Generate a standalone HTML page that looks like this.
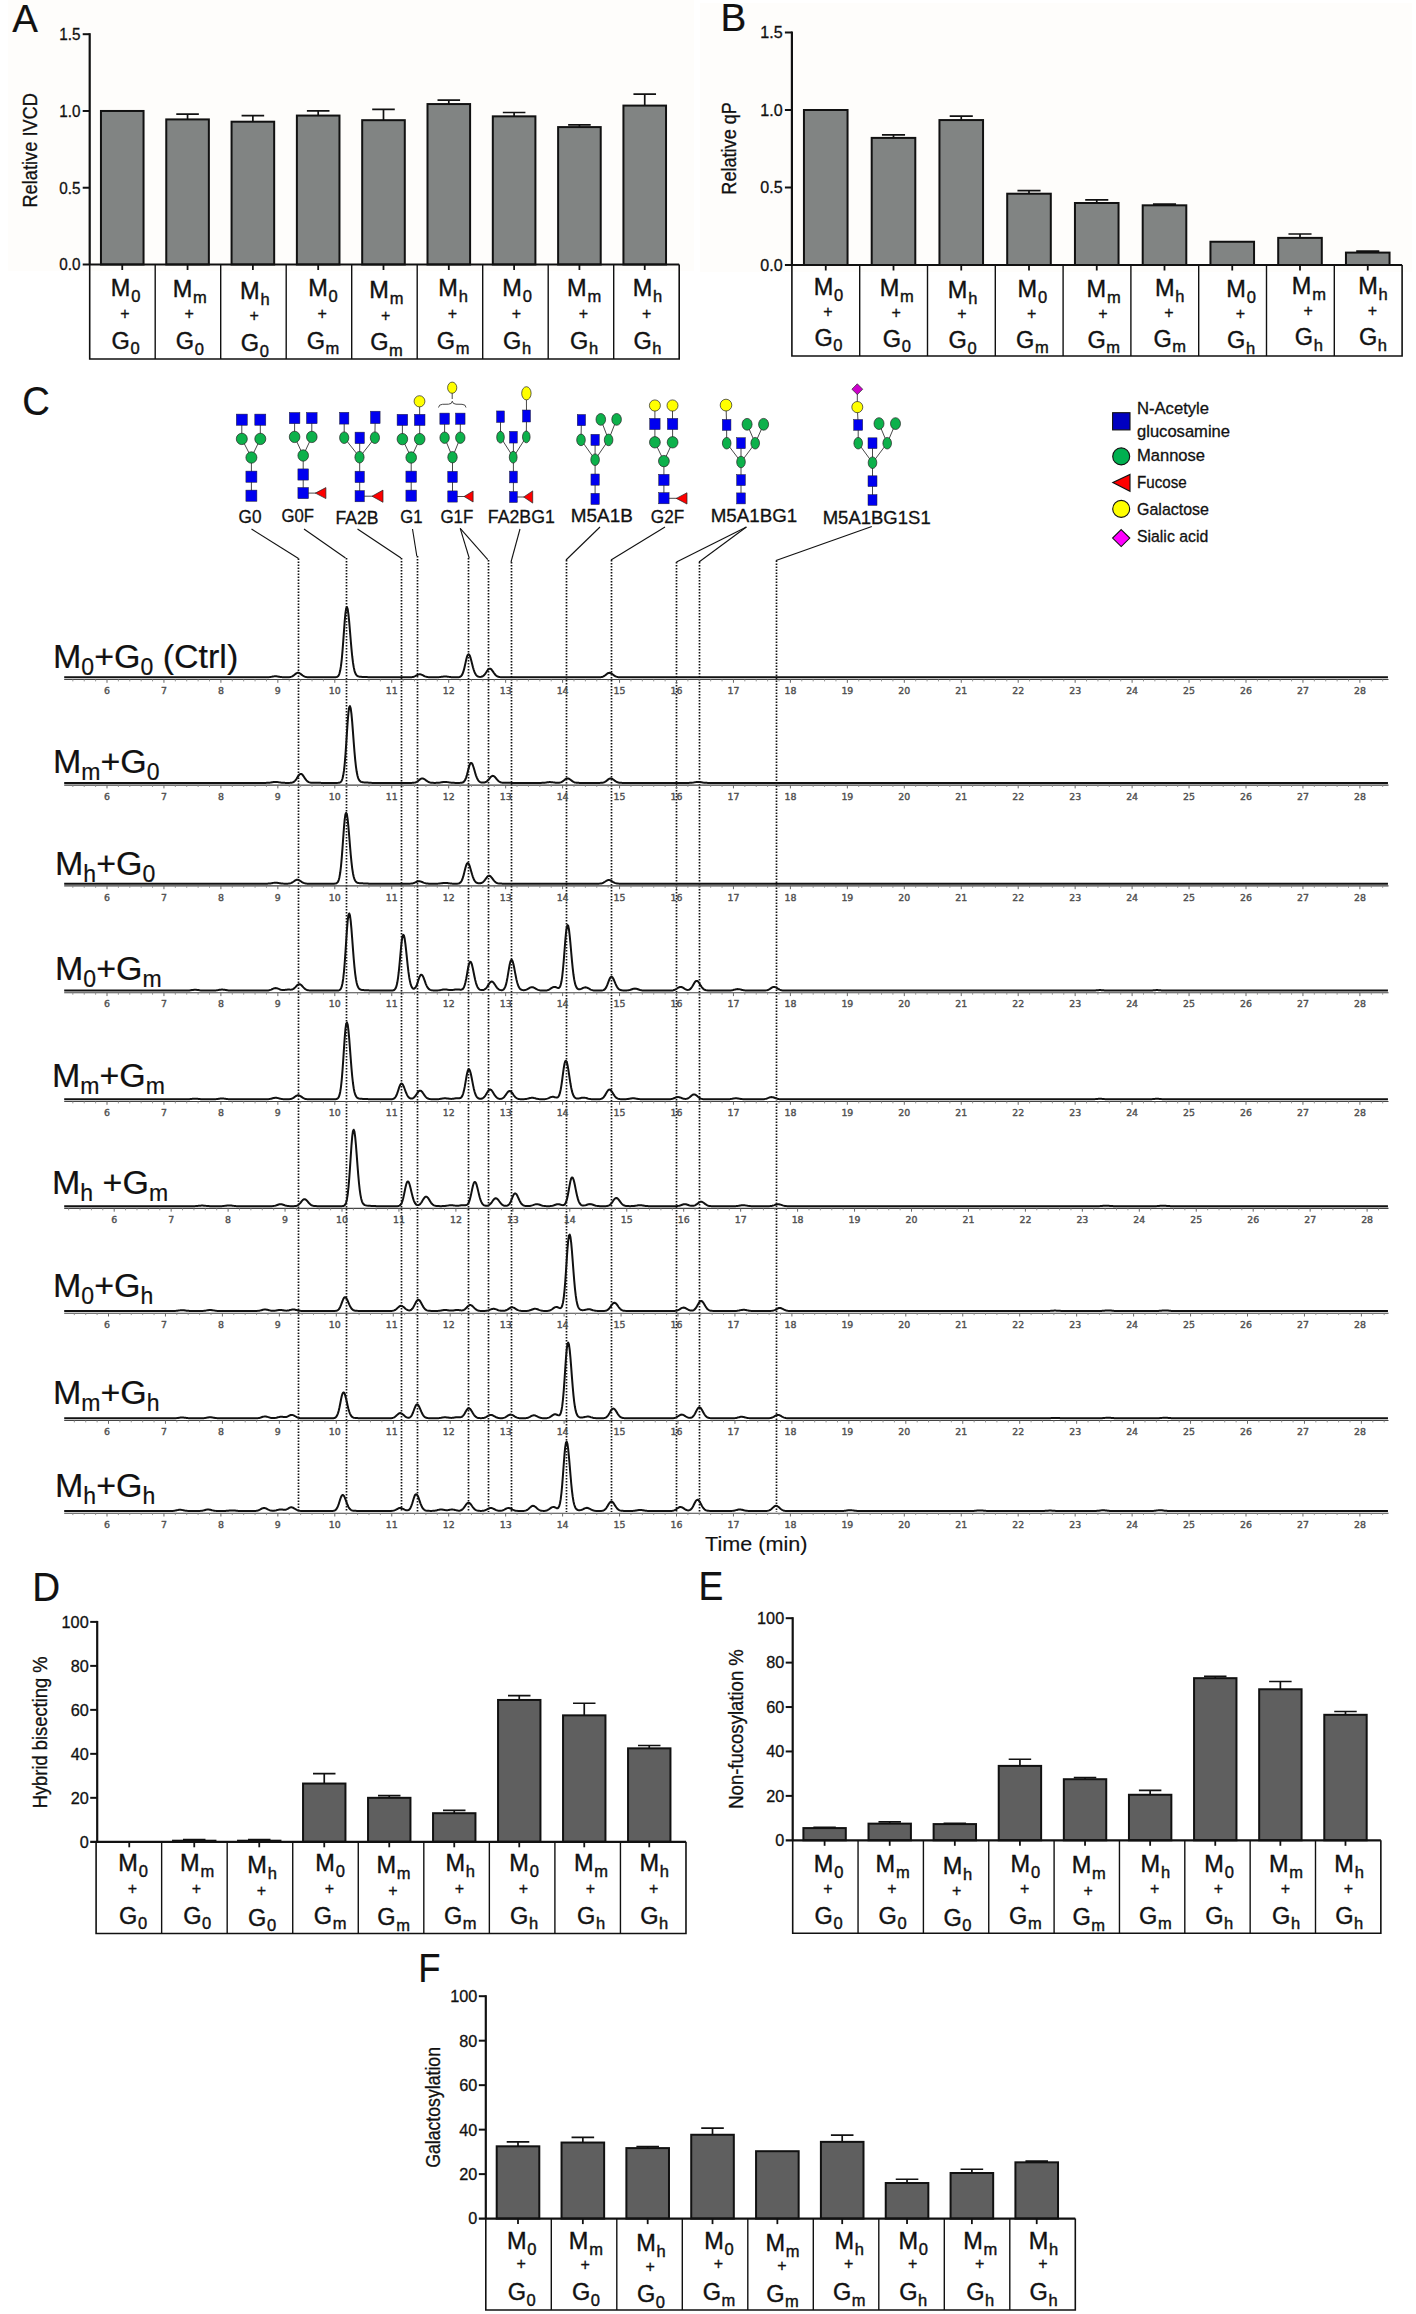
<!DOCTYPE html>
<html lang="en"><head><meta charset="utf-8"><title>Figure</title>
<style>html,body{margin:0;padding:0;background:#fff}svg{display:block}text{font-family:'Liberation Sans', sans-serif;fill:#111;stroke:#111;stroke-width:.3px}.tk text{font-family:'DejaVu Sans',sans-serif;font-size:9.4px;text-anchor:middle;fill:#505050;stroke:#505050;stroke-width:.4px}</style></head><body>
<svg width="1416" height="2314" viewBox="0 0 1416 2314">
<rect width="1416" height="2314" fill="#fff"/>
<rect x="8" y="0" width="686" height="271" fill="#fefdfb"/><rect x="700" y="3" width="712" height="269" fill="#fefdfb"/>
<text transform="translate(12.3 31.8) scale(0.97 1)" font-size="39.7" style="stroke-width:.2px">A</text>
<text transform="translate(720.6 31.1) scale(0.99 1)" font-size="39" style="stroke-width:.2px">B</text>
<text transform="translate(22.3 415.3) scale(0.95 1)" font-size="40.3" style="stroke-width:.2px">C</text>
<text transform="translate(32.2 1601) scale(0.965 1)" font-size="40" style="stroke-width:.2px">D</text>
<text transform="translate(698.5 1600.4) scale(0.93 1)" font-size="40" style="stroke-width:.2px">E</text>
<text transform="translate(418.2 1981.5) scale(0.91 1)" font-size="40" style="stroke-width:.2px">F</text>
<g id="chartA">
<rect x="100.95" y="110.97" width="42.6" height="153.53" fill="#818483" stroke="#111" stroke-width="2"/>
<path d="M187.56 119.41V114.04M176.27 114.04H198.85" stroke="#111" stroke-width="1.7" fill="none"/>
<rect x="166.26" y="119.41" width="42.6" height="145.09" fill="#818483" stroke="#111" stroke-width="2"/>
<path d="M252.87 121.71V115.57M241.58 115.57H264.16" stroke="#111" stroke-width="1.7" fill="none"/>
<rect x="231.57" y="121.71" width="42.6" height="142.79" fill="#818483" stroke="#111" stroke-width="2"/>
<path d="M318.18 115.57V110.97M306.89 110.97H329.47" stroke="#111" stroke-width="1.7" fill="none"/>
<rect x="296.88" y="115.57" width="42.6" height="148.93" fill="#818483" stroke="#111" stroke-width="2"/>
<path d="M383.49 120.18V109.43M372.2 109.43H394.78" stroke="#111" stroke-width="1.7" fill="none"/>
<rect x="362.19" y="120.18" width="42.6" height="144.32" fill="#818483" stroke="#111" stroke-width="2"/>
<path d="M448.8 104.06V100.22M437.51 100.22H460.09" stroke="#111" stroke-width="1.7" fill="none"/>
<rect x="427.5" y="104.06" width="42.6" height="160.44" fill="#818483" stroke="#111" stroke-width="2"/>
<path d="M514.11 116.34V112.5M502.82 112.5H525.4" stroke="#111" stroke-width="1.7" fill="none"/>
<rect x="492.81" y="116.34" width="42.6" height="148.16" fill="#818483" stroke="#111" stroke-width="2"/>
<path d="M579.42 127.09V124.78M568.13 124.78H590.71" stroke="#111" stroke-width="1.7" fill="none"/>
<rect x="558.12" y="127.09" width="42.6" height="137.41" fill="#818483" stroke="#111" stroke-width="2"/>
<path d="M644.73 105.59V94.08M633.44 94.08H656.02" stroke="#111" stroke-width="1.7" fill="none"/>
<rect x="623.43" y="105.59" width="42.6" height="158.91" fill="#818483" stroke="#111" stroke-width="2"/>
<path d="M89.7 33.2V264.5" stroke="#111" stroke-width="2.2" fill="none"/>
<path d="M82.7 264.5H679.2" stroke="#111" stroke-width="2.2" fill="none"/>
<text x="59.29" y="270.36" font-size="16.5" textLength="21.21" lengthAdjust="spacingAndGlyphs">0.0</text>
<path d="M82.7 187.73H89.7" stroke="#111" stroke-width="2" fill="none"/>
<text x="59.29" y="193.59" font-size="16.5" textLength="21.21" lengthAdjust="spacingAndGlyphs">0.5</text>
<path d="M82.7 110.97H89.7" stroke="#111" stroke-width="2" fill="none"/>
<text x="59.29" y="116.82" font-size="16.5" textLength="21.21" lengthAdjust="spacingAndGlyphs">1.0</text>
<path d="M82.7 34.2H89.7" stroke="#111" stroke-width="2" fill="none"/>
<text x="59.29" y="40.06" font-size="16.5" textLength="21.21" lengthAdjust="spacingAndGlyphs">1.5</text>
<path d="M122.25 264.5v5.5" stroke="#111" stroke-width="1.8" fill="none"/>
<path d="M187.56 264.5v5.5" stroke="#111" stroke-width="1.8" fill="none"/>
<path d="M252.87 264.5v5.5" stroke="#111" stroke-width="1.8" fill="none"/>
<path d="M318.18 264.5v5.5" stroke="#111" stroke-width="1.8" fill="none"/>
<path d="M383.49 264.5v5.5" stroke="#111" stroke-width="1.8" fill="none"/>
<path d="M448.8 264.5v5.5" stroke="#111" stroke-width="1.8" fill="none"/>
<path d="M514.11 264.5v5.5" stroke="#111" stroke-width="1.8" fill="none"/>
<path d="M579.42 264.5v5.5" stroke="#111" stroke-width="1.8" fill="none"/>
<path d="M644.73 264.5v5.5" stroke="#111" stroke-width="1.8" fill="none"/>
<path d="M89.7 264.5V359H679.2V264.5" stroke="#111" stroke-width="1.6" fill="none"/>
<path d="M155.2 264.5V359" stroke="#111" stroke-width="1.4" fill="none"/>
<path d="M220.7 264.5V359" stroke="#111" stroke-width="1.4" fill="none"/>
<path d="M286.2 264.5V359" stroke="#111" stroke-width="1.4" fill="none"/>
<path d="M351.7 264.5V359" stroke="#111" stroke-width="1.4" fill="none"/>
<path d="M417.2 264.5V359" stroke="#111" stroke-width="1.4" fill="none"/>
<path d="M482.7 264.5V359" stroke="#111" stroke-width="1.4" fill="none"/>
<path d="M548.2 264.5V359" stroke="#111" stroke-width="1.4" fill="none"/>
<path d="M613.7 264.5V359" stroke="#111" stroke-width="1.4" fill="none"/>
<text x="110.83" y="296.25" font-size="23.5" style="stroke-width:.4px">M<tspan font-size="16.5" dx="0.8" dy="6">0</tspan></text>
<text x="124.95" y="319.15" font-size="16" text-anchor="middle">+</text>
<text x="111.62" y="348.75" font-size="23.5" style="stroke-width:.4px">G<tspan font-size="16.5" dx="0.6" dy="5.5">0</tspan></text>
<text x="172.74" y="296.55" font-size="23.5" style="stroke-width:.4px">M<tspan font-size="16.5" dx="0.8" dy="6">m</tspan></text>
<text x="189.15" y="319.45" font-size="16" text-anchor="middle">+</text>
<text x="175.82" y="349.05" font-size="23.5" style="stroke-width:.4px">G<tspan font-size="16.5" dx="0.6" dy="5.5">0</tspan></text>
<text x="240.03" y="298.55" font-size="23.5" style="stroke-width:.4px">M<tspan font-size="16.5" dx="0.8" dy="6">h</tspan></text>
<text x="254.15" y="321.45" font-size="16" text-anchor="middle">+</text>
<text x="240.82" y="351.05" font-size="23.5" style="stroke-width:.4px">G<tspan font-size="16.5" dx="0.6" dy="5.5">0</tspan></text>
<text x="308.13" y="296.25" font-size="23.5" style="stroke-width:.4px">M<tspan font-size="16.5" dx="0.8" dy="6">0</tspan></text>
<text x="322.25" y="319.15" font-size="16" text-anchor="middle">+</text>
<text x="306.64" y="348.75" font-size="23.5" style="stroke-width:.4px">G<tspan font-size="16.5" dx="0.6" dy="5.5">m</tspan></text>
<text x="369.34" y="297.95" font-size="23.5" style="stroke-width:.4px">M<tspan font-size="16.5" dx="0.8" dy="6">m</tspan></text>
<text x="385.75" y="320.85" font-size="16" text-anchor="middle">+</text>
<text x="370.14" y="350.45" font-size="23.5" style="stroke-width:.4px">G<tspan font-size="16.5" dx="0.6" dy="5.5">m</tspan></text>
<text x="438.33" y="296.25" font-size="23.5" style="stroke-width:.4px">M<tspan font-size="16.5" dx="0.8" dy="6">h</tspan></text>
<text x="452.45" y="319.15" font-size="16" text-anchor="middle">+</text>
<text x="436.84" y="348.75" font-size="23.5" style="stroke-width:.4px">G<tspan font-size="16.5" dx="0.6" dy="5.5">m</tspan></text>
<text x="502.33" y="296.25" font-size="23.5" style="stroke-width:.4px">M<tspan font-size="16.5" dx="0.8" dy="6">0</tspan></text>
<text x="516.45" y="319.15" font-size="16" text-anchor="middle">+</text>
<text x="503.12" y="348.75" font-size="23.5" style="stroke-width:.4px">G<tspan font-size="16.5" dx="0.6" dy="5.5">h</tspan></text>
<text x="567.04" y="296.25" font-size="23.5" style="stroke-width:.4px">M<tspan font-size="16.5" dx="0.8" dy="6">m</tspan></text>
<text x="583.45" y="319.15" font-size="16" text-anchor="middle">+</text>
<text x="570.12" y="348.75" font-size="23.5" style="stroke-width:.4px">G<tspan font-size="16.5" dx="0.6" dy="5.5">h</tspan></text>
<text x="632.63" y="296.25" font-size="23.5" style="stroke-width:.4px">M<tspan font-size="16.5" dx="0.8" dy="6">h</tspan></text>
<text x="646.75" y="319.15" font-size="16" text-anchor="middle">+</text>
<text x="633.42" y="348.75" font-size="23.5" style="stroke-width:.4px">G<tspan font-size="16.5" dx="0.6" dy="5.5">h</tspan></text>
<text transform="translate(36.9 150.3) rotate(-90)" font-size="19.5" text-anchor="middle" textLength="114.5" lengthAdjust="spacingAndGlyphs">Relative IVCD</text>
</g>
<g id="chartB">
<rect x="803.95" y="110" width="43.6" height="155" fill="#818483" stroke="#111" stroke-width="2"/>
<path d="M893.5 137.9V134.8M881.95 134.8H905.05" stroke="#111" stroke-width="1.7" fill="none"/>
<rect x="871.7" y="137.9" width="43.6" height="127.1" fill="#818483" stroke="#111" stroke-width="2"/>
<path d="M961.25 120.07V116.2M949.7 116.2H972.8" stroke="#111" stroke-width="1.7" fill="none"/>
<rect x="939.45" y="120.07" width="43.6" height="144.93" fill="#818483" stroke="#111" stroke-width="2"/>
<path d="M1029 193.7V190.6M1017.45 190.6H1040.55" stroke="#111" stroke-width="1.7" fill="none"/>
<rect x="1007.2" y="193.7" width="43.6" height="71.3" fill="#818483" stroke="#111" stroke-width="2"/>
<path d="M1096.75 203V199.9M1085.2 199.9H1108.3" stroke="#111" stroke-width="1.7" fill="none"/>
<rect x="1074.95" y="203" width="43.6" height="62" fill="#818483" stroke="#111" stroke-width="2"/>
<path d="M1164.5 205.32V204.09M1152.95 204.09H1176.05" stroke="#111" stroke-width="1.7" fill="none"/>
<rect x="1142.7" y="205.32" width="43.6" height="59.68" fill="#818483" stroke="#111" stroke-width="2"/>
<rect x="1210.45" y="241.75" width="43.6" height="23.25" fill="#818483" stroke="#111" stroke-width="2"/>
<path d="M1300 237.88V234M1288.45 234H1311.55" stroke="#111" stroke-width="1.7" fill="none"/>
<rect x="1278.2" y="237.88" width="43.6" height="27.12" fill="#818483" stroke="#111" stroke-width="2"/>
<path d="M1367.75 252.6V251.05M1356.2 251.05H1379.3" stroke="#111" stroke-width="1.7" fill="none"/>
<rect x="1345.95" y="252.6" width="43.6" height="12.4" fill="#818483" stroke="#111" stroke-width="2"/>
<path d="M791.9 31.5V265" stroke="#111" stroke-width="2.2" fill="none"/>
<path d="M784.9 265H1402.1" stroke="#111" stroke-width="2.2" fill="none"/>
<text x="760.34" y="270.86" font-size="16.5" textLength="22.36" lengthAdjust="spacingAndGlyphs">0.0</text>
<path d="M784.9 187.5H791.9" stroke="#111" stroke-width="2" fill="none"/>
<text x="760.34" y="193.36" font-size="16.5" textLength="22.36" lengthAdjust="spacingAndGlyphs">0.5</text>
<path d="M784.9 110H791.9" stroke="#111" stroke-width="2" fill="none"/>
<text x="760.34" y="115.86" font-size="16.5" textLength="22.36" lengthAdjust="spacingAndGlyphs">1.0</text>
<path d="M784.9 32.5H791.9" stroke="#111" stroke-width="2" fill="none"/>
<text x="760.34" y="38.36" font-size="16.5" textLength="22.36" lengthAdjust="spacingAndGlyphs">1.5</text>
<path d="M825.75 265v5.5" stroke="#111" stroke-width="1.8" fill="none"/>
<path d="M893.5 265v5.5" stroke="#111" stroke-width="1.8" fill="none"/>
<path d="M961.25 265v5.5" stroke="#111" stroke-width="1.8" fill="none"/>
<path d="M1029 265v5.5" stroke="#111" stroke-width="1.8" fill="none"/>
<path d="M1096.75 265v5.5" stroke="#111" stroke-width="1.8" fill="none"/>
<path d="M1164.5 265v5.5" stroke="#111" stroke-width="1.8" fill="none"/>
<path d="M1232.25 265v5.5" stroke="#111" stroke-width="1.8" fill="none"/>
<path d="M1300 265v5.5" stroke="#111" stroke-width="1.8" fill="none"/>
<path d="M1367.75 265v5.5" stroke="#111" stroke-width="1.8" fill="none"/>
<path d="M791.9 265V356H1402.1V265" stroke="#111" stroke-width="1.6" fill="none"/>
<path d="M859.7 265V356" stroke="#111" stroke-width="1.4" fill="none"/>
<path d="M927.5 265V356" stroke="#111" stroke-width="1.4" fill="none"/>
<path d="M995.3 265V356" stroke="#111" stroke-width="1.4" fill="none"/>
<path d="M1063.1 265V356" stroke="#111" stroke-width="1.4" fill="none"/>
<path d="M1130.9 265V356" stroke="#111" stroke-width="1.4" fill="none"/>
<path d="M1198.7 265V356" stroke="#111" stroke-width="1.4" fill="none"/>
<path d="M1266.5 265V356" stroke="#111" stroke-width="1.4" fill="none"/>
<path d="M1334.3 265V356" stroke="#111" stroke-width="1.4" fill="none"/>
<text x="813.68" y="295" font-size="23.5" style="stroke-width:.4px">M<tspan font-size="16.5" dx="0.8" dy="6">0</tspan></text>
<text x="827.8" y="316.9" font-size="16" text-anchor="middle">+</text>
<text x="814.47" y="345.7" font-size="23.5" style="stroke-width:.4px">G<tspan font-size="16.5" dx="0.6" dy="5.5">0</tspan></text>
<text x="879.69" y="296" font-size="23.5" style="stroke-width:.4px">M<tspan font-size="16.5" dx="0.8" dy="6">m</tspan></text>
<text x="896.1" y="317.9" font-size="16" text-anchor="middle">+</text>
<text x="882.77" y="346.7" font-size="23.5" style="stroke-width:.4px">G<tspan font-size="16.5" dx="0.6" dy="5.5">0</tspan></text>
<text x="947.78" y="297.5" font-size="23.5" style="stroke-width:.4px">M<tspan font-size="16.5" dx="0.8" dy="6">h</tspan></text>
<text x="961.9" y="319.4" font-size="16" text-anchor="middle">+</text>
<text x="948.57" y="348.2" font-size="23.5" style="stroke-width:.4px">G<tspan font-size="16.5" dx="0.6" dy="5.5">0</tspan></text>
<text x="1017.58" y="297" font-size="23.5" style="stroke-width:.4px">M<tspan font-size="16.5" dx="0.8" dy="6">0</tspan></text>
<text x="1031.7" y="318.9" font-size="16" text-anchor="middle">+</text>
<text x="1016.09" y="347.7" font-size="23.5" style="stroke-width:.4px">G<tspan font-size="16.5" dx="0.6" dy="5.5">m</tspan></text>
<text x="1086.59" y="297" font-size="23.5" style="stroke-width:.4px">M<tspan font-size="16.5" dx="0.8" dy="6">m</tspan></text>
<text x="1103" y="318.9" font-size="16" text-anchor="middle">+</text>
<text x="1087.39" y="347.7" font-size="23.5" style="stroke-width:.4px">G<tspan font-size="16.5" dx="0.6" dy="5.5">m</tspan></text>
<text x="1154.88" y="296" font-size="23.5" style="stroke-width:.4px">M<tspan font-size="16.5" dx="0.8" dy="6">h</tspan></text>
<text x="1169" y="317.9" font-size="16" text-anchor="middle">+</text>
<text x="1153.39" y="346.7" font-size="23.5" style="stroke-width:.4px">G<tspan font-size="16.5" dx="0.6" dy="5.5">m</tspan></text>
<text x="1226.28" y="297.3" font-size="23.5" style="stroke-width:.4px">M<tspan font-size="16.5" dx="0.8" dy="6">0</tspan></text>
<text x="1240.4" y="319.2" font-size="16" text-anchor="middle">+</text>
<text x="1227.07" y="348" font-size="23.5" style="stroke-width:.4px">G<tspan font-size="16.5" dx="0.6" dy="5.5">h</tspan></text>
<text x="1291.79" y="294.4" font-size="23.5" style="stroke-width:.4px">M<tspan font-size="16.5" dx="0.8" dy="6">m</tspan></text>
<text x="1308.2" y="316.3" font-size="16" text-anchor="middle">+</text>
<text x="1294.87" y="345.1" font-size="23.5" style="stroke-width:.4px">G<tspan font-size="16.5" dx="0.6" dy="5.5">h</tspan></text>
<text x="1358.18" y="294.4" font-size="23.5" style="stroke-width:.4px">M<tspan font-size="16.5" dx="0.8" dy="6">h</tspan></text>
<text x="1372.3" y="316.3" font-size="16" text-anchor="middle">+</text>
<text x="1358.97" y="345.1" font-size="23.5" style="stroke-width:.4px">G<tspan font-size="16.5" dx="0.6" dy="5.5">h</tspan></text>
<text transform="translate(736 148.4) rotate(-90)" font-size="19.5" text-anchor="middle" textLength="92.5" lengthAdjust="spacingAndGlyphs">Relative qP</text>
</g>
<g id="chartD">
<path d="M194.25 1840.7V1839.6M183.01 1839.6H205.49" stroke="#111" stroke-width="1.7" fill="none"/>
<rect x="173.05" y="1840.7" width="42.4" height="1.1" fill="#5f5f5f" stroke="#111" stroke-width="2"/>
<path d="M259.25 1840.7V1839.6M248.01 1839.6H270.49" stroke="#111" stroke-width="1.7" fill="none"/>
<rect x="238.05" y="1840.7" width="42.4" height="1.1" fill="#5f5f5f" stroke="#111" stroke-width="2"/>
<path d="M324.25 1783.53V1773.63M313.01 1773.63H335.49" stroke="#111" stroke-width="1.7" fill="none"/>
<rect x="303.05" y="1783.53" width="42.4" height="58.27" fill="#5f5f5f" stroke="#111" stroke-width="2"/>
<path d="M389.25 1797.82V1795.62M378.01 1795.62H400.49" stroke="#111" stroke-width="1.7" fill="none"/>
<rect x="368.05" y="1797.82" width="42.4" height="43.98" fill="#5f5f5f" stroke="#111" stroke-width="2"/>
<path d="M454.25 1813.21V1810.35M443.01 1810.35H465.49" stroke="#111" stroke-width="1.7" fill="none"/>
<rect x="433.05" y="1813.21" width="42.4" height="28.59" fill="#5f5f5f" stroke="#111" stroke-width="2"/>
<path d="M519.25 1699.96V1695.57M508.01 1695.57H530.49" stroke="#111" stroke-width="1.7" fill="none"/>
<rect x="498.05" y="1699.96" width="42.4" height="141.84" fill="#5f5f5f" stroke="#111" stroke-width="2"/>
<path d="M584.25 1715.36V1703.26M573.01 1703.26H595.49" stroke="#111" stroke-width="1.7" fill="none"/>
<rect x="563.05" y="1715.36" width="42.4" height="126.44" fill="#5f5f5f" stroke="#111" stroke-width="2"/>
<path d="M649.25 1748.34V1745.48M638.01 1745.48H660.49" stroke="#111" stroke-width="1.7" fill="none"/>
<rect x="628.05" y="1748.34" width="42.4" height="93.46" fill="#5f5f5f" stroke="#111" stroke-width="2"/>
<path d="M97.2 1620.9V1841.8" stroke="#111" stroke-width="2.2" fill="none"/>
<path d="M90.2 1841.8H685.98" stroke="#111" stroke-width="2.2" fill="none"/>
<text x="79.66" y="1847.66" font-size="16.5" textLength="9.04" lengthAdjust="spacingAndGlyphs">0</text>
<path d="M90.2 1797.82H97.2" stroke="#111" stroke-width="2" fill="none"/>
<text x="70.63" y="1803.68" font-size="16.5" textLength="18.07" lengthAdjust="spacingAndGlyphs">20</text>
<path d="M90.2 1753.84H97.2" stroke="#111" stroke-width="2" fill="none"/>
<text x="70.63" y="1759.7" font-size="16.5" textLength="18.07" lengthAdjust="spacingAndGlyphs">40</text>
<path d="M90.2 1709.86H97.2" stroke="#111" stroke-width="2" fill="none"/>
<text x="70.63" y="1715.72" font-size="16.5" textLength="18.07" lengthAdjust="spacingAndGlyphs">60</text>
<path d="M90.2 1665.88H97.2" stroke="#111" stroke-width="2" fill="none"/>
<text x="70.63" y="1671.74" font-size="16.5" textLength="18.07" lengthAdjust="spacingAndGlyphs">80</text>
<path d="M90.2 1621.9H97.2" stroke="#111" stroke-width="2" fill="none"/>
<text x="61.59" y="1627.76" font-size="16.5" textLength="27.11" lengthAdjust="spacingAndGlyphs">100</text>
<path d="M129.25 1841.8v5.5" stroke="#111" stroke-width="1.8" fill="none"/>
<path d="M194.25 1841.8v5.5" stroke="#111" stroke-width="1.8" fill="none"/>
<path d="M259.25 1841.8v5.5" stroke="#111" stroke-width="1.8" fill="none"/>
<path d="M324.25 1841.8v5.5" stroke="#111" stroke-width="1.8" fill="none"/>
<path d="M389.25 1841.8v5.5" stroke="#111" stroke-width="1.8" fill="none"/>
<path d="M454.25 1841.8v5.5" stroke="#111" stroke-width="1.8" fill="none"/>
<path d="M519.25 1841.8v5.5" stroke="#111" stroke-width="1.8" fill="none"/>
<path d="M584.25 1841.8v5.5" stroke="#111" stroke-width="1.8" fill="none"/>
<path d="M649.25 1841.8v5.5" stroke="#111" stroke-width="1.8" fill="none"/>
<path d="M96.1 1841.8V1933.5H685.98V1841.8" stroke="#111" stroke-width="1.6" fill="none"/>
<path d="M161.64 1841.8V1933.5" stroke="#111" stroke-width="1.4" fill="none"/>
<path d="M227.18 1841.8V1933.5" stroke="#111" stroke-width="1.4" fill="none"/>
<path d="M292.73 1841.8V1933.5" stroke="#111" stroke-width="1.4" fill="none"/>
<path d="M358.27 1841.8V1933.5" stroke="#111" stroke-width="1.4" fill="none"/>
<path d="M423.81 1841.8V1933.5" stroke="#111" stroke-width="1.4" fill="none"/>
<path d="M489.35 1841.8V1933.5" stroke="#111" stroke-width="1.4" fill="none"/>
<path d="M554.9 1841.8V1933.5" stroke="#111" stroke-width="1.4" fill="none"/>
<path d="M620.44 1841.8V1933.5" stroke="#111" stroke-width="1.4" fill="none"/>
<text x="118.29" y="1870.9" font-size="23.5" style="stroke-width:.4px">M<tspan font-size="16.5" dx="0.8" dy="6">0</tspan></text>
<text x="132.41" y="1893.9" font-size="16" text-anchor="middle">+</text>
<text x="119.08" y="1923.5" font-size="23.5" style="stroke-width:.4px">G<tspan font-size="16.5" dx="0.6" dy="5.5">0</tspan></text>
<text x="180.12" y="1871.2" font-size="23.5" style="stroke-width:.4px">M<tspan font-size="16.5" dx="0.8" dy="6">m</tspan></text>
<text x="196.53" y="1894.2" font-size="16" text-anchor="middle">+</text>
<text x="183.2" y="1923.8" font-size="23.5" style="stroke-width:.4px">G<tspan font-size="16.5" dx="0.6" dy="5.5">0</tspan></text>
<text x="247.33" y="1873.2" font-size="23.5" style="stroke-width:.4px">M<tspan font-size="16.5" dx="0.8" dy="6">h</tspan></text>
<text x="261.45" y="1896.2" font-size="16" text-anchor="middle">+</text>
<text x="248.12" y="1925.8" font-size="23.5" style="stroke-width:.4px">G<tspan font-size="16.5" dx="0.6" dy="5.5">0</tspan></text>
<text x="315.35" y="1870.9" font-size="23.5" style="stroke-width:.4px">M<tspan font-size="16.5" dx="0.8" dy="6">0</tspan></text>
<text x="329.47" y="1893.9" font-size="16" text-anchor="middle">+</text>
<text x="313.86" y="1923.5" font-size="23.5" style="stroke-width:.4px">G<tspan font-size="16.5" dx="0.6" dy="5.5">m</tspan></text>
<text x="376.48" y="1872.6" font-size="23.5" style="stroke-width:.4px">M<tspan font-size="16.5" dx="0.8" dy="6">m</tspan></text>
<text x="392.89" y="1895.6" font-size="16" text-anchor="middle">+</text>
<text x="377.28" y="1925.2" font-size="23.5" style="stroke-width:.4px">G<tspan font-size="16.5" dx="0.6" dy="5.5">m</tspan></text>
<text x="445.39" y="1870.9" font-size="23.5" style="stroke-width:.4px">M<tspan font-size="16.5" dx="0.8" dy="6">h</tspan></text>
<text x="459.51" y="1893.9" font-size="16" text-anchor="middle">+</text>
<text x="443.9" y="1923.5" font-size="23.5" style="stroke-width:.4px">G<tspan font-size="16.5" dx="0.6" dy="5.5">m</tspan></text>
<text x="509.31" y="1870.9" font-size="23.5" style="stroke-width:.4px">M<tspan font-size="16.5" dx="0.8" dy="6">0</tspan></text>
<text x="523.43" y="1893.9" font-size="16" text-anchor="middle">+</text>
<text x="510.1" y="1923.5" font-size="23.5" style="stroke-width:.4px">G<tspan font-size="16.5" dx="0.6" dy="5.5">h</tspan></text>
<text x="573.94" y="1870.9" font-size="23.5" style="stroke-width:.4px">M<tspan font-size="16.5" dx="0.8" dy="6">m</tspan></text>
<text x="590.35" y="1893.9" font-size="16" text-anchor="middle">+</text>
<text x="577.02" y="1923.5" font-size="23.5" style="stroke-width:.4px">G<tspan font-size="16.5" dx="0.6" dy="5.5">h</tspan></text>
<text x="639.45" y="1870.9" font-size="23.5" style="stroke-width:.4px">M<tspan font-size="16.5" dx="0.8" dy="6">h</tspan></text>
<text x="653.57" y="1893.9" font-size="16" text-anchor="middle">+</text>
<text x="640.24" y="1923.5" font-size="23.5" style="stroke-width:.4px">G<tspan font-size="16.5" dx="0.6" dy="5.5">h</tspan></text>
<text transform="translate(46.8 1732.4) rotate(-90)" font-size="19.5" text-anchor="middle" textLength="151.8" lengthAdjust="spacingAndGlyphs">Hybrid bisecting %</text>
</g>
<g id="chartE">
<path d="M824.6 1828.08V1827.42M813.36 1827.42H835.84" stroke="#111" stroke-width="1.7" fill="none"/>
<rect x="803.4" y="1828.08" width="42.4" height="12.22" fill="#5f5f5f" stroke="#111" stroke-width="2"/>
<path d="M889.71 1823.64V1821.87M878.47 1821.87H900.95" stroke="#111" stroke-width="1.7" fill="none"/>
<rect x="868.51" y="1823.64" width="42.4" height="16.66" fill="#5f5f5f" stroke="#111" stroke-width="2"/>
<path d="M954.82 1824.09V1823.42M943.58 1823.42H966.06" stroke="#111" stroke-width="1.7" fill="none"/>
<rect x="933.62" y="1824.09" width="42.4" height="16.21" fill="#5f5f5f" stroke="#111" stroke-width="2"/>
<path d="M1019.93 1765.9V1759.23M1008.69 1759.23H1031.17" stroke="#111" stroke-width="1.7" fill="none"/>
<rect x="998.73" y="1765.9" width="42.4" height="74.4" fill="#5f5f5f" stroke="#111" stroke-width="2"/>
<path d="M1085.04 1779.22V1777.67M1073.8 1777.67H1096.28" stroke="#111" stroke-width="1.7" fill="none"/>
<rect x="1063.84" y="1779.22" width="42.4" height="61.08" fill="#5f5f5f" stroke="#111" stroke-width="2"/>
<path d="M1150.15 1794.77V1790.33M1138.91 1790.33H1161.39" stroke="#111" stroke-width="1.7" fill="none"/>
<rect x="1128.95" y="1794.77" width="42.4" height="45.53" fill="#5f5f5f" stroke="#111" stroke-width="2"/>
<path d="M1215.26 1678.17V1676.39M1204.02 1676.39H1226.5" stroke="#111" stroke-width="1.7" fill="none"/>
<rect x="1194.06" y="1678.17" width="42.4" height="162.13" fill="#5f5f5f" stroke="#111" stroke-width="2"/>
<path d="M1280.37 1689.27V1681.5M1269.13 1681.5H1291.61" stroke="#111" stroke-width="1.7" fill="none"/>
<rect x="1259.17" y="1689.27" width="42.4" height="151.03" fill="#5f5f5f" stroke="#111" stroke-width="2"/>
<path d="M1345.48 1714.81V1711.48M1334.24 1711.48H1356.72" stroke="#111" stroke-width="1.7" fill="none"/>
<rect x="1324.28" y="1714.81" width="42.4" height="125.49" fill="#5f5f5f" stroke="#111" stroke-width="2"/>
<path d="M792.7 1617.2V1840.3" stroke="#111" stroke-width="2.2" fill="none"/>
<path d="M785.7 1840.3H1380.85" stroke="#111" stroke-width="2.2" fill="none"/>
<text x="775.16" y="1846.16" font-size="16.5" textLength="9.04" lengthAdjust="spacingAndGlyphs">0</text>
<path d="M785.7 1795.88H792.7" stroke="#111" stroke-width="2" fill="none"/>
<text x="766.13" y="1801.74" font-size="16.5" textLength="18.07" lengthAdjust="spacingAndGlyphs">20</text>
<path d="M785.7 1751.46H792.7" stroke="#111" stroke-width="2" fill="none"/>
<text x="766.13" y="1757.32" font-size="16.5" textLength="18.07" lengthAdjust="spacingAndGlyphs">40</text>
<path d="M785.7 1707.04H792.7" stroke="#111" stroke-width="2" fill="none"/>
<text x="766.13" y="1712.9" font-size="16.5" textLength="18.07" lengthAdjust="spacingAndGlyphs">60</text>
<path d="M785.7 1662.62H792.7" stroke="#111" stroke-width="2" fill="none"/>
<text x="766.13" y="1668.48" font-size="16.5" textLength="18.07" lengthAdjust="spacingAndGlyphs">80</text>
<path d="M785.7 1618.2H792.7" stroke="#111" stroke-width="2" fill="none"/>
<text x="757.09" y="1624.06" font-size="16.5" textLength="27.11" lengthAdjust="spacingAndGlyphs">100</text>
<path d="M824.6 1840.3v5.5" stroke="#111" stroke-width="1.8" fill="none"/>
<path d="M889.71 1840.3v5.5" stroke="#111" stroke-width="1.8" fill="none"/>
<path d="M954.82 1840.3v5.5" stroke="#111" stroke-width="1.8" fill="none"/>
<path d="M1019.93 1840.3v5.5" stroke="#111" stroke-width="1.8" fill="none"/>
<path d="M1085.04 1840.3v5.5" stroke="#111" stroke-width="1.8" fill="none"/>
<path d="M1150.15 1840.3v5.5" stroke="#111" stroke-width="1.8" fill="none"/>
<path d="M1215.26 1840.3v5.5" stroke="#111" stroke-width="1.8" fill="none"/>
<path d="M1280.37 1840.3v5.5" stroke="#111" stroke-width="1.8" fill="none"/>
<path d="M1345.48 1840.3v5.5" stroke="#111" stroke-width="1.8" fill="none"/>
<path d="M792.7 1840.3V1933.3H1380.85V1840.3" stroke="#111" stroke-width="1.6" fill="none"/>
<path d="M858.05 1840.3V1933.3" stroke="#111" stroke-width="1.4" fill="none"/>
<path d="M923.4 1840.3V1933.3" stroke="#111" stroke-width="1.4" fill="none"/>
<path d="M988.75 1840.3V1933.3" stroke="#111" stroke-width="1.4" fill="none"/>
<path d="M1054.1 1840.3V1933.3" stroke="#111" stroke-width="1.4" fill="none"/>
<path d="M1119.45 1840.3V1933.3" stroke="#111" stroke-width="1.4" fill="none"/>
<path d="M1184.8 1840.3V1933.3" stroke="#111" stroke-width="1.4" fill="none"/>
<path d="M1250.15 1840.3V1933.3" stroke="#111" stroke-width="1.4" fill="none"/>
<path d="M1315.5 1840.3V1933.3" stroke="#111" stroke-width="1.4" fill="none"/>
<text x="813.75" y="1871.5" font-size="23.5" style="stroke-width:.4px">M<tspan font-size="16.5" dx="0.8" dy="6">0</tspan></text>
<text x="827.88" y="1894.1" font-size="16" text-anchor="middle">+</text>
<text x="814.55" y="1923.6" font-size="23.5" style="stroke-width:.4px">G<tspan font-size="16.5" dx="0.6" dy="5.5">0</tspan></text>
<text x="875.52" y="1871.8" font-size="23.5" style="stroke-width:.4px">M<tspan font-size="16.5" dx="0.8" dy="6">m</tspan></text>
<text x="891.93" y="1894.4" font-size="16" text-anchor="middle">+</text>
<text x="878.6" y="1923.9" font-size="23.5" style="stroke-width:.4px">G<tspan font-size="16.5" dx="0.6" dy="5.5">0</tspan></text>
<text x="942.65" y="1873.8" font-size="23.5" style="stroke-width:.4px">M<tspan font-size="16.5" dx="0.8" dy="6">h</tspan></text>
<text x="956.78" y="1896.4" font-size="16" text-anchor="middle">+</text>
<text x="943.45" y="1925.9" font-size="23.5" style="stroke-width:.4px">G<tspan font-size="16.5" dx="0.6" dy="5.5">0</tspan></text>
<text x="1010.6" y="1871.5" font-size="23.5" style="stroke-width:.4px">M<tspan font-size="16.5" dx="0.8" dy="6">0</tspan></text>
<text x="1024.72" y="1894.1" font-size="16" text-anchor="middle">+</text>
<text x="1009.11" y="1923.6" font-size="23.5" style="stroke-width:.4px">G<tspan font-size="16.5" dx="0.6" dy="5.5">m</tspan></text>
<text x="1071.66" y="1873.2" font-size="23.5" style="stroke-width:.4px">M<tspan font-size="16.5" dx="0.8" dy="6">m</tspan></text>
<text x="1088.08" y="1895.8" font-size="16" text-anchor="middle">+</text>
<text x="1072.46" y="1925.3" font-size="23.5" style="stroke-width:.4px">G<tspan font-size="16.5" dx="0.6" dy="5.5">m</tspan></text>
<text x="1140.5" y="1871.5" font-size="23.5" style="stroke-width:.4px">M<tspan font-size="16.5" dx="0.8" dy="6">h</tspan></text>
<text x="1154.62" y="1894.1" font-size="16" text-anchor="middle">+</text>
<text x="1139.01" y="1923.6" font-size="23.5" style="stroke-width:.4px">G<tspan font-size="16.5" dx="0.6" dy="5.5">m</tspan></text>
<text x="1204.35" y="1871.5" font-size="23.5" style="stroke-width:.4px">M<tspan font-size="16.5" dx="0.8" dy="6">0</tspan></text>
<text x="1218.47" y="1894.1" font-size="16" text-anchor="middle">+</text>
<text x="1205.15" y="1923.6" font-size="23.5" style="stroke-width:.4px">G<tspan font-size="16.5" dx="0.6" dy="5.5">h</tspan></text>
<text x="1268.91" y="1871.5" font-size="23.5" style="stroke-width:.4px">M<tspan font-size="16.5" dx="0.8" dy="6">m</tspan></text>
<text x="1285.33" y="1894.1" font-size="16" text-anchor="middle">+</text>
<text x="1272" y="1923.6" font-size="23.5" style="stroke-width:.4px">G<tspan font-size="16.5" dx="0.6" dy="5.5">h</tspan></text>
<text x="1334.35" y="1871.5" font-size="23.5" style="stroke-width:.4px">M<tspan font-size="16.5" dx="0.8" dy="6">h</tspan></text>
<text x="1348.47" y="1894.1" font-size="16" text-anchor="middle">+</text>
<text x="1335.15" y="1923.6" font-size="23.5" style="stroke-width:.4px">G<tspan font-size="16.5" dx="0.6" dy="5.5">h</tspan></text>
<text transform="translate(742.8 1729) rotate(-90)" font-size="19.5" text-anchor="middle" textLength="159.6" lengthAdjust="spacingAndGlyphs">Non-fucosylation %</text>
</g>
<g id="chartF">
<path d="M518 2146.32V2141.87M506.71 2141.87H529.29" stroke="#111" stroke-width="1.7" fill="none"/>
<rect x="496.7" y="2146.32" width="42.6" height="72.28" fill="#5f5f5f" stroke="#111" stroke-width="2"/>
<path d="M582.84 2142.54V2137.42M571.55 2137.42H594.13" stroke="#111" stroke-width="1.7" fill="none"/>
<rect x="561.54" y="2142.54" width="42.6" height="76.06" fill="#5f5f5f" stroke="#111" stroke-width="2"/>
<path d="M647.68 2148.1V2146.54M636.39 2146.54H658.97" stroke="#111" stroke-width="1.7" fill="none"/>
<rect x="626.38" y="2148.1" width="42.6" height="70.5" fill="#5f5f5f" stroke="#111" stroke-width="2"/>
<path d="M712.52 2134.76V2128.08M701.23 2128.08H723.81" stroke="#111" stroke-width="1.7" fill="none"/>
<rect x="691.22" y="2134.76" width="42.6" height="83.84" fill="#5f5f5f" stroke="#111" stroke-width="2"/>
<rect x="756.06" y="2151.21" width="42.6" height="67.39" fill="#5f5f5f" stroke="#111" stroke-width="2"/>
<path d="M842.2 2141.87V2135.2M830.91 2135.2H853.49" stroke="#111" stroke-width="1.7" fill="none"/>
<rect x="820.9" y="2141.87" width="42.6" height="76.73" fill="#5f5f5f" stroke="#111" stroke-width="2"/>
<path d="M907.04 2183.02V2179.24M895.75 2179.24H918.33" stroke="#111" stroke-width="1.7" fill="none"/>
<rect x="885.74" y="2183.02" width="42.6" height="35.58" fill="#5f5f5f" stroke="#111" stroke-width="2"/>
<path d="M971.88 2173.01V2169.23M960.59 2169.23H983.17" stroke="#111" stroke-width="1.7" fill="none"/>
<rect x="950.58" y="2173.01" width="42.6" height="45.59" fill="#5f5f5f" stroke="#111" stroke-width="2"/>
<path d="M1036.72 2162.33V2161.22M1025.43 2161.22H1048.01" stroke="#111" stroke-width="1.7" fill="none"/>
<rect x="1015.42" y="2162.33" width="42.6" height="56.27" fill="#5f5f5f" stroke="#111" stroke-width="2"/>
<path d="M485.8 1995.2V2218.6" stroke="#111" stroke-width="2.2" fill="none"/>
<path d="M478.8 2218.6H1075.3" stroke="#111" stroke-width="2.2" fill="none"/>
<text x="468.26" y="2224.46" font-size="16.5" textLength="9.04" lengthAdjust="spacingAndGlyphs">0</text>
<path d="M478.8 2174.12H485.8" stroke="#111" stroke-width="2" fill="none"/>
<text x="459.23" y="2179.98" font-size="16.5" textLength="18.07" lengthAdjust="spacingAndGlyphs">20</text>
<path d="M478.8 2129.64H485.8" stroke="#111" stroke-width="2" fill="none"/>
<text x="459.23" y="2135.5" font-size="16.5" textLength="18.07" lengthAdjust="spacingAndGlyphs">40</text>
<path d="M478.8 2085.16H485.8" stroke="#111" stroke-width="2" fill="none"/>
<text x="459.23" y="2091.02" font-size="16.5" textLength="18.07" lengthAdjust="spacingAndGlyphs">60</text>
<path d="M478.8 2040.68H485.8" stroke="#111" stroke-width="2" fill="none"/>
<text x="459.23" y="2046.54" font-size="16.5" textLength="18.07" lengthAdjust="spacingAndGlyphs">80</text>
<path d="M478.8 1996.2H485.8" stroke="#111" stroke-width="2" fill="none"/>
<text x="450.19" y="2002.06" font-size="16.5" textLength="27.11" lengthAdjust="spacingAndGlyphs">100</text>
<path d="M518 2218.6v5.5" stroke="#111" stroke-width="1.8" fill="none"/>
<path d="M582.84 2218.6v5.5" stroke="#111" stroke-width="1.8" fill="none"/>
<path d="M647.68 2218.6v5.5" stroke="#111" stroke-width="1.8" fill="none"/>
<path d="M712.52 2218.6v5.5" stroke="#111" stroke-width="1.8" fill="none"/>
<path d="M777.36 2218.6v5.5" stroke="#111" stroke-width="1.8" fill="none"/>
<path d="M842.2 2218.6v5.5" stroke="#111" stroke-width="1.8" fill="none"/>
<path d="M907.04 2218.6v5.5" stroke="#111" stroke-width="1.8" fill="none"/>
<path d="M971.88 2218.6v5.5" stroke="#111" stroke-width="1.8" fill="none"/>
<path d="M1036.72 2218.6v5.5" stroke="#111" stroke-width="1.8" fill="none"/>
<path d="M485.8 2218.6V2310H1075.3V2218.6" stroke="#111" stroke-width="1.6" fill="none"/>
<path d="M551.3 2218.6V2310" stroke="#111" stroke-width="1.4" fill="none"/>
<path d="M616.8 2218.6V2310" stroke="#111" stroke-width="1.4" fill="none"/>
<path d="M682.3 2218.6V2310" stroke="#111" stroke-width="1.4" fill="none"/>
<path d="M747.8 2218.6V2310" stroke="#111" stroke-width="1.4" fill="none"/>
<path d="M813.3 2218.6V2310" stroke="#111" stroke-width="1.4" fill="none"/>
<path d="M878.8 2218.6V2310" stroke="#111" stroke-width="1.4" fill="none"/>
<path d="M944.3 2218.6V2310" stroke="#111" stroke-width="1.4" fill="none"/>
<path d="M1009.8 2218.6V2310" stroke="#111" stroke-width="1.4" fill="none"/>
<text x="506.93" y="2249" font-size="23.5" style="stroke-width:.4px">M<tspan font-size="16.5" dx="0.8" dy="6">0</tspan></text>
<text x="521.05" y="2269.4" font-size="16" text-anchor="middle">+</text>
<text x="507.72" y="2300" font-size="23.5" style="stroke-width:.4px">G<tspan font-size="16.5" dx="0.6" dy="5.5">0</tspan></text>
<text x="568.84" y="2249.3" font-size="23.5" style="stroke-width:.4px">M<tspan font-size="16.5" dx="0.8" dy="6">m</tspan></text>
<text x="585.25" y="2269.7" font-size="16" text-anchor="middle">+</text>
<text x="571.92" y="2300.3" font-size="23.5" style="stroke-width:.4px">G<tspan font-size="16.5" dx="0.6" dy="5.5">0</tspan></text>
<text x="636.13" y="2251.3" font-size="23.5" style="stroke-width:.4px">M<tspan font-size="16.5" dx="0.8" dy="6">h</tspan></text>
<text x="650.25" y="2271.7" font-size="16" text-anchor="middle">+</text>
<text x="636.92" y="2302.3" font-size="23.5" style="stroke-width:.4px">G<tspan font-size="16.5" dx="0.6" dy="5.5">0</tspan></text>
<text x="704.23" y="2249" font-size="23.5" style="stroke-width:.4px">M<tspan font-size="16.5" dx="0.8" dy="6">0</tspan></text>
<text x="718.35" y="2269.4" font-size="16" text-anchor="middle">+</text>
<text x="702.74" y="2300" font-size="23.5" style="stroke-width:.4px">G<tspan font-size="16.5" dx="0.6" dy="5.5">m</tspan></text>
<text x="765.44" y="2250.7" font-size="23.5" style="stroke-width:.4px">M<tspan font-size="16.5" dx="0.8" dy="6">m</tspan></text>
<text x="781.85" y="2271.1" font-size="16" text-anchor="middle">+</text>
<text x="766.24" y="2301.7" font-size="23.5" style="stroke-width:.4px">G<tspan font-size="16.5" dx="0.6" dy="5.5">m</tspan></text>
<text x="834.43" y="2249" font-size="23.5" style="stroke-width:.4px">M<tspan font-size="16.5" dx="0.8" dy="6">h</tspan></text>
<text x="848.55" y="2269.4" font-size="16" text-anchor="middle">+</text>
<text x="832.94" y="2300" font-size="23.5" style="stroke-width:.4px">G<tspan font-size="16.5" dx="0.6" dy="5.5">m</tspan></text>
<text x="898.43" y="2249" font-size="23.5" style="stroke-width:.4px">M<tspan font-size="16.5" dx="0.8" dy="6">0</tspan></text>
<text x="912.55" y="2269.4" font-size="16" text-anchor="middle">+</text>
<text x="899.22" y="2300" font-size="23.5" style="stroke-width:.4px">G<tspan font-size="16.5" dx="0.6" dy="5.5">h</tspan></text>
<text x="963.14" y="2249" font-size="23.5" style="stroke-width:.4px">M<tspan font-size="16.5" dx="0.8" dy="6">m</tspan></text>
<text x="979.55" y="2269.4" font-size="16" text-anchor="middle">+</text>
<text x="966.22" y="2300" font-size="23.5" style="stroke-width:.4px">G<tspan font-size="16.5" dx="0.6" dy="5.5">h</tspan></text>
<text x="1028.73" y="2249" font-size="23.5" style="stroke-width:.4px">M<tspan font-size="16.5" dx="0.8" dy="6">h</tspan></text>
<text x="1042.85" y="2269.4" font-size="16" text-anchor="middle">+</text>
<text x="1029.52" y="2300" font-size="23.5" style="stroke-width:.4px">G<tspan font-size="16.5" dx="0.6" dy="5.5">h</tspan></text>
<text transform="translate(440.3 2107.4) rotate(-90)" font-size="19.5" text-anchor="middle" textLength="120.8" lengthAdjust="spacingAndGlyphs">Galactosylation</text>
</g>
<g id="panelC">
<path d="M241.8 419.7L241.8 438.9L251.4 457.5" fill="none" stroke="#333" stroke-width="0.9"/>
<path d="M260.3 419.7L260.3 438.9L251.4 457.5" fill="none" stroke="#333" stroke-width="0.9"/>
<path d="M251.4 457.5L251.4 495.7" fill="none" stroke="#333" stroke-width="0.9"/>
<path d="M294.6 418.1L294.6 436.9L303.2 455.5" fill="none" stroke="#333" stroke-width="0.9"/>
<path d="M311.8 418.1L311.8 436.9L303.2 455.5" fill="none" stroke="#333" stroke-width="0.9"/>
<path d="M303.2 455.5L303.2 493.1" fill="none" stroke="#333" stroke-width="0.9"/>
<path d="M303.4 493.1L316 493.1" fill="none" stroke="#333" stroke-width="0.9"/>
<path d="M344.2 418.2L344.2 437.7L359.6 457.2" fill="none" stroke="#333" stroke-width="0.9"/>
<path d="M375.2 417.4L374.9 437.7L359.6 457.2" fill="none" stroke="#333" stroke-width="0.9"/>
<path d="M359.7 437.9L359.7 496.2L372.5 496.2" fill="none" stroke="#333" stroke-width="0.9"/>
<path d="M419.6 401.3L419.7 419.9" fill="none" stroke="#333" stroke-width="0.9"/>
<path d="M402.4 419.9L402.4 439.1L411.2 457.5" fill="none" stroke="#333" stroke-width="0.9"/>
<path d="M419.7 419.9L419.7 439.1L411.2 457.5" fill="none" stroke="#333" stroke-width="0.9"/>
<path d="M411.2 457.5L411.2 495.7" fill="none" stroke="#333" stroke-width="0.9"/>
<path d="M452.2 393L452.2 399" fill="none" stroke="#333" stroke-width="0.9"/>
<path d="M438.5 407.5Q438.8 404.4 442.5 404.3L448.5 404.2Q452 404.1 452.3 401.2Q452.6 404.1 456 404.2L462 404.3Q465.8 404.4 466 407.5" fill="none" stroke="#333" stroke-width="0.9"/>
<path d="M444.6 418.7L444.6 437.7L452.5 457.2" fill="none" stroke="#333" stroke-width="0.9"/>
<path d="M460.3 418.7L460.3 437.7L452.5 457.2" fill="none" stroke="#333" stroke-width="0.9"/>
<path d="M452.5 457.2L452.5 496.5" fill="none" stroke="#333" stroke-width="0.9"/>
<path d="M452.6 496.5L465 496.5" fill="none" stroke="#333" stroke-width="0.9"/>
<path d="M526.4 393.3L526.5 416" fill="none" stroke="#333" stroke-width="0.9"/>
<path d="M500.5 416.7L500.5 437.2L513.3 457.2" fill="none" stroke="#333" stroke-width="0.9"/>
<path d="M526.5 416L526.3 436.9L513.3 457.2" fill="none" stroke="#333" stroke-width="0.9"/>
<path d="M513.4 437.2L513.4 497L524 497" fill="none" stroke="#333" stroke-width="0.9"/>
<path d="M581.4 420.1L581 439.9L595.1 459.7" fill="none" stroke="#333" stroke-width="0.9"/>
<path d="M600.8 419.4L608.6 439.9L616.6 419.4" fill="none" stroke="#333" stroke-width="0.9"/>
<path d="M608.6 439.9L595.1 459.7" fill="none" stroke="#333" stroke-width="0.9"/>
<path d="M595.1 439.9L595.1 498.9" fill="none" stroke="#333" stroke-width="0.9"/>
<path d="M654.9 405.5L654.9 424" fill="none" stroke="#333" stroke-width="0.9"/>
<path d="M672.5 405.5L672.5 424" fill="none" stroke="#333" stroke-width="0.9"/>
<path d="M654.9 424L654.9 442.3L663.9 461.1" fill="none" stroke="#333" stroke-width="0.9"/>
<path d="M672.6 424L672.6 442.3L663.9 461.1" fill="none" stroke="#333" stroke-width="0.9"/>
<path d="M663.9 461.1L663.9 498.2" fill="none" stroke="#333" stroke-width="0.9"/>
<path d="M663.8 498.3L677 498.3" fill="none" stroke="#333" stroke-width="0.9"/>
<path d="M726 405.1L726.6 424.9" fill="none" stroke="#333" stroke-width="0.9"/>
<path d="M726.6 424.9L726.7 443.2L741 462" fill="none" stroke="#333" stroke-width="0.9"/>
<path d="M747.1 424.3L755.2 443.2L763.6 424.3" fill="none" stroke="#333" stroke-width="0.9"/>
<path d="M755.2 443.2L741 462" fill="none" stroke="#333" stroke-width="0.9"/>
<path d="M741 443.2L741 498.4" fill="none" stroke="#333" stroke-width="0.9"/>
<path d="M857.3 389.2L857.3 407.1L858.2 424.9" fill="none" stroke="#333" stroke-width="0.9"/>
<path d="M858.2 424.9L858.2 443.2L872.5 462.7" fill="none" stroke="#333" stroke-width="0.9"/>
<path d="M879 423.6L887.2 443.2L895.5 423.6" fill="none" stroke="#333" stroke-width="0.9"/>
<path d="M887.2 443.2L872.5 462.7" fill="none" stroke="#333" stroke-width="0.9"/>
<path d="M872.5 443.2L872.5 500" fill="none" stroke="#333" stroke-width="0.9"/>
<rect x="236.3" y="414.1" width="11" height="11.2" fill="#0000f0" stroke="#223" stroke-width="0.5"/>
<rect x="254.8" y="414.1" width="11" height="11.2" fill="#0000f0" stroke="#223" stroke-width="0.5"/>
<ellipse cx="241.8" cy="438.9" rx="5.5" ry="5.7" fill="#0db14b" stroke="#222" stroke-width="0.7"/>
<ellipse cx="260.3" cy="438.9" rx="5.5" ry="5.7" fill="#0db14b" stroke="#222" stroke-width="0.7"/>
<ellipse cx="251.4" cy="457.5" rx="5.5" ry="5.7" fill="#0db14b" stroke="#222" stroke-width="0.7"/>
<rect x="245.9" y="471.1" width="11" height="11.2" fill="#0000f0" stroke="#223" stroke-width="0.5"/>
<rect x="245.9" y="490.1" width="11" height="11.2" fill="#0000f0" stroke="#223" stroke-width="0.5"/>
<rect x="289.3" y="412.5" width="10.6" height="11.2" fill="#0000f0" stroke="#223" stroke-width="0.5"/>
<rect x="306.5" y="412.5" width="10.6" height="11.2" fill="#0000f0" stroke="#223" stroke-width="0.5"/>
<ellipse cx="294.6" cy="436.9" rx="5.3" ry="5.7" fill="#0db14b" stroke="#222" stroke-width="0.7"/>
<ellipse cx="311.8" cy="436.9" rx="5.3" ry="5.7" fill="#0db14b" stroke="#222" stroke-width="0.7"/>
<ellipse cx="303.2" cy="455.5" rx="5.3" ry="5.7" fill="#0db14b" stroke="#222" stroke-width="0.7"/>
<rect x="297.9" y="468.9" width="10.6" height="11.2" fill="#0000f0" stroke="#223" stroke-width="0.5"/>
<rect x="297.9" y="487.5" width="10.6" height="11.2" fill="#0000f0" stroke="#223" stroke-width="0.5"/>
<path d="M315.4 493.1L325.9 487.6V498.6Z" fill="#fe0000" stroke="#222" stroke-width="0.7"/>
<rect x="339.55" y="412.3" width="9.3" height="11.8" fill="#0000f0" stroke="#223" stroke-width="0.5"/>
<rect x="370.5" y="411.2" width="9.6" height="12.4" fill="#0000f0" stroke="#223" stroke-width="0.5"/>
<ellipse cx="344.2" cy="437.7" rx="4.6" ry="5.8" fill="#0db14b" stroke="#222" stroke-width="0.7"/>
<ellipse cx="374.9" cy="437.7" rx="4.6" ry="5.8" fill="#0db14b" stroke="#222" stroke-width="0.7"/>
<rect x="355.05" y="432.15" width="9.3" height="11.5" fill="#0000f0" stroke="#223" stroke-width="0.5"/>
<ellipse cx="359.5" cy="457.2" rx="4.6" ry="5.8" fill="#0db14b" stroke="#222" stroke-width="0.7"/>
<rect x="355.05" y="471.2" width="9.3" height="11.4" fill="#0000f0" stroke="#223" stroke-width="0.5"/>
<rect x="355.05" y="490.6" width="9.3" height="11.2" fill="#0000f0" stroke="#223" stroke-width="0.5"/>
<path d="M372 496.2L383 490.1V502.3Z" fill="#fe0000" stroke="#222" stroke-width="0.7"/>
<ellipse cx="419.5" cy="401.3" rx="5.4" ry="5.6" fill="#ffff00" stroke="#222" stroke-width="0.7"/>
<rect x="397.1" y="414.3" width="10.6" height="11.2" fill="#0000f0" stroke="#223" stroke-width="0.5"/>
<rect x="414.4" y="414.3" width="10.6" height="11.2" fill="#0000f0" stroke="#223" stroke-width="0.5"/>
<ellipse cx="402.4" cy="439.1" rx="5.3" ry="5.7" fill="#0db14b" stroke="#222" stroke-width="0.7"/>
<ellipse cx="419.7" cy="439.1" rx="5.3" ry="5.7" fill="#0db14b" stroke="#222" stroke-width="0.7"/>
<ellipse cx="411.2" cy="457.5" rx="5.3" ry="5.7" fill="#0db14b" stroke="#222" stroke-width="0.7"/>
<rect x="405.9" y="471.1" width="10.6" height="11.2" fill="#0000f0" stroke="#223" stroke-width="0.5"/>
<rect x="405.9" y="490.1" width="10.6" height="11.2" fill="#0000f0" stroke="#223" stroke-width="0.5"/>
<ellipse cx="452.2" cy="387.7" rx="4.6" ry="5.6" fill="#ffff00" stroke="#222" stroke-width="0.7"/>
<rect x="439.85" y="413.1" width="9.5" height="11.2" fill="#0000f0" stroke="#223" stroke-width="0.5"/>
<rect x="455.55" y="413.1" width="9.5" height="11.2" fill="#0000f0" stroke="#223" stroke-width="0.5"/>
<ellipse cx="444.6" cy="437.7" rx="4.7" ry="5.7" fill="#0db14b" stroke="#222" stroke-width="0.7"/>
<ellipse cx="460.3" cy="437.7" rx="4.7" ry="5.7" fill="#0db14b" stroke="#222" stroke-width="0.7"/>
<ellipse cx="452.5" cy="457.2" rx="4.7" ry="5.7" fill="#0db14b" stroke="#222" stroke-width="0.7"/>
<rect x="447.75" y="471.3" width="9.5" height="11.2" fill="#0000f0" stroke="#223" stroke-width="0.5"/>
<rect x="447.75" y="490.9" width="9.5" height="11.2" fill="#0000f0" stroke="#223" stroke-width="0.5"/>
<path d="M464.1 496.5L473.1 491V502Z" fill="#fe0000" stroke="#222" stroke-width="0.7"/>
<ellipse cx="526.4" cy="393.3" rx="4.7" ry="6.6" fill="#ffff00" stroke="#222" stroke-width="0.7"/>
<rect x="496.6" y="410.95" width="7.8" height="11.5" fill="#0000f0" stroke="#223" stroke-width="0.5"/>
<rect x="522.5" y="410" width="8" height="12" fill="#0000f0" stroke="#223" stroke-width="0.5"/>
<ellipse cx="500.5" cy="437.2" rx="3.8" ry="5.9" fill="#0db14b" stroke="#222" stroke-width="0.7"/>
<ellipse cx="526.3" cy="436.9" rx="3.8" ry="5.9" fill="#0db14b" stroke="#222" stroke-width="0.7"/>
<rect x="509.5" y="431.35" width="7.8" height="11.7" fill="#0000f0" stroke="#223" stroke-width="0.5"/>
<ellipse cx="513.2" cy="457.2" rx="3.9" ry="5.9" fill="#0db14b" stroke="#222" stroke-width="0.7"/>
<rect x="509.5" y="471.15" width="7.8" height="11.7" fill="#0000f0" stroke="#223" stroke-width="0.5"/>
<rect x="509.5" y="491.5" width="7.8" height="11" fill="#0000f0" stroke="#223" stroke-width="0.5"/>
<path d="M523.7 497L532.7 490.9V503.1Z" fill="#fe0000" stroke="#222" stroke-width="0.7"/>
<rect x="577.25" y="414.5" width="8.3" height="11.2" fill="#0000f0" stroke="#223" stroke-width="0.5"/>
<ellipse cx="600.8" cy="419.4" rx="4.8" ry="5.9" fill="#0db14b" stroke="#222" stroke-width="0.7"/>
<ellipse cx="616.6" cy="419.4" rx="4.8" ry="5.9" fill="#0db14b" stroke="#222" stroke-width="0.7"/>
<ellipse cx="581" cy="439.9" rx="4.3" ry="5.8" fill="#0db14b" stroke="#222" stroke-width="0.7"/>
<rect x="590.95" y="434.3" width="8.3" height="11.2" fill="#0000f0" stroke="#223" stroke-width="0.5"/>
<ellipse cx="608.6" cy="439.9" rx="4.3" ry="5.8" fill="#0db14b" stroke="#222" stroke-width="0.7"/>
<ellipse cx="595.1" cy="459.7" rx="4.3" ry="5.8" fill="#0db14b" stroke="#222" stroke-width="0.7"/>
<rect x="590.95" y="474" width="8.3" height="11.2" fill="#0000f0" stroke="#223" stroke-width="0.5"/>
<rect x="590.95" y="493.3" width="8.3" height="11.2" fill="#0000f0" stroke="#223" stroke-width="0.5"/>
<ellipse cx="654.9" cy="405.5" rx="5.5" ry="5.6" fill="#ffff00" stroke="#222" stroke-width="0.7"/>
<ellipse cx="672.5" cy="405.5" rx="5.5" ry="5.6" fill="#ffff00" stroke="#222" stroke-width="0.7"/>
<rect x="649.7" y="418.4" width="10.4" height="11.2" fill="#0000f0" stroke="#223" stroke-width="0.5"/>
<rect x="667.4" y="418.4" width="10.4" height="11.2" fill="#0000f0" stroke="#223" stroke-width="0.5"/>
<ellipse cx="654.9" cy="442.3" rx="5.4" ry="5.7" fill="#0db14b" stroke="#222" stroke-width="0.7"/>
<ellipse cx="672.6" cy="442.3" rx="5.4" ry="5.7" fill="#0db14b" stroke="#222" stroke-width="0.7"/>
<ellipse cx="663.9" cy="461.1" rx="5.4" ry="5.7" fill="#0db14b" stroke="#222" stroke-width="0.7"/>
<rect x="658.7" y="474.3" width="10.4" height="11.2" fill="#0000f0" stroke="#223" stroke-width="0.5"/>
<rect x="658.7" y="492.6" width="10.4" height="11.2" fill="#0000f0" stroke="#223" stroke-width="0.5"/>
<path d="M676.3 498.4L687 492.75V504.05Z" fill="#fe0000" stroke="#222" stroke-width="0.7"/>
<ellipse cx="726" cy="405.1" rx="5.8" ry="5.9" fill="#ffff00" stroke="#222" stroke-width="0.7"/>
<rect x="722.25" y="419.4" width="8.7" height="11" fill="#0000f0" stroke="#223" stroke-width="0.5"/>
<ellipse cx="747.1" cy="424.3" rx="5" ry="5.9" fill="#0db14b" stroke="#222" stroke-width="0.7"/>
<ellipse cx="763.6" cy="424.3" rx="5" ry="5.9" fill="#0db14b" stroke="#222" stroke-width="0.7"/>
<ellipse cx="726.7" cy="443.2" rx="4.3" ry="5.8" fill="#0db14b" stroke="#222" stroke-width="0.7"/>
<rect x="736.65" y="437.7" width="8.7" height="11" fill="#0000f0" stroke="#223" stroke-width="0.5"/>
<ellipse cx="755.2" cy="443.2" rx="4.3" ry="5.8" fill="#0db14b" stroke="#222" stroke-width="0.7"/>
<ellipse cx="741" cy="462" rx="4.3" ry="5.8" fill="#0db14b" stroke="#222" stroke-width="0.7"/>
<rect x="736.65" y="474.6" width="8.7" height="11" fill="#0000f0" stroke="#223" stroke-width="0.5"/>
<rect x="736.65" y="492.9" width="8.7" height="11" fill="#0000f0" stroke="#223" stroke-width="0.5"/>
<path d="M857.3 383.8L862.7 389.2L857.3 394.6L851.9 389.2Z" fill="#cc00cc" stroke="#222" stroke-width="0.7"/>
<ellipse cx="857.3" cy="407.1" rx="5.5" ry="5.6" fill="#ffff00" stroke="#222" stroke-width="0.7"/>
<rect x="853.7" y="419.5" width="9" height="10.8" fill="#0000f0" stroke="#223" stroke-width="0.5"/>
<ellipse cx="879" cy="423.6" rx="5" ry="5.9" fill="#0db14b" stroke="#222" stroke-width="0.7"/>
<ellipse cx="895.5" cy="423.6" rx="5" ry="5.9" fill="#0db14b" stroke="#222" stroke-width="0.7"/>
<ellipse cx="858.2" cy="443.2" rx="4.3" ry="5.8" fill="#0db14b" stroke="#222" stroke-width="0.7"/>
<rect x="868" y="437.8" width="9" height="10.8" fill="#0000f0" stroke="#223" stroke-width="0.5"/>
<ellipse cx="887.2" cy="443.2" rx="4.3" ry="5.8" fill="#0db14b" stroke="#222" stroke-width="0.7"/>
<ellipse cx="872.5" cy="462.7" rx="4.3" ry="5.8" fill="#0db14b" stroke="#222" stroke-width="0.7"/>
<rect x="868" y="475.8" width="9" height="10.8" fill="#0000f0" stroke="#223" stroke-width="0.5"/>
<rect x="868" y="494.6" width="9" height="10.8" fill="#0000f0" stroke="#223" stroke-width="0.5"/>
<text x="238.5" y="522.5" font-size="18.5" textLength="23" lengthAdjust="spacingAndGlyphs" style="stroke-width:.3px">G0</text>
<text x="281.55" y="522" font-size="18.5" textLength="32.5" lengthAdjust="spacingAndGlyphs" style="stroke-width:.3px">G0F</text>
<text x="335.5" y="523.8" font-size="18.5" textLength="43" lengthAdjust="spacingAndGlyphs" style="stroke-width:.3px">FA2B</text>
<text x="400.25" y="523.3" font-size="18.5" textLength="22.3" lengthAdjust="spacingAndGlyphs" style="stroke-width:.3px">G1</text>
<text x="440.4" y="523.3" font-size="18.5" textLength="33" lengthAdjust="spacingAndGlyphs" style="stroke-width:.3px">G1F</text>
<text x="487.8" y="523.3" font-size="18.5" textLength="67" lengthAdjust="spacingAndGlyphs" style="stroke-width:.3px">FA2BG1</text>
<text x="570.8" y="521.6" font-size="18.5" textLength="62" lengthAdjust="spacingAndGlyphs" style="stroke-width:.3px">M5A1B</text>
<text x="650.8" y="523" font-size="18.5" textLength="33.4" lengthAdjust="spacingAndGlyphs" style="stroke-width:.3px">G2F</text>
<text x="710.75" y="521.9" font-size="18.5" textLength="86.5" lengthAdjust="spacingAndGlyphs" style="stroke-width:.3px">M5A1BG1</text>
<text x="822.7" y="524.2" font-size="18.5" textLength="108" lengthAdjust="spacingAndGlyphs" style="stroke-width:.3px">M5A1BG1S1</text>
<path d="M251.5 529L298.5 558.5" stroke="#111" stroke-width="1.1" fill="none"/>
<path d="M304 529L345.5 558" stroke="#111" stroke-width="1.1" fill="none"/>
<path d="M357.5 529L401 558" stroke="#111" stroke-width="1.1" fill="none"/>
<path d="M412.5 529L416.8 556" stroke="#111" stroke-width="1.1" fill="none"/>
<path d="M460.2 528.4L469.2 558" stroke="#111" stroke-width="1.1" fill="none"/>
<path d="M460.2 528.4L487.8 559.7" stroke="#111" stroke-width="1.1" fill="none"/>
<path d="M520 529L511 562" stroke="#111" stroke-width="1.1" fill="none"/>
<path d="M600 527L566 560" stroke="#111" stroke-width="1.1" fill="none"/>
<path d="M665 527L611 560" stroke="#111" stroke-width="1.1" fill="none"/>
<path d="M746.4 527L676.5 562" stroke="#111" stroke-width="1.1" fill="none"/>
<path d="M746.4 527L699 562" stroke="#111" stroke-width="1.1" fill="none"/>
<path d="M871.8 526.5L776 560.5" stroke="#111" stroke-width="1.1" fill="none"/>
<rect x="1112.6" y="412.7" width="17.4" height="17.2" fill="#0000c0" stroke="#111" stroke-width="1.1"/>
<circle cx="1121.2" cy="456.4" r="8.5" fill="#00b050" stroke="#111" stroke-width="1.1"/>
<path d="M1112.8 482.6L1130 474.4V491.3Z" fill="#ff0000" stroke="#111" stroke-width="1.1"/>
<circle cx="1121.2" cy="508.9" r="8.5" fill="#ffff00" stroke="#111" stroke-width="1.1"/>
<path d="M1121.2 529.6L1129.8 538.1L1121.2 546.6L1112.6 538.1Z" fill="#ff00ff" stroke="#111" stroke-width="1.1"/>
<text x="1137" y="414.3" font-size="16.3" textLength="72" lengthAdjust="spacingAndGlyphs" style="stroke-width:.3px">N-Acetyle</text>
<text x="1137" y="436.9" font-size="16.3" textLength="93" lengthAdjust="spacingAndGlyphs" style="stroke-width:.3px">glucosamine</text>
<text x="1137" y="461" font-size="16.3" textLength="68" lengthAdjust="spacingAndGlyphs" style="stroke-width:.3px">Mannose</text>
<text x="1137" y="487.7" font-size="16.3" textLength="49.7" lengthAdjust="spacingAndGlyphs" style="stroke-width:.3px">Fucose</text>
<text x="1137" y="514.8" font-size="16.3" textLength="72" lengthAdjust="spacingAndGlyphs" style="stroke-width:.3px">Galactose</text>
<text x="1137" y="542" font-size="16.3" textLength="71.2" lengthAdjust="spacingAndGlyphs" style="stroke-width:.3px">Sialic acid</text>
<path d="M298.5 558.5V1512" stroke="#111" stroke-width="1.7" stroke-dasharray="1.5 1.5" fill="none"/>
<path d="M346.5 558V1512" stroke="#111" stroke-width="1.7" stroke-dasharray="1.5 1.5" fill="none"/>
<path d="M401.5 558V1512" stroke="#111" stroke-width="1.7" stroke-dasharray="1.5 1.5" fill="none"/>
<path d="M417.5 556V1512" stroke="#111" stroke-width="1.7" stroke-dasharray="1.5 1.5" fill="none"/>
<path d="M468.5 558V1512" stroke="#111" stroke-width="1.7" stroke-dasharray="1.5 1.5" fill="none"/>
<path d="M488.5 560V1512" stroke="#111" stroke-width="1.7" stroke-dasharray="1.5 1.5" fill="none"/>
<path d="M511.5 562V1512" stroke="#111" stroke-width="1.7" stroke-dasharray="1.5 1.5" fill="none"/>
<path d="M566.5 560V1512" stroke="#111" stroke-width="1.7" stroke-dasharray="1.5 1.5" fill="none"/>
<path d="M611.5 560V1512" stroke="#111" stroke-width="1.7" stroke-dasharray="1.5 1.5" fill="none"/>
<path d="M676.5 562V1512" stroke="#111" stroke-width="1.7" stroke-dasharray="1.5 1.5" fill="none"/>
<path d="M699.5 562V1512" stroke="#111" stroke-width="1.7" stroke-dasharray="1.5 1.5" fill="none"/>
<path d="M776.5 560.5V1512" stroke="#111" stroke-width="1.7" stroke-dasharray="1.5 1.5" fill="none"/>
<path d="M64.2 679.5H1388.5" stroke="#444" stroke-width="1.1" fill="none"/>
<path d="M107 679.5v3.3M163.95 679.5v3.3M220.9 679.5v3.3M277.85 679.5v3.3M334.8 679.5v3.3M391.75 679.5v3.3M448.7 679.5v3.3M505.65 679.5v3.3M562.6 679.5v3.3M619.55 679.5v3.3M676.5 679.5v3.3M733.45 679.5v3.3M790.4 679.5v3.3M847.35 679.5v3.3M904.3 679.5v3.3M961.25 679.5v3.3M1018.2 679.5v3.3M1075.15 679.5v3.3M1132.1 679.5v3.3M1189.05 679.5v3.3M1246 679.5v3.3M1302.95 679.5v3.3M1359.9 679.5v3.3" stroke="#666" stroke-width="1" fill="none"/>
<path d="M72.83 679.5v1.9M84.22 679.5v1.9M95.61 679.5v1.9M118.39 679.5v1.9M129.78 679.5v1.9M141.17 679.5v1.9M152.56 679.5v1.9M175.34 679.5v1.9M186.73 679.5v1.9M198.12 679.5v1.9M209.51 679.5v1.9M232.29 679.5v1.9M243.68 679.5v1.9M255.07 679.5v1.9M266.46 679.5v1.9M289.24 679.5v1.9M300.63 679.5v1.9M312.02 679.5v1.9M323.41 679.5v1.9M346.19 679.5v1.9M357.58 679.5v1.9M368.97 679.5v1.9M380.36 679.5v1.9M403.14 679.5v1.9M414.53 679.5v1.9M425.92 679.5v1.9M437.31 679.5v1.9M460.09 679.5v1.9M471.48 679.5v1.9M482.87 679.5v1.9M494.26 679.5v1.9M517.04 679.5v1.9M528.43 679.5v1.9M539.82 679.5v1.9M551.21 679.5v1.9M573.99 679.5v1.9M585.38 679.5v1.9M596.77 679.5v1.9M608.16 679.5v1.9M630.94 679.5v1.9M642.33 679.5v1.9M653.72 679.5v1.9M665.11 679.5v1.9M687.89 679.5v1.9M699.28 679.5v1.9M710.67 679.5v1.9M722.06 679.5v1.9M744.84 679.5v1.9M756.23 679.5v1.9M767.62 679.5v1.9M779.01 679.5v1.9M801.79 679.5v1.9M813.18 679.5v1.9M824.57 679.5v1.9M835.96 679.5v1.9M858.74 679.5v1.9M870.13 679.5v1.9M881.52 679.5v1.9M892.91 679.5v1.9M915.69 679.5v1.9M927.08 679.5v1.9M938.47 679.5v1.9M949.86 679.5v1.9M972.64 679.5v1.9M984.03 679.5v1.9M995.42 679.5v1.9M1006.81 679.5v1.9M1029.59 679.5v1.9M1040.98 679.5v1.9M1052.37 679.5v1.9M1063.76 679.5v1.9M1086.54 679.5v1.9M1097.93 679.5v1.9M1109.32 679.5v1.9M1120.71 679.5v1.9M1143.49 679.5v1.9M1154.88 679.5v1.9M1166.27 679.5v1.9M1177.66 679.5v1.9M1200.44 679.5v1.9M1211.83 679.5v1.9M1223.22 679.5v1.9M1234.61 679.5v1.9M1257.39 679.5v1.9M1268.78 679.5v1.9M1280.17 679.5v1.9M1291.56 679.5v1.9M1314.34 679.5v1.9M1325.73 679.5v1.9M1337.12 679.5v1.9M1348.51 679.5v1.9M1371.29 679.5v1.9M1382.68 679.5v1.9" stroke="#888" stroke-width="0.9" fill="none"/>
<path d="M64.2 677.3 253.2 677.3 253.95 677.3 254.7 677.3 255.45 677.3 256.2 677.3 256.95 677.3 257.7 677.3 258.45 677.3 259.2 677.3 259.95 677.3 260.7 677.3 261.45 677.3 262.2 677.3 262.95 677.3 263.7 677.3 264.45 677.3 265.2 677.29 265.95 677.28 266.7 677.27 267.45 677.25 268.2 677.21 268.95 677.16 269.7 677.09 270.45 676.99 271.2 676.87 271.95 676.74 272.7 676.6 273.45 676.48 274.2 676.37 274.95 676.31 275.7 676.3 276.45 676.34 277.2 676.41 277.95 676.52 278.7 676.64 279.45 676.77 280.2 676.89 280.95 677 281.7 677.09 282.45 677.16 283.2 677.21 283.95 677.25 284.7 677.27 285.45 677.28 286.2 677.28 286.95 677.28 287.7 677.26 288.45 677.23 289.2 677.17 289.95 677.07 290.7 676.91 291.45 676.67 292.2 676.34 292.95 675.9 293.7 675.37 294.45 674.78 295.2 674.16 295.95 673.59 296.7 673.14 297.45 672.86 298.2 672.81 298.95 672.96 299.7 673.3 300.45 673.78 301.2 674.34 301.95 674.92 302.7 675.47 303.45 675.96 304.2 676.36 304.95 676.67 305.7 676.9 306.45 677.06 307.2 677.16 307.95 677.22 308.7 677.26 309.45 677.28 310.2 677.29 310.95 677.3 311.7 677.3 312.45 677.3 313.2 677.3 313.95 677.3 314.7 677.3 315.45 677.3 316.2 677.3 316.95 677.3 317.7 677.3 318.45 677.3 319.2 677.3 319.95 677.3 320.7 677.3 324.45 677.3 325.2 677.3 325.95 677.3 326.7 677.3 327.45 677.3 328.2 677.3 328.95 677.3 329.7 677.3 330.45 677.3 331.2 677.3 331.95 677.3 332.7 677.3 333.45 677.3 334.2 677.29 334.95 677.27 335.7 677.22 336.45 677.1 337.2 676.83 337.95 676.3 338.7 675.3 339.45 673.53 340.2 670.61 340.95 666.15 341.7 659.85 342.45 651.64 343.2 641.86 343.95 631.31 344.7 621.25 345.45 613.12 346.2 608.27 346.95 607.16 347.7 609.18 348.45 614.38 349.2 621.92 349.95 630.78 350.7 639.98 351.45 648.66 352.2 656.24 352.95 662.42 353.7 667.15 354.45 670.58 355.2 672.93 355.95 674.47 356.7 675.43 357.45 676.01 358.2 676.36 358.95 676.57 359.7 676.7 360.45 676.79 361.2 676.85 361.95 676.9 362.7 676.94 363.45 676.98 364.2 677.01 364.95 677.04 365.7 677.07 366.45 677.09 367.2 677.11 367.95 677.13 368.7 677.3 397.2 677.3 397.95 677.3 398.7 677.3 399.45 677.3 400.2 677.3 400.95 677.3 401.7 677.3 402.45 677.3 403.2 677.3 403.95 677.3 404.7 677.3 405.45 677.3 406.2 677.3 406.95 677.3 407.7 677.3 408.45 677.29 409.2 677.28 409.95 677.26 410.7 677.23 411.45 677.17 412.2 677.07 412.95 676.93 413.7 676.73 414.45 676.45 415.2 676.12 415.95 675.73 416.7 675.32 417.45 674.92 418.2 674.59 418.95 674.38 419.7 674.3 420.45 674.37 421.2 674.56 421.95 674.86 422.7 675.22 423.45 675.61 424.2 675.99 424.95 676.33 425.7 676.61 426.45 676.83 427.2 677 427.95 677.11 428.7 677.19 429.45 677.24 430.2 677.27 430.95 677.28 431.7 677.29 432.45 677.3 433.2 677.3 433.95 677.3 434.7 677.29 435.45 677.29 436.2 677.28 436.95 677.26 437.7 677.23 438.45 677.19 439.2 677.13 439.95 677.05 440.7 676.96 441.45 676.85 442.2 676.74 442.95 676.64 443.7 676.56 444.45 676.51 445.2 676.5 445.95 676.53 446.7 676.59 447.45 676.67 448.2 676.77 448.95 676.88 449.7 676.98 450.45 677.06 451.2 677.13 451.95 677.19 452.7 677.23 453.45 677.26 454.2 677.27 454.95 677.28 455.7 677.29 456.45 677.29 457.2 677.28 457.95 677.25 458.7 677.18 459.45 677.03 460.2 676.75 460.95 676.25 461.7 675.4 462.45 674.08 463.2 672.18 463.95 669.65 464.7 666.55 465.45 663.12 466.2 659.72 466.95 656.84 467.7 654.92 468.45 654.28 469.2 654.63 469.95 656.08 470.7 658.39 471.45 661.22 472.2 664.24 472.95 667.16 473.7 669.76 474.45 671.92 475.2 673.6 475.95 674.83 476.7 675.68 477.45 676.25 478.2 676.6 478.95 676.79 479.7 676.88 480.45 676.88 481.2 676.78 481.95 676.58 482.7 676.24 483.45 675.73 484.2 675.03 484.95 674.14 485.7 673.08 486.45 671.92 487.2 670.77 487.95 669.76 488.7 669.02 489.45 668.67 490.2 668.66 490.95 669.09 491.7 669.82 492.45 670.79 493.2 671.89 493.95 672.99 494.7 674.02 495.45 674.9 496.2 675.61 496.95 676.15 497.7 676.54 498.45 676.8 499.2 676.98 499.95 677.08 500.7 677.15 501.45 677.19 502.2 677.21 502.95 677.23 503.7 677.24 504.45 677.25 505.2 677.25 505.95 677.26 506.7 677.26 507.45 677.27 508.2 677.27 508.95 677.27 509.7 677.28 510.45 677.28 511.2 677.28 511.95 677.3 586.95 677.3 587.7 677.3 588.45 677.3 589.2 677.3 589.95 677.3 590.7 677.3 591.45 677.3 592.2 677.3 592.95 677.3 593.7 677.3 594.45 677.3 595.2 677.3 595.95 677.3 596.7 677.3 597.45 677.29 598.2 677.29 598.95 677.27 599.7 677.24 600.45 677.19 601.2 677.09 601.95 676.95 602.7 676.73 603.45 676.41 604.2 676 604.95 675.49 605.7 674.9 606.45 674.28 607.2 673.7 607.95 673.21 608.7 672.9 609.45 672.8 610.2 672.92 610.95 673.22 611.7 673.67 612.45 674.22 613.2 674.8 613.95 675.37 614.7 675.87 615.45 676.29 616.2 676.62 616.95 676.86 617.7 677.03 618.45 677.14 619.2 677.21 619.95 677.25 620.7 677.28 621.45 677.29 622.2 677.29 622.95 677.3 623.7 677.3 624.45 677.3 625.2 677.3 625.95 677.3 626.7 677.3 627.45 677.3 628.2 677.3 628.95 677.3 629.7 677.3 630.45 677.3 631.2 677.3 631.95 677.3 1387.95 677.3" fill="none" stroke="#111" stroke-width="2" stroke-linejoin="round"/>
<g class="tk"><text x="107" y="694.1">6</text><text x="163.95" y="694.1">7</text><text x="220.9" y="694.1">8</text><text x="277.85" y="694.1">9</text><text x="334.8" y="694.1">10</text><text x="391.75" y="694.1">11</text><text x="448.7" y="694.1">12</text><text x="505.65" y="694.1">13</text><text x="562.6" y="694.1">14</text><text x="619.55" y="694.1">15</text><text x="676.5" y="694.1">16</text><text x="733.45" y="694.1">17</text><text x="790.4" y="694.1">18</text><text x="847.35" y="694.1">19</text><text x="904.3" y="694.1">20</text><text x="961.25" y="694.1">21</text><text x="1018.2" y="694.1">22</text><text x="1075.15" y="694.1">23</text><text x="1132.1" y="694.1">24</text><text x="1189.05" y="694.1">25</text><text x="1246" y="694.1">26</text><text x="1302.95" y="694.1">27</text><text x="1359.9" y="694.1">28</text></g>
<path d="M64.2 785.1H1388.5" stroke="#444" stroke-width="1.1" fill="none"/>
<path d="M107 785.1v3.3M163.95 785.1v3.3M220.9 785.1v3.3M277.85 785.1v3.3M334.8 785.1v3.3M391.75 785.1v3.3M448.7 785.1v3.3M505.65 785.1v3.3M562.6 785.1v3.3M619.55 785.1v3.3M676.5 785.1v3.3M733.45 785.1v3.3M790.4 785.1v3.3M847.35 785.1v3.3M904.3 785.1v3.3M961.25 785.1v3.3M1018.2 785.1v3.3M1075.15 785.1v3.3M1132.1 785.1v3.3M1189.05 785.1v3.3M1246 785.1v3.3M1302.95 785.1v3.3M1359.9 785.1v3.3" stroke="#666" stroke-width="1" fill="none"/>
<path d="M72.83 785.1v1.9M84.22 785.1v1.9M95.61 785.1v1.9M118.39 785.1v1.9M129.78 785.1v1.9M141.17 785.1v1.9M152.56 785.1v1.9M175.34 785.1v1.9M186.73 785.1v1.9M198.12 785.1v1.9M209.51 785.1v1.9M232.29 785.1v1.9M243.68 785.1v1.9M255.07 785.1v1.9M266.46 785.1v1.9M289.24 785.1v1.9M300.63 785.1v1.9M312.02 785.1v1.9M323.41 785.1v1.9M346.19 785.1v1.9M357.58 785.1v1.9M368.97 785.1v1.9M380.36 785.1v1.9M403.14 785.1v1.9M414.53 785.1v1.9M425.92 785.1v1.9M437.31 785.1v1.9M460.09 785.1v1.9M471.48 785.1v1.9M482.87 785.1v1.9M494.26 785.1v1.9M517.04 785.1v1.9M528.43 785.1v1.9M539.82 785.1v1.9M551.21 785.1v1.9M573.99 785.1v1.9M585.38 785.1v1.9M596.77 785.1v1.9M608.16 785.1v1.9M630.94 785.1v1.9M642.33 785.1v1.9M653.72 785.1v1.9M665.11 785.1v1.9M687.89 785.1v1.9M699.28 785.1v1.9M710.67 785.1v1.9M722.06 785.1v1.9M744.84 785.1v1.9M756.23 785.1v1.9M767.62 785.1v1.9M779.01 785.1v1.9M801.79 785.1v1.9M813.18 785.1v1.9M824.57 785.1v1.9M835.96 785.1v1.9M858.74 785.1v1.9M870.13 785.1v1.9M881.52 785.1v1.9M892.91 785.1v1.9M915.69 785.1v1.9M927.08 785.1v1.9M938.47 785.1v1.9M949.86 785.1v1.9M972.64 785.1v1.9M984.03 785.1v1.9M995.42 785.1v1.9M1006.81 785.1v1.9M1029.59 785.1v1.9M1040.98 785.1v1.9M1052.37 785.1v1.9M1063.76 785.1v1.9M1086.54 785.1v1.9M1097.93 785.1v1.9M1109.32 785.1v1.9M1120.71 785.1v1.9M1143.49 785.1v1.9M1154.88 785.1v1.9M1166.27 785.1v1.9M1177.66 785.1v1.9M1200.44 785.1v1.9M1211.83 785.1v1.9M1223.22 785.1v1.9M1234.61 785.1v1.9M1257.39 785.1v1.9M1268.78 785.1v1.9M1280.17 785.1v1.9M1291.56 785.1v1.9M1314.34 785.1v1.9M1325.73 785.1v1.9M1337.12 785.1v1.9M1348.51 785.1v1.9M1371.29 785.1v1.9M1382.68 785.1v1.9" stroke="#888" stroke-width="0.9" fill="none"/>
<path d="M64.2 782.9 253.2 782.9 253.95 782.9 254.7 782.9 255.45 782.9 256.2 782.9 256.95 782.9 257.7 782.9 258.45 782.9 259.2 782.9 259.95 782.9 260.7 782.9 261.45 782.9 262.2 782.9 262.95 782.9 263.7 782.9 264.45 782.9 265.2 782.89 265.95 782.88 266.7 782.87 267.45 782.85 268.2 782.81 268.95 782.76 269.7 782.69 270.45 782.59 271.2 782.47 271.95 782.34 272.7 782.2 273.45 782.08 274.2 781.97 274.95 781.91 275.7 781.9 276.45 781.94 277.2 782.01 277.95 782.12 278.7 782.24 279.45 782.37 280.2 782.49 280.95 782.6 281.7 782.69 282.45 782.76 283.2 782.81 283.95 782.85 284.7 782.87 285.45 782.88 286.2 782.89 286.95 782.89 287.7 782.89 288.45 782.89 289.2 782.88 289.95 782.86 290.7 782.81 291.45 782.72 292.2 782.57 292.95 782.33 293.7 781.95 294.45 781.4 295.2 780.66 295.95 779.71 296.7 778.58 297.45 777.36 298.2 776.15 298.95 775.08 299.7 774.3 300.45 773.93 301.2 773.92 301.95 774.31 302.7 775.07 303.45 776.09 304.2 777.24 304.95 778.39 305.7 779.47 306.45 780.39 307.2 781.13 307.95 781.7 308.7 782.1 309.45 782.38 310.2 782.56 310.95 782.67 311.7 782.74 312.45 782.78 313.2 782.81 313.95 782.83 314.7 782.84 315.45 782.84 316.2 782.85 316.95 782.86 317.7 782.86 318.45 782.86 319.2 782.87 319.95 782.87 320.7 782.87 321.45 782.88 322.2 782.88 322.95 782.9 327.45 782.9 328.2 782.9 328.95 782.9 329.7 782.9 330.45 782.9 331.2 782.9 331.95 782.9 332.7 782.9 333.45 782.9 334.2 782.9 334.95 782.9 335.7 782.9 336.45 782.9 337.2 782.89 337.95 782.86 338.7 782.81 339.45 782.68 340.2 782.39 340.95 781.81 341.7 780.71 342.45 778.76 343.2 775.56 343.95 770.68 344.7 763.77 345.45 754.78 346.2 744.06 346.95 732.51 347.7 721.48 348.45 712.58 349.2 707.26 349.95 706.05 350.7 708.26 351.45 713.96 352.2 722.21 352.95 731.93 353.7 742.01 354.45 751.52 355.2 759.82 355.95 766.59 356.7 771.78 357.45 775.54 358.2 778.11 358.95 779.79 359.7 780.85 360.45 781.49 361.2 781.87 361.95 782.1 362.7 782.24 363.45 782.34 364.2 782.41 364.95 782.46 365.7 782.51 366.45 782.55 367.2 782.59 367.95 782.62 368.7 782.65 369.45 782.67 370.2 782.69 370.95 782.72 371.7 782.9 400.2 782.9 400.95 782.9 401.7 782.9 402.45 782.9 403.2 782.9 403.95 782.9 404.7 782.9 405.45 782.9 406.2 782.9 406.95 782.9 407.7 782.9 408.45 782.9 409.2 782.9 409.95 782.9 410.7 782.89 411.45 782.88 412.2 782.86 412.95 782.82 413.7 782.75 414.45 782.63 415.2 782.46 415.95 782.19 416.7 781.83 417.45 781.37 418.2 780.82 418.95 780.21 419.7 779.6 420.45 779.05 421.2 778.64 421.95 778.43 422.7 778.43 423.45 778.64 424.2 779.02 424.95 779.52 425.7 780.09 426.45 780.67 427.2 781.21 427.95 781.68 428.7 782.05 429.45 782.34 430.2 782.55 430.95 782.69 431.7 782.78 432.45 782.83 433.2 782.86 433.95 782.88 434.7 782.88 435.45 782.88 436.2 782.87 436.95 782.85 437.7 782.81 438.45 782.76 439.2 782.69 439.95 782.59 440.7 782.47 441.45 782.34 442.2 782.2 442.95 782.08 443.7 781.97 444.45 781.91 445.2 781.9 445.95 781.94 446.7 782.01 447.45 782.12 448.2 782.24 448.95 782.37 449.7 782.49 450.45 782.6 451.2 782.69 451.95 782.76 452.7 782.81 453.45 782.85 454.2 782.87 454.95 782.88 455.7 782.89 456.45 782.9 457.2 782.9 457.95 782.9 458.7 782.9 459.45 782.89 460.2 782.87 460.95 782.83 461.7 782.74 462.45 782.56 463.2 782.22 463.95 781.64 464.7 780.69 465.45 779.29 466.2 777.34 466.95 774.86 467.7 771.98 468.45 768.96 469.2 766.19 469.95 764.09 470.7 763 471.45 762.91 472.2 763.75 472.95 765.44 473.7 767.73 474.45 770.31 475.2 772.92 475.95 775.33 476.7 777.39 477.45 779.05 478.2 780.3 478.95 781.19 479.7 781.79 480.45 782.17 481.2 782.4 481.95 782.53 482.7 782.58 483.45 782.56 484.2 782.48 484.95 782.31 485.7 782.04 486.45 781.62 487.2 781.06 487.95 780.33 488.7 779.46 489.45 778.52 490.2 777.58 490.95 776.76 491.7 776.16 492.45 775.87 493.2 775.91 493.95 776.22 494.7 776.81 495.45 777.6 496.2 778.49 496.95 779.4 497.7 780.23 498.45 780.95 499.2 781.52 499.95 781.96 500.7 782.28 501.45 782.5 502.2 782.64 502.95 782.72 503.7 782.78 504.45 782.81 505.2 782.83 505.95 782.84 506.7 782.85 507.45 782.86 508.2 782.86 508.95 782.87 509.7 782.87 510.45 782.87 511.2 782.88 511.95 782.88 512.7 782.88 513.45 782.88 514.2 782.88 514.95 782.9 527.7 782.9 528.45 782.9 529.2 782.9 529.95 782.9 530.7 782.9 531.45 782.9 532.2 782.9 532.95 782.9 533.7 782.9 534.45 782.9 535.2 782.9 535.95 782.9 536.7 782.9 537.45 782.9 538.2 782.9 538.95 782.9 539.7 782.89 540.45 782.89 541.2 782.88 541.95 782.86 542.7 782.83 543.45 782.79 544.2 782.73 544.95 782.65 545.7 782.56 546.45 782.45 547.2 782.34 547.95 782.24 548.7 782.16 549.45 782.11 550.2 782.1 550.95 782.13 551.7 782.19 552.45 782.27 553.2 782.37 553.95 782.48 554.7 782.57 555.45 782.66 556.2 782.72 556.95 782.76 557.7 782.77 558.45 782.75 559.2 782.68 559.95 782.56 560.7 782.35 561.45 782.06 562.2 781.66 562.95 781.16 563.7 780.58 564.45 779.96 565.2 779.37 565.95 778.87 566.7 778.53 567.45 778.4 568.2 778.49 568.95 778.77 569.7 779.21 570.45 779.75 571.2 780.33 571.95 780.89 572.7 781.41 573.45 781.84 574.2 782.18 574.95 782.43 575.7 782.61 576.45 782.73 577.2 782.8 577.95 782.85 578.7 782.87 579.45 782.89 580.2 782.89 580.95 782.9 581.7 782.9 582.45 782.9 583.2 782.9 583.95 782.9 584.7 782.9 585.45 782.9 586.2 782.9 586.95 782.9 587.7 782.9 588.45 782.9 589.2 782.9 589.95 782.9 590.7 782.9 591.45 782.9 592.2 782.9 592.95 782.9 593.7 782.9 594.45 782.9 595.2 782.9 595.95 782.9 596.7 782.9 597.45 782.9 598.2 782.9 598.95 782.89 599.7 782.88 600.45 782.86 601.2 782.82 601.95 782.76 602.7 782.64 603.45 782.47 604.2 782.21 604.95 781.86 605.7 781.41 606.45 780.86 607.2 780.25 607.95 779.64 608.7 779.09 609.45 778.67 610.2 778.43 610.95 778.42 611.7 778.62 612.45 778.99 613.2 779.49 613.95 780.05 614.7 780.63 615.45 781.18 616.2 781.65 616.95 782.03 617.7 782.33 618.45 782.54 619.2 782.68 619.95 782.77 620.7 782.83 621.45 782.86 622.2 782.88 622.95 782.89 623.7 782.9 624.45 782.9 625.2 782.9 625.95 782.9 626.7 782.9 627.45 782.9 628.2 782.9 628.95 782.9 629.7 782.9 630.45 782.9 631.2 782.9 631.95 782.9 632.7 782.9 675.45 782.9 676.2 782.9 676.95 782.9 677.7 782.9 678.45 782.9 679.2 782.9 679.95 782.9 680.7 782.9 681.45 782.9 682.2 782.9 682.95 782.9 683.7 782.9 684.45 782.9 685.2 782.9 685.95 782.9 686.7 782.9 687.45 782.89 688.2 782.89 688.95 782.88 689.7 782.86 690.45 782.83 691.2 782.78 691.95 782.71 692.7 782.62 693.45 782.51 694.2 782.38 694.95 782.25 695.7 782.12 696.45 782 697.2 781.93 697.95 781.9 698.7 781.92 699.45 781.98 700.2 782.08 700.95 782.2 701.7 782.33 702.45 782.45 703.2 782.57 703.95 782.66 704.7 782.74 705.45 782.8 706.2 782.84 706.95 782.86 707.7 782.88 708.45 782.89 709.2 782.89 709.95 782.9 710.7 782.9 711.45 782.9 712.2 782.9 712.95 782.9 713.7 782.9 714.45 782.9 715.2 782.9 715.95 782.9 716.7 782.9 717.45 782.9 718.2 782.9 718.95 782.9 719.7 782.9 720.45 782.9 1387.95 782.9" fill="none" stroke="#111" stroke-width="2" stroke-linejoin="round"/>
<g class="tk"><text x="107" y="799.7">6</text><text x="163.95" y="799.7">7</text><text x="220.9" y="799.7">8</text><text x="277.85" y="799.7">9</text><text x="334.8" y="799.7">10</text><text x="391.75" y="799.7">11</text><text x="448.7" y="799.7">12</text><text x="505.65" y="799.7">13</text><text x="562.6" y="799.7">14</text><text x="619.55" y="799.7">15</text><text x="676.5" y="799.7">16</text><text x="733.45" y="799.7">17</text><text x="790.4" y="799.7">18</text><text x="847.35" y="799.7">19</text><text x="904.3" y="799.7">20</text><text x="961.25" y="799.7">21</text><text x="1018.2" y="799.7">22</text><text x="1075.15" y="799.7">23</text><text x="1132.1" y="799.7">24</text><text x="1189.05" y="799.7">25</text><text x="1246" y="799.7">26</text><text x="1302.95" y="799.7">27</text><text x="1359.9" y="799.7">28</text></g>
<path d="M64.2 885.9H1388.5" stroke="#444" stroke-width="1.1" fill="none"/>
<path d="M107 885.9v3.3M163.95 885.9v3.3M220.9 885.9v3.3M277.85 885.9v3.3M334.8 885.9v3.3M391.75 885.9v3.3M448.7 885.9v3.3M505.65 885.9v3.3M562.6 885.9v3.3M619.55 885.9v3.3M676.5 885.9v3.3M733.45 885.9v3.3M790.4 885.9v3.3M847.35 885.9v3.3M904.3 885.9v3.3M961.25 885.9v3.3M1018.2 885.9v3.3M1075.15 885.9v3.3M1132.1 885.9v3.3M1189.05 885.9v3.3M1246 885.9v3.3M1302.95 885.9v3.3M1359.9 885.9v3.3" stroke="#666" stroke-width="1" fill="none"/>
<path d="M72.83 885.9v1.9M84.22 885.9v1.9M95.61 885.9v1.9M118.39 885.9v1.9M129.78 885.9v1.9M141.17 885.9v1.9M152.56 885.9v1.9M175.34 885.9v1.9M186.73 885.9v1.9M198.12 885.9v1.9M209.51 885.9v1.9M232.29 885.9v1.9M243.68 885.9v1.9M255.07 885.9v1.9M266.46 885.9v1.9M289.24 885.9v1.9M300.63 885.9v1.9M312.02 885.9v1.9M323.41 885.9v1.9M346.19 885.9v1.9M357.58 885.9v1.9M368.97 885.9v1.9M380.36 885.9v1.9M403.14 885.9v1.9M414.53 885.9v1.9M425.92 885.9v1.9M437.31 885.9v1.9M460.09 885.9v1.9M471.48 885.9v1.9M482.87 885.9v1.9M494.26 885.9v1.9M517.04 885.9v1.9M528.43 885.9v1.9M539.82 885.9v1.9M551.21 885.9v1.9M573.99 885.9v1.9M585.38 885.9v1.9M596.77 885.9v1.9M608.16 885.9v1.9M630.94 885.9v1.9M642.33 885.9v1.9M653.72 885.9v1.9M665.11 885.9v1.9M687.89 885.9v1.9M699.28 885.9v1.9M710.67 885.9v1.9M722.06 885.9v1.9M744.84 885.9v1.9M756.23 885.9v1.9M767.62 885.9v1.9M779.01 885.9v1.9M801.79 885.9v1.9M813.18 885.9v1.9M824.57 885.9v1.9M835.96 885.9v1.9M858.74 885.9v1.9M870.13 885.9v1.9M881.52 885.9v1.9M892.91 885.9v1.9M915.69 885.9v1.9M927.08 885.9v1.9M938.47 885.9v1.9M949.86 885.9v1.9M972.64 885.9v1.9M984.03 885.9v1.9M995.42 885.9v1.9M1006.81 885.9v1.9M1029.59 885.9v1.9M1040.98 885.9v1.9M1052.37 885.9v1.9M1063.76 885.9v1.9M1086.54 885.9v1.9M1097.93 885.9v1.9M1109.32 885.9v1.9M1120.71 885.9v1.9M1143.49 885.9v1.9M1154.88 885.9v1.9M1166.27 885.9v1.9M1177.66 885.9v1.9M1200.44 885.9v1.9M1211.83 885.9v1.9M1223.22 885.9v1.9M1234.61 885.9v1.9M1257.39 885.9v1.9M1268.78 885.9v1.9M1280.17 885.9v1.9M1291.56 885.9v1.9M1314.34 885.9v1.9M1325.73 885.9v1.9M1337.12 885.9v1.9M1348.51 885.9v1.9M1371.29 885.9v1.9M1382.68 885.9v1.9" stroke="#888" stroke-width="0.9" fill="none"/>
<path d="M64.2 883.7 253.2 883.7 253.95 883.7 254.7 883.7 255.45 883.7 256.2 883.7 256.95 883.7 257.7 883.7 258.45 883.7 259.2 883.7 259.95 883.7 260.7 883.7 261.45 883.7 262.2 883.7 262.95 883.7 263.7 883.7 264.45 883.7 265.2 883.69 265.95 883.68 266.7 883.67 267.45 883.65 268.2 883.61 268.95 883.56 269.7 883.49 270.45 883.39 271.2 883.27 271.95 883.14 272.7 883 273.45 882.88 274.2 882.77 274.95 882.71 275.7 882.7 276.45 882.74 277.2 882.81 277.95 882.92 278.7 883.04 279.45 883.17 280.2 883.29 280.95 883.4 281.7 883.49 282.45 883.56 283.2 883.61 283.95 883.64 284.7 883.67 285.45 883.68 286.2 883.68 286.95 883.67 287.7 883.64 288.45 883.59 289.2 883.5 289.95 883.36 290.7 883.16 291.45 882.87 292.2 882.49 292.95 882.02 293.7 881.49 294.45 880.95 295.2 880.43 295.95 880.02 296.7 879.77 297.45 879.7 298.2 879.83 298.95 880.12 299.7 880.54 300.45 881.03 301.2 881.55 301.95 882.05 302.7 882.48 303.45 882.85 304.2 883.13 304.95 883.33 305.7 883.48 306.45 883.57 307.2 883.63 307.95 883.66 308.7 883.68 309.45 883.69 310.2 883.7 310.95 883.7 311.7 883.7 312.45 883.7 313.2 883.7 313.95 883.7 314.7 883.7 315.45 883.7 316.2 883.7 316.95 883.7 317.7 883.7 318.45 883.7 319.2 883.7 319.95 883.7 323.7 883.7 324.45 883.7 325.2 883.7 325.95 883.7 326.7 883.7 327.45 883.7 328.2 883.7 328.95 883.7 329.7 883.7 330.45 883.7 331.2 883.7 331.95 883.7 332.7 883.7 333.45 883.69 334.2 883.67 334.95 883.62 335.7 883.51 336.45 883.25 337.2 882.74 337.95 881.77 338.7 880.04 339.45 877.18 340.2 872.79 340.95 866.56 341.7 858.39 342.45 848.6 343.2 837.96 343.95 827.72 344.7 819.34 345.45 814.18 346.2 812.85 346.95 814.65 347.7 819.71 348.45 827.2 349.2 836.1 349.95 845.39 350.7 854.22 351.45 861.96 352.2 868.3 352.95 873.18 353.7 876.72 354.45 879.16 355.2 880.75 355.95 881.76 356.7 882.37 357.45 882.73 358.2 882.95 358.95 883.09 359.7 883.18 360.45 883.24 361.2 883.29 361.95 883.34 362.7 883.37 363.45 883.41 364.2 883.44 364.95 883.46 365.7 883.49 366.45 883.51 367.2 883.53 367.95 883.55 368.7 883.7 396.45 883.7 397.2 883.7 397.95 883.7 398.7 883.7 399.45 883.7 400.2 883.7 400.95 883.7 401.7 883.7 402.45 883.7 403.2 883.7 403.95 883.7 404.7 883.7 405.45 883.7 406.2 883.7 406.95 883.7 407.7 883.69 408.45 883.68 409.2 883.67 409.95 883.64 410.7 883.59 411.45 883.52 412.2 883.4 412.95 883.23 413.7 883.01 414.45 882.73 415.2 882.41 415.95 882.07 416.7 881.74 417.45 881.46 418.2 881.27 418.95 881.2 419.7 881.25 420.45 881.41 421.2 881.65 421.95 881.95 422.7 882.27 423.45 882.59 424.2 882.87 424.95 883.11 425.7 883.3 426.45 883.44 427.2 883.54 427.95 883.6 428.7 883.65 429.45 883.67 430.2 883.69 430.95 883.69 431.7 883.7 432.45 883.7 433.2 883.7 433.95 883.7 434.7 883.69 435.45 883.69 436.2 883.68 436.95 883.66 437.7 883.63 438.45 883.59 439.2 883.53 439.95 883.45 440.7 883.36 441.45 883.25 442.2 883.14 442.95 883.04 443.7 882.96 444.45 882.91 445.2 882.9 445.95 882.93 446.7 882.99 447.45 883.07 448.2 883.17 448.95 883.28 449.7 883.38 450.45 883.46 451.2 883.53 451.95 883.59 452.7 883.63 453.45 883.66 454.2 883.67 454.95 883.68 455.7 883.68 456.45 883.68 457.2 883.65 457.95 883.58 458.7 883.45 459.45 883.19 460.2 882.72 460.95 881.93 461.7 880.72 462.45 878.98 463.2 876.67 463.95 873.87 464.7 870.79 465.45 867.77 466.2 865.23 466.95 863.58 467.7 863.07 468.45 863.45 469.2 864.81 469.95 866.92 470.7 869.47 471.45 872.18 472.2 874.78 472.95 877.09 473.7 878.99 474.45 880.47 475.2 881.55 475.95 882.29 476.7 882.78 477.45 883.09 478.2 883.26 478.95 883.33 479.7 883.33 480.45 883.24 481.2 883.06 481.95 882.76 482.7 882.3 483.45 881.67 484.2 880.86 484.95 879.89 485.7 878.83 486.45 877.77 487.2 876.83 487.95 876.13 488.7 875.78 489.45 875.76 490.2 876.12 490.95 876.77 491.7 877.66 492.45 878.66 493.2 879.68 493.95 880.63 494.7 881.45 495.45 882.11 496.2 882.61 496.95 882.98 497.7 883.23 498.45 883.39 499.2 883.5 499.95 883.56 500.7 883.6 501.45 883.62 502.2 883.63 502.95 883.64 503.7 883.65 504.45 883.66 505.2 883.66 505.95 883.66 506.7 883.67 507.45 883.67 508.2 883.67 508.95 883.68 509.7 883.68 510.45 883.68 511.2 883.7 586.2 883.7 586.95 883.7 587.7 883.7 588.45 883.7 589.2 883.7 589.95 883.7 590.7 883.7 591.45 883.7 592.2 883.7 592.95 883.7 593.7 883.7 594.45 883.7 595.2 883.7 595.95 883.7 596.7 883.7 597.45 883.69 598.2 883.68 598.95 883.65 599.7 883.61 600.45 883.54 601.2 883.42 601.95 883.24 602.7 882.99 603.45 882.66 604.2 882.24 604.95 881.76 605.7 881.25 606.45 880.77 607.2 880.36 607.95 880.09 608.7 880 609.45 880.08 610.2 880.32 610.95 880.69 611.7 881.14 612.45 881.62 613.2 882.08 613.95 882.5 614.7 882.85 615.45 883.12 616.2 883.33 616.95 883.47 617.7 883.56 618.45 883.62 619.2 883.66 619.95 883.68 620.7 883.69 621.45 883.7 622.2 883.7 622.95 883.7 623.7 883.7 624.45 883.7 625.2 883.7 625.95 883.7 626.7 883.7 627.45 883.7 628.2 883.7 628.95 883.7 629.7 883.7 630.45 883.7 631.2 883.7 1387.95 883.7" fill="none" stroke="#111" stroke-width="2" stroke-linejoin="round"/>
<g class="tk"><text x="107" y="900.5">6</text><text x="163.95" y="900.5">7</text><text x="220.9" y="900.5">8</text><text x="277.85" y="900.5">9</text><text x="334.8" y="900.5">10</text><text x="391.75" y="900.5">11</text><text x="448.7" y="900.5">12</text><text x="505.65" y="900.5">13</text><text x="562.6" y="900.5">14</text><text x="619.55" y="900.5">15</text><text x="676.5" y="900.5">16</text><text x="733.45" y="900.5">17</text><text x="790.4" y="900.5">18</text><text x="847.35" y="900.5">19</text><text x="904.3" y="900.5">20</text><text x="961.25" y="900.5">21</text><text x="1018.2" y="900.5">22</text><text x="1075.15" y="900.5">23</text><text x="1132.1" y="900.5">24</text><text x="1189.05" y="900.5">25</text><text x="1246" y="900.5">26</text><text x="1302.95" y="900.5">27</text><text x="1359.9" y="900.5">28</text></g>
<path d="M64.2 992.8H1388.5" stroke="#444" stroke-width="1.1" fill="none"/>
<path d="M107 992.8v3.3M163.95 992.8v3.3M220.9 992.8v3.3M277.85 992.8v3.3M334.8 992.8v3.3M391.75 992.8v3.3M448.7 992.8v3.3M505.65 992.8v3.3M562.6 992.8v3.3M619.55 992.8v3.3M676.5 992.8v3.3M733.45 992.8v3.3M790.4 992.8v3.3M847.35 992.8v3.3M904.3 992.8v3.3M961.25 992.8v3.3M1018.2 992.8v3.3M1075.15 992.8v3.3M1132.1 992.8v3.3M1189.05 992.8v3.3M1246 992.8v3.3M1302.95 992.8v3.3M1359.9 992.8v3.3" stroke="#666" stroke-width="1" fill="none"/>
<path d="M72.83 992.8v1.9M84.22 992.8v1.9M95.61 992.8v1.9M118.39 992.8v1.9M129.78 992.8v1.9M141.17 992.8v1.9M152.56 992.8v1.9M175.34 992.8v1.9M186.73 992.8v1.9M198.12 992.8v1.9M209.51 992.8v1.9M232.29 992.8v1.9M243.68 992.8v1.9M255.07 992.8v1.9M266.46 992.8v1.9M289.24 992.8v1.9M300.63 992.8v1.9M312.02 992.8v1.9M323.41 992.8v1.9M346.19 992.8v1.9M357.58 992.8v1.9M368.97 992.8v1.9M380.36 992.8v1.9M403.14 992.8v1.9M414.53 992.8v1.9M425.92 992.8v1.9M437.31 992.8v1.9M460.09 992.8v1.9M471.48 992.8v1.9M482.87 992.8v1.9M494.26 992.8v1.9M517.04 992.8v1.9M528.43 992.8v1.9M539.82 992.8v1.9M551.21 992.8v1.9M573.99 992.8v1.9M585.38 992.8v1.9M596.77 992.8v1.9M608.16 992.8v1.9M630.94 992.8v1.9M642.33 992.8v1.9M653.72 992.8v1.9M665.11 992.8v1.9M687.89 992.8v1.9M699.28 992.8v1.9M710.67 992.8v1.9M722.06 992.8v1.9M744.84 992.8v1.9M756.23 992.8v1.9M767.62 992.8v1.9M779.01 992.8v1.9M801.79 992.8v1.9M813.18 992.8v1.9M824.57 992.8v1.9M835.96 992.8v1.9M858.74 992.8v1.9M870.13 992.8v1.9M881.52 992.8v1.9M892.91 992.8v1.9M915.69 992.8v1.9M927.08 992.8v1.9M938.47 992.8v1.9M949.86 992.8v1.9M972.64 992.8v1.9M984.03 992.8v1.9M995.42 992.8v1.9M1006.81 992.8v1.9M1029.59 992.8v1.9M1040.98 992.8v1.9M1052.37 992.8v1.9M1063.76 992.8v1.9M1086.54 992.8v1.9M1097.93 992.8v1.9M1109.32 992.8v1.9M1120.71 992.8v1.9M1143.49 992.8v1.9M1154.88 992.8v1.9M1166.27 992.8v1.9M1177.66 992.8v1.9M1200.44 992.8v1.9M1211.83 992.8v1.9M1223.22 992.8v1.9M1234.61 992.8v1.9M1257.39 992.8v1.9M1268.78 992.8v1.9M1280.17 992.8v1.9M1291.56 992.8v1.9M1314.34 992.8v1.9M1325.73 992.8v1.9M1337.12 992.8v1.9M1348.51 992.8v1.9M1371.29 992.8v1.9M1382.68 992.8v1.9" stroke="#888" stroke-width="0.9" fill="none"/>
<path d="M64.2 990.6 172.95 990.6 173.7 990.6 174.45 990.6 175.2 990.6 175.95 990.6 176.7 990.6 177.45 990.6 178.2 990.6 178.95 990.6 179.7 990.6 180.45 990.6 181.2 990.6 181.95 990.6 182.7 990.6 183.45 990.6 184.2 990.6 184.95 990.59 185.7 990.58 186.45 990.57 187.2 990.55 187.95 990.52 188.7 990.47 189.45 990.41 190.2 990.32 190.95 990.22 191.7 990.11 192.45 990.01 193.2 989.91 193.95 989.84 194.7 989.8 195.45 989.81 196.2 989.85 196.95 989.92 197.7 990.01 198.45 990.11 199.2 990.21 199.95 990.31 200.7 990.39 201.45 990.45 202.2 990.5 202.95 990.54 203.7 990.56 204.45 990.58 205.2 990.59 205.95 990.59 206.7 990.6 207.45 990.6 208.2 990.6 208.95 990.6 209.7 990.6 210.45 990.6 211.2 990.6 211.95 990.59 212.7 990.58 213.45 990.57 214.2 990.54 214.95 990.5 215.7 990.44 216.45 990.36 217.2 990.25 217.95 990.13 218.7 989.99 219.45 989.86 220.2 989.74 220.95 989.65 221.7 989.6 222.45 989.61 223.2 989.66 223.95 989.74 224.7 989.86 225.45 989.98 226.2 990.11 226.95 990.23 227.7 990.33 228.45 990.42 229.2 990.48 229.95 990.52 230.7 990.55 231.45 990.57 232.2 990.59 232.95 990.59 233.7 990.6 234.45 990.6 235.2 990.6 235.95 990.6 236.7 990.6 237.45 990.6 238.2 990.6 238.95 990.6 239.7 990.6 240.45 990.6 241.2 990.6 241.95 990.6 242.7 990.6 243.45 990.6 244.2 990.6 253.2 990.6 253.95 990.6 254.7 990.6 255.45 990.6 256.2 990.6 256.95 990.6 257.7 990.6 258.45 990.6 259.2 990.6 259.95 990.6 260.7 990.6 261.45 990.6 262.2 990.6 262.95 990.6 263.7 990.6 264.45 990.59 265.2 990.58 265.95 990.57 266.7 990.53 267.45 990.48 268.2 990.4 268.95 990.27 269.7 990.09 270.45 989.86 271.2 989.57 271.95 989.24 272.7 988.9 273.45 988.58 274.2 988.31 274.95 988.15 275.7 988.1 276.45 988.17 277.2 988.34 277.95 988.59 278.7 988.89 279.45 989.2 280.2 989.48 280.95 989.72 281.7 989.89 282.45 989.99 283.2 990.02 283.95 989.98 284.7 989.91 285.45 989.81 286.2 989.71 286.95 989.63 287.7 989.58 288.45 989.57 289.2 989.59 289.95 989.62 290.7 989.63 291.45 989.58 292.2 989.44 292.95 989.17 293.7 988.74 294.45 988.15 295.2 987.41 295.95 986.58 296.7 985.75 297.45 985.01 298.2 984.47 298.95 984.21 299.7 984.21 300.45 984.49 301.2 985.03 301.95 985.76 302.7 986.57 303.45 987.4 304.2 988.16 304.95 988.81 305.7 989.34 306.45 989.74 307.2 990.03 307.95 990.23 308.7 990.36 309.45 990.44 310.2 990.49 310.95 990.52 311.7 990.54 312.45 990.55 313.2 990.55 313.95 990.56 314.7 990.56 315.45 990.57 316.2 990.57 316.95 990.57 317.7 990.58 318.45 990.58 319.2 990.58 319.95 990.58 320.7 990.59 321.45 990.6 326.7 990.6 327.45 990.6 328.2 990.6 328.95 990.6 329.7 990.6 330.45 990.6 331.2 990.6 331.95 990.6 332.7 990.6 333.45 990.6 334.2 990.6 334.95 990.6 335.7 990.6 336.45 990.59 337.2 990.57 337.95 990.51 338.7 990.39 339.45 990.11 340.2 989.56 340.95 988.5 341.7 986.61 342.45 983.5 343.2 978.72 343.95 971.93 344.7 963.03 345.45 952.37 346.2 940.79 346.95 929.63 347.7 920.5 348.45 914.88 349.2 913.44 349.95 915.4 350.7 920.91 351.45 929.07 352.2 938.76 352.95 948.88 353.7 958.49 354.45 966.92 355.2 973.83 355.95 979.14 356.7 983 357.45 985.65 358.2 987.39 358.95 988.48 359.7 989.15 360.45 989.55 361.2 989.78 361.95 989.93 362.7 990.03 363.45 990.1 364.2 990.16 364.95 990.2 365.7 990.25 366.45 990.28 367.2 990.31 367.95 990.34 368.7 990.37 369.45 990.39 370.2 990.41 370.95 990.43 371.7 990.6 380.7 990.6 381.45 990.6 382.2 990.6 382.95 990.6 383.7 990.6 384.45 990.6 385.2 990.6 385.95 990.6 386.7 990.6 387.45 990.6 388.2 990.6 388.95 990.6 389.7 990.6 390.45 990.59 391.2 990.58 391.95 990.55 392.7 990.48 393.45 990.32 394.2 989.98 394.95 989.33 395.7 988.15 396.45 986.16 397.2 983.05 397.95 978.53 398.7 972.48 399.45 965.05 400.2 956.76 400.95 948.48 401.7 941.36 402.45 936.52 403.2 934.8 403.95 935.45 404.7 938.82 405.45 944.29 406.2 951.1 406.95 958.42 407.7 965.54 408.45 971.91 409.2 977.22 409.95 981.36 410.7 984.4 411.45 986.5 412.2 987.82 412.95 988.53 413.7 988.75 414.45 988.52 415.2 987.85 415.95 986.7 416.7 985.07 417.45 983.04 418.2 980.75 418.95 978.45 419.7 976.48 420.45 975.15 421.2 974.69 421.95 974.89 422.7 975.86 423.45 977.42 424.2 979.35 424.95 981.42 425.7 983.55 426.45 985.34 427.2 986.84 427.95 988.01 428.7 988.87 429.45 989.47 430.2 989.87 430.95 990.12 431.7 990.27 432.45 990.37 433.2 990.42 433.95 990.45 434.7 990.47 435.45 990.48 436.2 990.47 436.95 990.46 437.7 990.42 438.45 990.37 439.2 990.28 439.95 990.17 440.7 990.04 441.45 989.88 442.2 989.72 442.95 989.58 443.7 989.49 444.45 989.42 445.2 989.4 445.95 989.44 446.7 989.52 447.45 989.64 448.2 989.78 448.95 989.9 449.7 990.01 450.45 990.08 451.2 990.09 451.95 990.06 452.7 989.98 453.45 989.86 454.2 989.72 454.95 989.59 455.7 989.48 456.45 989.41 457.2 989.4 457.95 989.44 458.7 989.51 459.45 989.61 460.2 989.7 460.95 989.72 461.7 989.59 462.45 989.22 463.2 988.46 463.95 987.15 464.7 985.13 465.45 982.31 466.2 978.72 466.95 974.56 467.7 970.24 468.45 966.3 469.2 963.35 469.95 961.9 470.7 961.86 471.45 963.16 472.2 965.66 472.95 968.99 473.7 972.73 474.45 976.47 475.2 979.91 475.95 982.85 476.7 985.19 477.45 986.95 478.2 988.2 478.95 989.04 479.7 989.57 480.45 989.89 481.2 990.06 481.95 990.12 482.7 990.08 483.45 989.94 484.2 989.67 484.95 989.24 485.7 988.62 486.45 987.8 487.2 986.77 487.95 985.6 488.7 984.38 489.45 983.23 490.2 982.29 490.95 981.7 491.7 981.52 492.45 981.75 493.2 982.32 493.95 983.22 494.7 984.31 495.45 985.48 496.2 986.61 496.95 987.62 497.7 988.46 498.45 989.11 499.2 989.6 499.95 989.92 500.7 990.12 501.45 990.19 502.2 990.13 502.95 989.88 503.7 989.36 504.45 988.42 505.2 986.9 505.95 984.65 506.7 981.55 507.45 977.65 508.2 973.18 508.95 968.57 509.7 964.42 510.45 961.37 511.2 959.94 511.95 959.98 512.7 961.46 513.45 964.21 514.2 967.82 514.95 971.82 515.7 975.8 516.45 979.44 517.2 982.52 517.95 984.98 518.7 986.81 519.45 988.11 520.2 988.98 520.95 989.54 521.7 989.87 522.45 990.05 523.2 990.13 523.95 990.13 524.7 990.06 525.45 989.91 526.2 989.69 526.95 989.38 527.7 989 528.45 988.56 529.2 988.11 529.95 987.69 530.7 987.36 531.45 987.16 532.2 987.13 532.95 987.25 533.7 987.58 534.45 987.94 535.2 988.36 535.95 988.8 536.7 989.22 537.45 989.59 538.2 989.89 538.95 990.13 539.7 990.3 540.45 990.42 541.2 990.49 541.95 990.54 542.7 990.56 543.45 990.57 544.2 990.56 544.95 990.54 545.7 990.48 546.45 990.4 547.2 990.26 547.95 990.05 548.7 989.77 549.45 989.4 550.2 988.95 550.95 988.46 551.7 987.95 552.45 987.49 553.2 987.14 553.95 986.93 554.7 986.91 555.45 987.04 556.2 987.3 556.95 987.63 557.7 987.91 558.45 988.01 559.2 987.73 559.95 986.79 560.7 984.85 561.45 981.54 562.2 976.53 562.95 969.68 563.7 961.13 564.45 951.47 565.2 941.75 565.95 933.27 566.7 927.38 567.45 925.11 568.2 925.71 568.95 929.46 569.7 935.75 570.45 943.67 571.2 952.25 571.95 960.65 572.7 968.2 573.45 974.52 574.2 979.48 574.95 983.15 575.7 985.7 576.45 987.38 577.2 988.41 577.95 988.99 578.7 989.25 579.45 989.29 580.2 989.17 580.95 988.93 581.7 988.61 582.45 988.25 583.2 987.9 583.95 987.6 584.7 987.41 585.45 987.35 586.2 987.43 586.95 987.64 587.7 987.96 588.45 988.33 589.2 988.74 589.95 989.26 590.7 989.61 591.45 989.89 592.2 990.12 592.95 990.29 593.7 990.41 594.45 990.49 595.2 990.54 595.95 990.57 596.7 990.58 597.45 990.59 598.2 990.59 598.95 990.6 599.7 990.59 600.45 990.58 601.2 990.55 601.95 990.49 602.7 990.37 603.45 990.15 604.2 989.76 604.95 989.13 605.7 988.18 606.45 986.86 607.2 985.18 607.95 983.2 608.7 981.12 609.45 979.19 610.2 977.7 610.95 976.89 611.7 976.8 612.45 977.33 613.2 978.46 613.95 980.02 614.7 981.79 615.45 983.6 616.2 985.27 616.95 986.71 617.7 987.88 618.45 988.75 619.2 989.38 619.95 989.81 620.7 990.09 621.45 990.26 622.2 990.36 622.95 990.42 623.7 990.46 624.45 990.47 625.2 990.47 625.95 990.46 626.7 990.43 627.45 990.37 628.2 990.28 628.95 990.15 629.7 989.97 630.45 989.75 631.2 989.49 631.95 989.22 632.7 988.97 633.45 988.78 634.2 988.64 634.95 988.6 635.7 988.65 636.45 988.79 637.2 988.99 637.95 989.23 638.7 989.49 639.45 989.74 640.2 989.96 640.95 990.15 641.7 990.3 642.45 990.4 643.2 990.48 643.95 990.53 644.7 990.56 645.45 990.58 646.2 990.59 646.95 990.59 647.7 990.6 648.45 990.6 649.2 990.6 649.95 990.6 650.7 990.6 651.45 990.6 652.2 990.6 652.95 990.6 653.7 990.6 654.45 990.6 655.2 990.6 655.95 990.6 656.7 990.6 657.45 990.6 658.2 990.6 658.95 990.6 659.7 990.6 660.45 990.6 661.2 990.6 661.95 990.6 662.7 990.6 663.45 990.6 664.2 990.6 664.95 990.6 665.7 990.6 666.45 990.6 667.2 990.6 667.95 990.6 668.7 990.59 669.45 990.59 670.2 990.57 670.95 990.54 671.7 990.49 672.45 990.41 673.2 990.28 673.95 990.08 674.7 989.81 675.45 989.45 676.2 989.02 676.95 988.53 677.7 988.02 678.45 987.55 679.2 987.18 679.95 986.95 680.7 986.91 681.45 987.03 682.2 987.31 682.95 987.7 683.7 988.16 684.45 988.63 685.2 989.07 685.95 989.45 686.7 989.72 687.45 989.88 688.2 989.89 688.95 989.74 689.7 989.39 690.45 988.83 691.2 988.02 691.95 986.99 692.7 985.77 693.45 984.45 694.2 983.15 694.95 982.04 695.7 981.25 696.45 980.91 697.2 980.95 697.95 981.43 698.7 982.29 699.45 983.42 700.2 984.66 700.95 985.9 701.7 987.04 702.45 988.01 703.2 988.79 703.95 989.37 704.7 989.79 705.45 990.07 706.2 990.25 706.95 990.37 707.7 990.44 708.45 990.48 709.2 990.51 709.95 990.52 710.7 990.53 711.45 990.54 712.2 990.55 712.95 990.55 713.7 990.56 714.45 990.56 715.2 990.57 715.95 990.57 716.7 990.57 717.45 990.58 718.2 990.58 718.95 990.6 719.7 990.6 720.45 990.6 721.2 990.6 721.95 990.6 722.7 990.6 723.45 990.6 724.2 990.6 724.95 990.6 725.7 990.6 726.45 990.6 727.2 990.59 727.95 990.58 728.7 990.57 729.45 990.54 730.2 990.49 730.95 990.43 731.7 990.33 732.45 990.2 733.2 990.03 733.95 989.84 734.7 989.64 735.45 989.44 736.2 989.27 736.95 989.15 737.7 989.1 738.45 989.13 739.2 989.22 739.95 989.36 740.7 989.54 741.45 989.73 742.2 989.92 742.95 990.09 743.7 990.24 744.45 990.35 745.2 990.44 745.95 990.5 746.7 990.54 747.45 990.57 748.2 990.58 748.95 990.59 749.7 990.6 750.45 990.6 751.2 990.6 751.95 990.6 752.7 990.6 753.45 990.6 754.2 990.6 754.95 990.6 755.7 990.6 756.45 990.6 757.2 990.6 757.95 990.6 758.7 990.6 759.45 990.6 760.2 990.6 760.95 990.6 761.7 990.6 762.45 990.59 763.2 990.58 763.95 990.56 764.7 990.53 765.45 990.47 766.2 990.37 766.95 990.22 767.7 990 768.45 989.7 769.2 989.32 769.95 988.86 770.7 988.36 771.45 987.86 772.2 987.41 772.95 987.08 773.7 986.92 774.45 986.93 775.2 987.11 775.95 987.43 776.7 987.85 777.45 988.32 778.2 988.8 778.95 989.24 779.7 989.62 780.45 989.92 781.2 990.15 781.95 990.32 782.7 990.43 783.45 990.5 784.2 990.55 784.95 990.57 785.7 990.59 786.45 990.59 787.2 990.6 787.95 990.6 788.7 990.6 789.45 990.6 790.2 990.6 790.95 990.6 791.7 990.6 792.45 990.6 793.2 990.6 793.95 990.6 794.7 990.6 795.45 990.6 796.2 990.6 1077.45 990.6 1078.2 990.6 1078.95 990.6 1079.7 990.6 1080.45 990.6 1081.2 990.6 1081.95 990.6 1082.7 990.6 1083.45 990.6 1084.2 990.6 1084.95 990.6 1085.7 990.6 1086.45 990.6 1087.2 990.6 1087.95 990.6 1088.7 990.6 1089.45 990.6 1090.2 990.59 1090.95 990.59 1091.7 990.58 1092.45 990.56 1093.2 990.54 1093.95 990.51 1094.7 990.46 1095.45 990.41 1096.2 990.34 1096.95 990.27 1097.7 990.21 1098.45 990.15 1099.2 990.11 1099.95 990.1 1100.7 990.11 1101.45 990.14 1102.2 990.19 1102.95 990.25 1103.7 990.31 1104.45 990.38 1105.2 990.43 1105.95 990.48 1106.7 990.52 1107.45 990.55 1108.2 990.57 1108.95 990.58 1109.7 990.59 1110.45 990.59 1111.2 990.6 1111.95 990.6 1112.7 990.6 1113.45 990.6 1114.2 990.6 1114.95 990.6 1115.7 990.6 1116.45 990.6 1117.2 990.6 1117.95 990.6 1118.7 990.6 1119.45 990.6 1120.2 990.6 1120.95 990.6 1121.7 990.6 1122.45 990.6 1134.45 990.6 1135.2 990.6 1135.95 990.6 1136.7 990.6 1137.45 990.6 1138.2 990.6 1138.95 990.6 1139.7 990.6 1140.45 990.6 1141.2 990.6 1141.95 990.6 1142.7 990.6 1143.45 990.6 1144.2 990.6 1144.95 990.6 1145.7 990.6 1146.45 990.6 1147.2 990.59 1147.95 990.59 1148.7 990.58 1149.45 990.56 1150.2 990.54 1150.95 990.51 1151.7 990.46 1152.45 990.41 1153.2 990.34 1153.95 990.27 1154.7 990.21 1155.45 990.15 1156.2 990.11 1156.95 990.1 1157.7 990.11 1158.45 990.14 1159.2 990.19 1159.95 990.25 1160.7 990.31 1161.45 990.38 1162.2 990.43 1162.95 990.48 1163.7 990.52 1164.45 990.55 1165.2 990.57 1165.95 990.58 1166.7 990.59 1167.45 990.59 1168.2 990.6 1168.95 990.6 1169.7 990.6 1170.45 990.6 1171.2 990.6 1171.95 990.6 1172.7 990.6 1173.45 990.6 1174.2 990.6 1174.95 990.6 1175.7 990.6 1176.45 990.6 1177.2 990.6 1177.95 990.6 1178.7 990.6 1179.45 990.6 1387.95 990.6" fill="none" stroke="#111" stroke-width="2" stroke-linejoin="round"/>
<g class="tk"><text x="107" y="1007.4">6</text><text x="163.95" y="1007.4">7</text><text x="220.9" y="1007.4">8</text><text x="277.85" y="1007.4">9</text><text x="334.8" y="1007.4">10</text><text x="391.75" y="1007.4">11</text><text x="448.7" y="1007.4">12</text><text x="505.65" y="1007.4">13</text><text x="562.6" y="1007.4">14</text><text x="619.55" y="1007.4">15</text><text x="676.5" y="1007.4">16</text><text x="733.45" y="1007.4">17</text><text x="790.4" y="1007.4">18</text><text x="847.35" y="1007.4">19</text><text x="904.3" y="1007.4">20</text><text x="961.25" y="1007.4">21</text><text x="1018.2" y="1007.4">22</text><text x="1075.15" y="1007.4">23</text><text x="1132.1" y="1007.4">24</text><text x="1189.05" y="1007.4">25</text><text x="1246" y="1007.4">26</text><text x="1302.95" y="1007.4">27</text><text x="1359.9" y="1007.4">28</text></g>
<path d="M64.2 1101.5H1388.5" stroke="#444" stroke-width="1.1" fill="none"/>
<path d="M107 1101.5v3.3M163.95 1101.5v3.3M220.9 1101.5v3.3M277.85 1101.5v3.3M334.8 1101.5v3.3M391.75 1101.5v3.3M448.7 1101.5v3.3M505.65 1101.5v3.3M562.6 1101.5v3.3M619.55 1101.5v3.3M676.5 1101.5v3.3M733.45 1101.5v3.3M790.4 1101.5v3.3M847.35 1101.5v3.3M904.3 1101.5v3.3M961.25 1101.5v3.3M1018.2 1101.5v3.3M1075.15 1101.5v3.3M1132.1 1101.5v3.3M1189.05 1101.5v3.3M1246 1101.5v3.3M1302.95 1101.5v3.3M1359.9 1101.5v3.3" stroke="#666" stroke-width="1" fill="none"/>
<path d="M72.83 1101.5v1.9M84.22 1101.5v1.9M95.61 1101.5v1.9M118.39 1101.5v1.9M129.78 1101.5v1.9M141.17 1101.5v1.9M152.56 1101.5v1.9M175.34 1101.5v1.9M186.73 1101.5v1.9M198.12 1101.5v1.9M209.51 1101.5v1.9M232.29 1101.5v1.9M243.68 1101.5v1.9M255.07 1101.5v1.9M266.46 1101.5v1.9M289.24 1101.5v1.9M300.63 1101.5v1.9M312.02 1101.5v1.9M323.41 1101.5v1.9M346.19 1101.5v1.9M357.58 1101.5v1.9M368.97 1101.5v1.9M380.36 1101.5v1.9M403.14 1101.5v1.9M414.53 1101.5v1.9M425.92 1101.5v1.9M437.31 1101.5v1.9M460.09 1101.5v1.9M471.48 1101.5v1.9M482.87 1101.5v1.9M494.26 1101.5v1.9M517.04 1101.5v1.9M528.43 1101.5v1.9M539.82 1101.5v1.9M551.21 1101.5v1.9M573.99 1101.5v1.9M585.38 1101.5v1.9M596.77 1101.5v1.9M608.16 1101.5v1.9M630.94 1101.5v1.9M642.33 1101.5v1.9M653.72 1101.5v1.9M665.11 1101.5v1.9M687.89 1101.5v1.9M699.28 1101.5v1.9M710.67 1101.5v1.9M722.06 1101.5v1.9M744.84 1101.5v1.9M756.23 1101.5v1.9M767.62 1101.5v1.9M779.01 1101.5v1.9M801.79 1101.5v1.9M813.18 1101.5v1.9M824.57 1101.5v1.9M835.96 1101.5v1.9M858.74 1101.5v1.9M870.13 1101.5v1.9M881.52 1101.5v1.9M892.91 1101.5v1.9M915.69 1101.5v1.9M927.08 1101.5v1.9M938.47 1101.5v1.9M949.86 1101.5v1.9M972.64 1101.5v1.9M984.03 1101.5v1.9M995.42 1101.5v1.9M1006.81 1101.5v1.9M1029.59 1101.5v1.9M1040.98 1101.5v1.9M1052.37 1101.5v1.9M1063.76 1101.5v1.9M1086.54 1101.5v1.9M1097.93 1101.5v1.9M1109.32 1101.5v1.9M1120.71 1101.5v1.9M1143.49 1101.5v1.9M1154.88 1101.5v1.9M1166.27 1101.5v1.9M1177.66 1101.5v1.9M1200.44 1101.5v1.9M1211.83 1101.5v1.9M1223.22 1101.5v1.9M1234.61 1101.5v1.9M1257.39 1101.5v1.9M1268.78 1101.5v1.9M1280.17 1101.5v1.9M1291.56 1101.5v1.9M1314.34 1101.5v1.9M1325.73 1101.5v1.9M1337.12 1101.5v1.9M1348.51 1101.5v1.9M1371.29 1101.5v1.9M1382.68 1101.5v1.9" stroke="#888" stroke-width="0.9" fill="none"/>
<path d="M64.2 1099.3 172.95 1099.3 173.7 1099.3 174.45 1099.3 175.2 1099.3 175.95 1099.3 176.7 1099.3 177.45 1099.3 178.2 1099.3 178.95 1099.3 179.7 1099.3 180.45 1099.3 181.2 1099.3 181.95 1099.3 182.7 1099.3 183.45 1099.3 184.2 1099.3 184.95 1099.29 185.7 1099.29 186.45 1099.28 187.2 1099.26 187.95 1099.24 188.7 1099.2 189.45 1099.15 190.2 1099.09 190.95 1099.02 191.7 1098.94 192.45 1098.85 193.2 1098.78 193.95 1098.73 194.7 1098.7 195.45 1098.7 196.2 1098.73 196.95 1098.79 197.7 1098.85 198.45 1098.93 199.2 1099.01 199.95 1099.08 200.7 1099.14 201.45 1099.19 202.2 1099.23 202.95 1099.25 203.7 1099.27 204.45 1099.28 205.2 1099.29 205.95 1099.3 206.7 1099.3 207.45 1099.3 208.2 1099.3 208.95 1099.3 209.7 1099.3 210.45 1099.3 211.2 1099.3 211.95 1099.29 212.7 1099.28 213.45 1099.27 214.2 1099.25 214.95 1099.22 215.7 1099.17 216.45 1099.11 217.2 1099.02 217.95 1098.92 218.7 1098.81 219.45 1098.71 220.2 1098.61 220.95 1098.54 221.7 1098.5 222.45 1098.51 223.2 1098.55 223.95 1098.62 224.7 1098.71 225.45 1098.81 226.2 1098.91 226.95 1099.01 227.7 1099.09 228.45 1099.15 229.2 1099.2 229.95 1099.24 230.7 1099.26 231.45 1099.28 232.2 1099.29 232.95 1099.29 233.7 1099.3 234.45 1099.3 235.2 1099.3 235.95 1099.3 236.7 1099.3 237.45 1099.3 238.2 1099.3 238.95 1099.3 239.7 1099.3 240.45 1099.3 241.2 1099.3 241.95 1099.3 242.7 1099.3 243.45 1099.3 244.2 1099.3 253.2 1099.3 253.95 1099.3 254.7 1099.3 255.45 1099.3 256.2 1099.3 256.95 1099.3 257.7 1099.3 258.45 1099.3 259.2 1099.3 259.95 1099.3 260.7 1099.3 261.45 1099.3 262.2 1099.3 262.95 1099.3 263.7 1099.3 264.45 1099.29 265.2 1099.29 265.95 1099.28 266.7 1099.26 267.45 1099.22 268.2 1099.17 268.95 1099.09 269.7 1098.98 270.45 1098.83 271.2 1098.66 271.95 1098.46 272.7 1098.25 273.45 1098.06 274.2 1097.91 274.95 1097.82 275.7 1097.8 276.45 1097.85 277.2 1097.97 277.95 1098.13 278.7 1098.31 279.45 1098.51 280.2 1098.69 280.95 1098.85 281.7 1098.99 282.45 1099.09 283.2 1099.17 283.95 1099.22 284.7 1099.25 285.45 1099.27 286.2 1099.28 286.95 1099.28 287.7 1099.27 288.45 1099.24 289.2 1099.19 289.95 1099.1 290.7 1098.95 291.45 1098.74 292.2 1098.45 292.95 1098.06 293.7 1097.59 294.45 1097.06 295.2 1096.51 295.95 1096 296.7 1095.6 297.45 1095.36 298.2 1095.31 298.95 1095.44 299.7 1095.75 300.45 1096.17 301.2 1096.67 301.95 1097.18 302.7 1097.68 303.45 1098.11 304.2 1098.47 304.95 1098.74 305.7 1098.94 306.45 1099.08 307.2 1099.17 307.95 1099.23 308.7 1099.26 309.45 1099.28 310.2 1099.29 310.95 1099.3 311.7 1099.3 312.45 1099.3 313.2 1099.3 313.95 1099.3 314.7 1099.3 315.45 1099.3 316.2 1099.3 316.95 1099.3 317.7 1099.3 318.45 1099.3 319.2 1099.3 319.95 1099.3 320.7 1099.3 324.45 1099.3 325.2 1099.3 325.95 1099.3 326.7 1099.3 327.45 1099.3 328.2 1099.3 328.95 1099.3 329.7 1099.3 330.45 1099.3 331.2 1099.3 331.95 1099.3 332.7 1099.3 333.45 1099.3 334.2 1099.29 334.95 1099.26 335.7 1099.21 336.45 1099.08 337.2 1098.79 337.95 1098.21 338.7 1097.11 339.45 1095.16 340.2 1091.96 340.95 1087.08 341.7 1080.17 342.45 1071.18 343.2 1060.46 343.95 1048.91 344.7 1037.88 345.45 1028.98 346.2 1023.66 346.95 1022.45 347.7 1024.66 348.45 1030.36 349.2 1038.61 349.95 1048.33 350.7 1058.41 351.45 1067.92 352.2 1076.22 352.95 1082.99 353.7 1088.18 354.45 1091.94 355.2 1094.51 355.95 1096.19 356.7 1097.25 357.45 1097.89 358.2 1098.27 358.95 1098.5 359.7 1098.64 360.45 1098.74 361.2 1098.81 361.95 1098.86 362.7 1098.91 363.45 1098.95 364.2 1098.99 364.95 1099.02 365.7 1099.05 366.45 1099.07 367.2 1099.09 367.95 1099.12 368.7 1099.3 379.2 1099.3 379.95 1099.3 380.7 1099.3 381.45 1099.3 382.2 1099.3 382.95 1099.3 383.7 1099.3 384.45 1099.3 385.2 1099.3 385.95 1099.3 386.7 1099.3 387.45 1099.3 388.2 1099.3 388.95 1099.3 389.7 1099.29 390.45 1099.28 391.2 1099.25 391.95 1099.19 392.7 1099.07 393.45 1098.83 394.2 1098.42 394.95 1097.74 395.7 1096.72 396.45 1095.28 397.2 1093.41 397.95 1091.2 398.7 1088.83 399.45 1086.59 400.2 1084.81 400.95 1083.78 401.7 1083.57 402.45 1084.08 403.2 1085.29 403.95 1087 404.7 1089 405.45 1091.06 406.2 1093 406.95 1094.68 407.7 1096.03 408.45 1097.07 409.2 1097.79 409.95 1098.26 410.7 1098.52 411.45 1098.59 412.2 1098.49 412.95 1098.22 413.7 1097.75 414.45 1097.08 415.2 1096.2 415.95 1095.15 416.7 1093.99 417.45 1092.84 418.2 1091.82 418.95 1091.06 419.7 1090.68 420.45 1090.65 421.2 1091.01 421.95 1091.72 422.7 1092.68 423.45 1093.81 424.2 1094.92 424.95 1095.95 425.7 1096.85 426.45 1097.57 427.2 1098.12 427.95 1098.52 428.7 1098.79 429.45 1098.97 430.2 1099.08 430.95 1099.15 431.7 1099.19 432.45 1099.21 433.2 1099.23 433.95 1099.23 434.7 1099.24 435.45 1099.24 436.2 1099.23 436.95 1099.21 437.7 1099.18 438.45 1099.13 439.2 1099.06 439.95 1098.97 440.7 1098.85 441.45 1098.72 442.2 1098.6 442.95 1098.48 443.7 1098.37 444.45 1098.31 445.2 1098.3 445.95 1098.33 446.7 1098.4 447.45 1098.5 448.2 1098.61 448.95 1098.72 449.7 1098.81 450.45 1098.86 451.2 1098.88 451.95 1098.85 452.7 1098.78 453.45 1098.69 454.2 1098.57 454.95 1098.46 455.7 1098.36 456.45 1098.3 457.2 1098.28 457.95 1098.29 458.7 1098.29 459.45 1098.26 460.2 1098.1 460.95 1097.7 461.7 1096.92 462.45 1095.58 463.2 1093.5 463.95 1090.6 464.7 1086.88 465.45 1082.56 466.2 1078.07 466.95 1073.98 467.7 1070.91 468.45 1069.4 469.2 1069.36 469.95 1070.71 470.7 1073.32 471.45 1076.79 472.2 1080.68 472.95 1084.58 473.7 1088.17 474.45 1091.23 475.2 1093.67 475.95 1095.5 476.7 1096.8 477.45 1097.67 478.2 1098.23 478.95 1098.56 479.7 1098.73 480.45 1098.78 481.2 1098.73 481.95 1098.56 482.7 1098.25 483.45 1097.76 484.2 1097.07 484.95 1096.14 485.7 1095.02 486.45 1093.74 487.2 1092.43 487.95 1091.21 488.7 1090.24 489.45 1089.66 490.2 1089.51 490.95 1089.82 491.7 1090.49 492.45 1091.49 493.2 1092.69 493.95 1093.95 494.7 1095.15 495.45 1096.22 496.2 1097.09 496.95 1097.77 497.7 1098.27 498.45 1098.6 499.2 1098.8 499.95 1098.89 500.7 1098.87 501.45 1098.74 502.2 1098.48 502.95 1098.07 503.7 1097.48 504.45 1096.69 505.2 1095.74 505.95 1094.65 506.7 1093.53 507.45 1092.5 508.2 1091.68 508.95 1091.18 509.7 1091.05 510.45 1091.26 511.2 1091.83 511.95 1092.68 512.7 1093.71 513.45 1094.78 514.2 1095.79 514.95 1096.69 515.7 1097.44 516.45 1098.02 517.2 1098.44 517.95 1098.74 518.7 1098.93 519.45 1099.06 520.2 1099.13 520.95 1099.18 521.7 1099.2 522.45 1099.2 523.2 1099.2 523.95 1099.17 524.7 1099.12 525.45 1099.05 526.2 1098.94 526.95 1098.8 527.7 1098.63 528.45 1098.43 529.2 1098.23 529.95 1098.04 530.7 1097.89 531.45 1097.8 532.2 1097.8 532.95 1097.85 533.7 1097.97 534.45 1098.13 535.2 1098.31 535.95 1098.51 536.7 1098.69 537.45 1098.85 538.2 1098.99 538.95 1099.09 539.7 1099.17 540.45 1099.22 541.2 1099.25 541.95 1099.26 542.7 1099.26 543.45 1099.24 544.2 1099.2 544.95 1099.13 545.7 1099.02 546.45 1098.86 547.2 1098.64 547.95 1098.37 548.7 1098.06 549.45 1097.71 550.2 1097.38 550.95 1097.09 551.7 1096.89 552.45 1096.8 553.2 1096.83 553.95 1096.96 554.7 1097.17 555.45 1097.39 556.2 1097.57 556.95 1097.6 557.7 1097.34 558.45 1096.61 559.2 1095.2 559.95 1092.89 560.7 1089.53 561.45 1085.08 562.2 1079.75 562.95 1073.98 563.7 1068.46 564.45 1063.99 565.2 1061.33 565.95 1060.72 566.7 1061.83 567.45 1064.69 568.2 1068.84 568.95 1073.72 569.7 1078.77 570.45 1083.55 571.2 1087.71 571.95 1091.11 572.7 1093.71 573.45 1095.59 574.2 1096.87 574.95 1097.69 575.7 1098.18 576.45 1098.45 577.2 1098.55 577.95 1098.55 578.7 1098.47 579.45 1098.34 580.2 1098.17 580.95 1097.99 581.7 1097.83 582.45 1097.71 583.2 1097.65 583.95 1097.67 584.7 1097.74 585.45 1097.88 586.2 1098.06 586.95 1098.26 587.7 1098.54 588.45 1098.73 589.2 1098.88 589.95 1099.01 590.7 1099.11 591.45 1099.18 592.2 1099.23 592.95 1099.26 593.7 1099.28 594.45 1099.29 595.2 1099.29 595.95 1099.29 596.7 1099.29 597.45 1099.29 598.2 1099.27 598.95 1099.24 599.7 1099.17 600.45 1099.05 601.2 1098.86 601.95 1098.54 602.7 1098.07 603.45 1097.39 604.2 1096.5 604.95 1095.39 605.7 1094.13 606.45 1092.8 607.2 1091.53 607.95 1090.49 608.7 1089.82 609.45 1089.59 610.2 1089.73 610.95 1090.33 611.7 1091.27 612.45 1092.44 613.2 1093.7 613.95 1094.92 614.7 1096.02 615.45 1096.94 616.2 1097.66 616.95 1098.2 617.7 1098.57 618.45 1098.83 619.2 1098.99 619.95 1099.09 620.7 1099.15 621.45 1099.19 622.2 1099.21 622.95 1099.22 623.7 1099.22 624.45 1099.21 625.2 1099.19 625.95 1099.15 626.7 1099.1 627.45 1099.02 628.2 1098.92 628.95 1098.8 629.7 1098.67 630.45 1098.53 631.2 1098.42 631.95 1098.35 632.7 1098.3 633.45 1098.31 634.2 1098.36 634.95 1098.44 635.7 1098.56 636.45 1098.68 637.2 1098.81 637.95 1098.93 638.7 1099.03 639.45 1099.12 640.2 1099.18 640.95 1099.22 641.7 1099.25 642.45 1099.27 643.2 1099.29 643.95 1099.29 644.7 1099.3 645.45 1099.3 646.2 1099.3 646.95 1099.3 647.7 1099.3 648.45 1099.3 649.2 1099.3 649.95 1099.3 650.7 1099.3 651.45 1099.3 652.2 1099.3 652.95 1099.3 653.7 1099.3 654.45 1099.3 655.2 1099.3 655.95 1099.3 656.7 1099.3 657.45 1099.3 658.2 1099.3 658.95 1099.3 659.7 1099.3 660.45 1099.3 661.2 1099.3 661.95 1099.3 662.7 1099.3 663.45 1099.3 664.2 1099.3 664.95 1099.3 665.7 1099.3 666.45 1099.3 667.2 1099.29 667.95 1099.28 668.7 1099.26 669.45 1099.22 670.2 1099.17 670.95 1099.08 671.7 1098.94 672.45 1098.77 673.2 1098.54 673.95 1098.26 674.7 1097.97 675.45 1097.67 676.2 1097.4 676.95 1097.21 677.7 1097.11 678.45 1097.12 679.2 1097.23 679.95 1097.42 680.7 1097.66 681.45 1097.94 682.2 1098.22 682.95 1098.47 683.7 1098.68 684.45 1098.82 685.2 1098.89 685.95 1098.88 686.7 1098.78 687.45 1098.56 688.2 1098.22 688.95 1097.76 689.7 1097.2 690.45 1096.55 691.2 1095.88 691.95 1095.26 692.7 1094.77 693.45 1094.47 694.2 1094.41 694.95 1094.58 695.7 1094.95 696.45 1095.46 697.2 1096.07 697.95 1096.71 698.7 1097.31 699.45 1097.84 700.2 1098.28 700.95 1098.62 701.7 1098.86 702.45 1099.03 703.2 1099.15 703.95 1099.21 704.7 1099.25 705.45 1099.28 706.2 1099.29 706.95 1099.29 707.7 1099.3 708.45 1099.3 709.2 1099.3 709.95 1099.3 710.7 1099.3 711.45 1099.3 712.2 1099.3 712.95 1099.3 713.7 1099.3 714.45 1099.3 715.2 1099.3 715.95 1099.3 716.7 1099.3 717.45 1099.3 718.2 1099.3 718.95 1099.3 719.7 1099.3 720.45 1099.3 721.2 1099.3 721.95 1099.3 722.7 1099.3 723.45 1099.3 724.2 1099.3 724.95 1099.3 725.7 1099.29 726.45 1099.28 727.2 1099.27 727.95 1099.25 728.7 1099.21 729.45 1099.16 730.2 1099.09 730.95 1098.99 731.7 1098.87 732.45 1098.74 733.2 1098.6 733.95 1098.48 734.7 1098.37 735.45 1098.31 736.2 1098.3 736.95 1098.34 737.7 1098.41 738.45 1098.52 739.2 1098.64 739.95 1098.77 740.7 1098.89 741.45 1099 742.2 1099.09 742.95 1099.16 743.7 1099.21 744.45 1099.25 745.2 1099.27 745.95 1099.28 746.7 1099.29 747.45 1099.3 748.2 1099.3 748.95 1099.3 749.7 1099.3 750.45 1099.3 751.2 1099.3 751.95 1099.3 752.7 1099.3 753.45 1099.3 754.2 1099.3 754.95 1099.3 755.7 1099.3 756.45 1099.3 757.2 1099.3 757.95 1099.3 758.7 1099.3 759.45 1099.3 760.2 1099.29 760.95 1099.29 761.7 1099.27 762.45 1099.25 763.2 1099.21 763.95 1099.14 764.7 1099.04 765.45 1098.89 766.2 1098.69 766.95 1098.45 767.7 1098.17 768.45 1097.86 769.2 1097.57 769.95 1097.33 770.7 1097.16 771.45 1097.1 772.2 1097.14 772.95 1097.28 773.7 1097.49 774.45 1097.76 775.2 1098.04 775.95 1098.32 776.7 1098.57 777.45 1098.78 778.2 1098.95 778.95 1099.07 779.7 1099.16 780.45 1099.22 781.2 1099.25 781.95 1099.27 782.7 1099.29 783.45 1099.29 784.2 1099.3 784.95 1099.3 785.7 1099.3 786.45 1099.3 787.2 1099.3 787.95 1099.3 788.7 1099.3 789.45 1099.3 790.2 1099.3 790.95 1099.3 791.7 1099.3 792.45 1099.3 793.2 1099.3 793.95 1099.3 1077.45 1099.3 1078.2 1099.3 1078.95 1099.3 1079.7 1099.3 1080.45 1099.3 1081.2 1099.3 1081.95 1099.3 1082.7 1099.3 1083.45 1099.3 1084.2 1099.3 1084.95 1099.3 1085.7 1099.3 1086.45 1099.3 1087.2 1099.3 1087.95 1099.3 1088.7 1099.3 1089.45 1099.3 1090.2 1099.29 1090.95 1099.29 1091.7 1099.28 1092.45 1099.26 1093.2 1099.24 1093.95 1099.21 1094.7 1099.16 1095.45 1099.11 1096.2 1099.04 1096.95 1098.97 1097.7 1098.91 1098.45 1098.85 1099.2 1098.81 1099.95 1098.8 1100.7 1098.81 1101.45 1098.84 1102.2 1098.89 1102.95 1098.95 1103.7 1099.01 1104.45 1099.08 1105.2 1099.13 1105.95 1099.18 1106.7 1099.22 1107.45 1099.25 1108.2 1099.27 1108.95 1099.28 1109.7 1099.29 1110.45 1099.29 1111.2 1099.3 1111.95 1099.3 1112.7 1099.3 1113.45 1099.3 1114.2 1099.3 1114.95 1099.3 1115.7 1099.3 1116.45 1099.3 1117.2 1099.3 1117.95 1099.3 1118.7 1099.3 1119.45 1099.3 1120.2 1099.3 1120.95 1099.3 1121.7 1099.3 1122.45 1099.3 1134.45 1099.3 1135.2 1099.3 1135.95 1099.3 1136.7 1099.3 1137.45 1099.3 1138.2 1099.3 1138.95 1099.3 1139.7 1099.3 1140.45 1099.3 1141.2 1099.3 1141.95 1099.3 1142.7 1099.3 1143.45 1099.3 1144.2 1099.3 1144.95 1099.3 1145.7 1099.3 1146.45 1099.3 1147.2 1099.29 1147.95 1099.29 1148.7 1099.28 1149.45 1099.26 1150.2 1099.24 1150.95 1099.21 1151.7 1099.16 1152.45 1099.11 1153.2 1099.04 1153.95 1098.97 1154.7 1098.91 1155.45 1098.85 1156.2 1098.81 1156.95 1098.8 1157.7 1098.81 1158.45 1098.84 1159.2 1098.89 1159.95 1098.95 1160.7 1099.01 1161.45 1099.08 1162.2 1099.13 1162.95 1099.18 1163.7 1099.22 1164.45 1099.25 1165.2 1099.27 1165.95 1099.28 1166.7 1099.29 1167.45 1099.29 1168.2 1099.3 1168.95 1099.3 1169.7 1099.3 1170.45 1099.3 1171.2 1099.3 1171.95 1099.3 1172.7 1099.3 1173.45 1099.3 1174.2 1099.3 1174.95 1099.3 1175.7 1099.3 1176.45 1099.3 1177.2 1099.3 1177.95 1099.3 1178.7 1099.3 1179.45 1099.3 1387.95 1099.3" fill="none" stroke="#111" stroke-width="2" stroke-linejoin="round"/>
<g class="tk"><text x="107" y="1116.1">6</text><text x="163.95" y="1116.1">7</text><text x="220.9" y="1116.1">8</text><text x="277.85" y="1116.1">9</text><text x="334.8" y="1116.1">10</text><text x="391.75" y="1116.1">11</text><text x="448.7" y="1116.1">12</text><text x="505.65" y="1116.1">13</text><text x="562.6" y="1116.1">14</text><text x="619.55" y="1116.1">15</text><text x="676.5" y="1116.1">16</text><text x="733.45" y="1116.1">17</text><text x="790.4" y="1116.1">18</text><text x="847.35" y="1116.1">19</text><text x="904.3" y="1116.1">20</text><text x="961.25" y="1116.1">21</text><text x="1018.2" y="1116.1">22</text><text x="1075.15" y="1116.1">23</text><text x="1132.1" y="1116.1">24</text><text x="1189.05" y="1116.1">25</text><text x="1246" y="1116.1">26</text><text x="1302.95" y="1116.1">27</text><text x="1359.9" y="1116.1">28</text></g>
<path d="M64.2 1208.4H1388.5" stroke="#444" stroke-width="1.1" fill="none"/>
<path d="M114.2 1208.4v3.3M171.15 1208.4v3.3M228.1 1208.4v3.3M285.05 1208.4v3.3M342 1208.4v3.3M398.95 1208.4v3.3M455.9 1208.4v3.3M512.85 1208.4v3.3M569.8 1208.4v3.3M626.75 1208.4v3.3M683.7 1208.4v3.3M740.65 1208.4v3.3M797.6 1208.4v3.3M854.55 1208.4v3.3M911.5 1208.4v3.3M968.45 1208.4v3.3M1025.4 1208.4v3.3M1082.35 1208.4v3.3M1139.3 1208.4v3.3M1196.25 1208.4v3.3M1253.2 1208.4v3.3M1310.15 1208.4v3.3M1367.1 1208.4v3.3" stroke="#666" stroke-width="1" fill="none"/>
<path d="M68.64 1208.4v1.9M80.03 1208.4v1.9M91.42 1208.4v1.9M102.81 1208.4v1.9M125.59 1208.4v1.9M136.98 1208.4v1.9M148.37 1208.4v1.9M159.76 1208.4v1.9M182.54 1208.4v1.9M193.93 1208.4v1.9M205.32 1208.4v1.9M216.71 1208.4v1.9M239.49 1208.4v1.9M250.88 1208.4v1.9M262.27 1208.4v1.9M273.66 1208.4v1.9M296.44 1208.4v1.9M307.83 1208.4v1.9M319.22 1208.4v1.9M330.61 1208.4v1.9M353.39 1208.4v1.9M364.78 1208.4v1.9M376.17 1208.4v1.9M387.56 1208.4v1.9M410.34 1208.4v1.9M421.73 1208.4v1.9M433.12 1208.4v1.9M444.51 1208.4v1.9M467.29 1208.4v1.9M478.68 1208.4v1.9M490.07 1208.4v1.9M501.46 1208.4v1.9M524.24 1208.4v1.9M535.63 1208.4v1.9M547.02 1208.4v1.9M558.41 1208.4v1.9M581.19 1208.4v1.9M592.58 1208.4v1.9M603.97 1208.4v1.9M615.36 1208.4v1.9M638.14 1208.4v1.9M649.53 1208.4v1.9M660.92 1208.4v1.9M672.31 1208.4v1.9M695.09 1208.4v1.9M706.48 1208.4v1.9M717.87 1208.4v1.9M729.26 1208.4v1.9M752.04 1208.4v1.9M763.43 1208.4v1.9M774.82 1208.4v1.9M786.21 1208.4v1.9M808.99 1208.4v1.9M820.38 1208.4v1.9M831.77 1208.4v1.9M843.16 1208.4v1.9M865.94 1208.4v1.9M877.33 1208.4v1.9M888.72 1208.4v1.9M900.11 1208.4v1.9M922.89 1208.4v1.9M934.28 1208.4v1.9M945.67 1208.4v1.9M957.06 1208.4v1.9M979.84 1208.4v1.9M991.23 1208.4v1.9M1002.62 1208.4v1.9M1014.01 1208.4v1.9M1036.79 1208.4v1.9M1048.18 1208.4v1.9M1059.57 1208.4v1.9M1070.96 1208.4v1.9M1093.74 1208.4v1.9M1105.13 1208.4v1.9M1116.52 1208.4v1.9M1127.91 1208.4v1.9M1150.69 1208.4v1.9M1162.08 1208.4v1.9M1173.47 1208.4v1.9M1184.86 1208.4v1.9M1207.64 1208.4v1.9M1219.03 1208.4v1.9M1230.42 1208.4v1.9M1241.81 1208.4v1.9M1264.59 1208.4v1.9M1275.98 1208.4v1.9M1287.37 1208.4v1.9M1298.76 1208.4v1.9M1321.54 1208.4v1.9M1332.93 1208.4v1.9M1344.32 1208.4v1.9M1355.71 1208.4v1.9M1378.49 1208.4v1.9" stroke="#888" stroke-width="0.9" fill="none"/>
<path d="M64.2 1206.2 179.7 1206.2 180.45 1206.2 181.2 1206.2 181.95 1206.2 182.7 1206.2 183.45 1206.2 184.2 1206.2 184.95 1206.2 185.7 1206.2 186.45 1206.2 187.2 1206.2 187.95 1206.2 188.7 1206.2 189.45 1206.2 190.2 1206.2 190.95 1206.2 191.7 1206.2 192.45 1206.19 193.2 1206.18 193.95 1206.17 194.7 1206.15 195.45 1206.12 196.2 1206.07 196.95 1206.01 197.7 1205.94 198.45 1205.86 199.2 1205.78 199.95 1205.71 200.7 1205.64 201.45 1205.61 202.2 1205.6 202.95 1205.62 203.7 1205.67 204.45 1205.73 205.2 1205.8 205.95 1205.88 206.7 1205.96 207.45 1206.02 208.2 1206.08 208.95 1206.12 209.7 1206.15 210.45 1206.17 211.2 1206.18 211.95 1206.19 212.7 1206.19 213.45 1206.2 214.2 1206.2 214.95 1206.2 215.7 1206.2 216.45 1206.2 217.2 1206.2 217.95 1206.2 218.7 1206.19 219.45 1206.19 220.2 1206.18 220.95 1206.16 221.7 1206.13 222.45 1206.09 223.2 1206.03 223.95 1205.95 224.7 1205.86 225.45 1205.75 226.2 1205.64 226.95 1205.54 227.7 1205.46 228.45 1205.41 229.2 1205.4 229.95 1205.43 230.7 1205.49 231.45 1205.57 232.2 1205.67 232.95 1205.78 233.7 1205.88 234.45 1205.96 235.2 1206.03 235.95 1206.09 236.7 1206.13 237.45 1206.16 238.2 1206.17 238.95 1206.19 239.7 1206.19 240.45 1206.2 241.2 1206.2 241.95 1206.2 242.7 1206.2 243.45 1206.2 244.2 1206.2 244.95 1206.2 245.7 1206.2 246.45 1206.2 247.2 1206.2 247.95 1206.2 248.7 1206.2 249.45 1206.2 250.2 1206.2 250.95 1206.2 251.7 1206.2 258.45 1206.2 259.2 1206.2 259.95 1206.2 260.7 1206.2 261.45 1206.2 262.2 1206.2 262.95 1206.2 263.7 1206.2 264.45 1206.2 265.2 1206.2 265.95 1206.2 266.7 1206.2 267.45 1206.2 268.2 1206.2 268.95 1206.2 269.7 1206.19 270.45 1206.18 271.2 1206.16 271.95 1206.13 272.7 1206.08 273.45 1206 274.2 1205.88 274.95 1205.71 275.7 1205.51 276.45 1205.26 277.2 1204.99 277.95 1204.72 278.7 1204.48 279.45 1204.3 280.2 1204.21 280.95 1204.22 281.7 1204.31 282.45 1204.49 283.2 1204.71 283.95 1204.97 284.7 1205.23 285.45 1205.46 286.2 1205.67 286.95 1205.83 287.7 1205.96 288.45 1206.05 289.2 1206.11 289.95 1206.15 290.7 1206.17 291.45 1206.18 292.2 1206.18 292.95 1206.18 293.7 1206.16 294.45 1206.12 295.2 1206.06 295.95 1205.94 296.7 1205.74 297.45 1205.44 298.2 1205 298.95 1204.41 299.7 1203.66 300.45 1202.78 301.2 1201.83 301.95 1200.89 302.7 1200.07 303.45 1199.48 304.2 1199.21 304.95 1199.22 305.7 1199.55 306.45 1200.16 307.2 1200.96 307.95 1201.86 308.7 1202.75 309.45 1203.58 310.2 1204.29 310.95 1204.86 311.7 1205.29 312.45 1205.6 313.2 1205.81 313.95 1205.94 314.7 1206.03 315.45 1206.08 316.2 1206.11 316.95 1206.13 317.7 1206.14 318.45 1206.15 319.2 1206.16 319.95 1206.16 320.7 1206.17 321.45 1206.17 322.2 1206.17 322.95 1206.18 323.7 1206.18 324.45 1206.18 325.2 1206.18 325.95 1206.18 326.7 1206.2 331.2 1206.2 331.95 1206.2 332.7 1206.2 333.45 1206.2 334.2 1206.2 334.95 1206.2 335.7 1206.2 336.45 1206.2 337.2 1206.2 337.95 1206.2 338.7 1206.2 339.45 1206.2 340.2 1206.2 340.95 1206.19 341.7 1206.17 342.45 1206.11 343.2 1205.99 343.95 1205.72 344.7 1205.17 345.45 1204.12 346.2 1202.25 346.95 1199.16 347.7 1194.43 348.45 1187.7 349.2 1178.88 349.95 1168.32 350.7 1156.84 351.45 1145.79 352.2 1136.74 352.95 1131.17 353.7 1129.74 354.45 1131.69 355.2 1137.15 355.95 1145.23 356.7 1154.83 357.45 1164.86 358.2 1174.38 358.95 1182.74 359.7 1189.58 360.45 1194.84 361.2 1198.67 361.95 1201.3 362.7 1203.02 363.45 1204.1 364.2 1204.76 364.95 1205.15 365.7 1205.39 366.45 1205.54 367.2 1205.63 367.95 1205.71 368.7 1205.76 369.45 1205.81 370.2 1205.85 370.95 1205.88 371.7 1205.92 372.45 1205.95 373.2 1205.97 373.95 1205.99 374.7 1206.02 375.45 1206.03 376.2 1206.2 385.2 1206.2 385.95 1206.2 386.7 1206.2 387.45 1206.2 388.2 1206.2 388.95 1206.2 389.7 1206.2 390.45 1206.2 391.2 1206.2 391.95 1206.2 392.7 1206.2 393.45 1206.2 394.2 1206.2 394.95 1206.2 395.7 1206.19 396.45 1206.18 397.2 1206.15 397.95 1206.07 398.7 1205.93 399.45 1205.64 400.2 1205.11 400.95 1204.23 401.7 1202.86 402.45 1200.86 403.2 1198.18 403.95 1194.89 404.7 1191.22 405.45 1187.56 406.2 1184.4 406.95 1182.26 407.7 1181.5 408.45 1181.79 409.2 1183.28 409.95 1185.7 410.7 1188.71 411.45 1191.96 412.2 1195.11 412.95 1197.92 413.7 1200.27 414.45 1202.1 415.2 1203.43 415.95 1204.33 416.7 1204.87 417.45 1205.12 418.2 1205.11 418.95 1204.87 419.7 1204.4 420.45 1203.69 421.2 1202.75 421.95 1201.61 422.7 1200.35 423.45 1199.1 424.2 1197.98 424.95 1197.16 425.7 1196.74 426.45 1196.72 427.2 1197.11 427.95 1197.89 428.7 1198.95 429.45 1200.15 430.2 1201.41 430.95 1202.54 431.7 1203.52 432.45 1204.31 433.2 1204.91 433.95 1205.34 434.7 1205.64 435.45 1205.84 436.2 1205.96 436.95 1206.03 437.7 1206.08 438.45 1206.1 439.2 1206.12 439.95 1206.13 440.7 1206.13 441.45 1206.13 442.2 1206.12 442.95 1206.11 443.7 1206.08 444.45 1206.03 445.2 1205.96 445.95 1205.86 446.7 1205.75 447.45 1205.62 448.2 1205.5 448.95 1205.38 449.7 1205.27 450.45 1205.21 451.2 1205.2 451.95 1205.23 452.7 1205.3 453.45 1205.4 454.2 1205.51 454.95 1205.62 455.7 1205.71 456.45 1205.76 457.2 1205.78 457.95 1205.75 458.7 1205.68 459.45 1205.59 460.2 1205.47 460.95 1205.36 461.7 1205.26 462.45 1205.2 463.2 1205.18 463.95 1205.2 464.7 1205.22 465.45 1205.21 466.2 1205.1 466.95 1204.81 467.7 1204.2 468.45 1203.13 469.2 1201.47 469.95 1199.12 470.7 1196.12 471.45 1192.63 472.2 1189 472.95 1185.68 473.7 1183.2 474.45 1181.98 475.2 1181.95 475.95 1183.04 476.7 1185.16 477.45 1187.97 478.2 1191.12 478.95 1194.28 479.7 1197.18 480.45 1199.66 481.2 1201.64 481.95 1203.12 482.7 1204.17 483.45 1204.88 484.2 1205.33 484.95 1205.59 485.7 1205.72 486.45 1205.75 487.2 1205.68 487.95 1205.5 488.7 1205.2 489.45 1204.74 490.2 1204.1 490.95 1203.28 491.7 1202.3 492.45 1201.24 493.2 1200.18 493.95 1199.26 494.7 1198.58 495.45 1198.26 496.2 1198.26 496.95 1198.66 497.7 1199.33 498.45 1200.22 499.2 1201.23 499.95 1202.24 500.7 1203.19 501.45 1203.99 502.2 1204.65 502.95 1205.14 503.7 1205.49 504.45 1205.72 505.2 1205.84 505.95 1205.87 506.7 1205.79 507.45 1205.56 508.2 1205.15 508.95 1204.47 509.7 1203.48 510.45 1202.13 511.2 1200.46 511.95 1198.59 512.7 1196.7 513.45 1195.06 514.2 1193.92 514.95 1193.48 515.7 1193.6 516.45 1194.33 517.2 1195.55 517.95 1197.1 518.7 1198.77 519.45 1200.39 520.2 1201.86 520.95 1203.08 521.7 1204.05 522.45 1204.76 523.2 1205.26 523.95 1205.59 524.7 1205.8 525.45 1205.92 526.2 1206 526.95 1206.03 527.7 1206.04 528.45 1206.02 529.2 1205.97 529.95 1205.89 530.7 1205.77 531.45 1205.6 532.2 1205.39 532.95 1205.14 533.7 1204.87 534.45 1204.61 535.2 1204.39 535.95 1204.23 536.7 1204.17 537.45 1204.23 538.2 1204.35 538.95 1204.54 539.7 1204.78 540.45 1205.04 541.2 1205.29 541.95 1205.52 542.7 1205.72 543.45 1205.87 544.2 1205.99 544.95 1206.07 545.7 1206.12 546.45 1206.15 547.2 1206.17 547.95 1206.17 548.7 1206.16 549.45 1206.13 550.2 1206.08 550.95 1206 551.7 1205.88 552.45 1205.71 553.2 1205.51 553.95 1205.26 554.7 1204.99 555.45 1204.72 556.2 1204.48 556.95 1204.3 557.7 1204.21 558.45 1204.22 559.2 1204.31 559.95 1204.48 560.7 1204.69 561.45 1204.91 562.2 1205.09 562.95 1205.16 563.7 1205.04 564.45 1204.62 565.2 1203.75 565.95 1202.28 566.7 1200.06 567.45 1197.03 568.2 1193.26 568.95 1189.01 569.7 1184.73 570.45 1180.99 571.2 1178.4 571.95 1177.4 572.7 1177.67 573.45 1179.32 574.2 1182.08 574.95 1185.56 575.7 1189.34 576.45 1193.03 577.2 1196.35 577.95 1199.13 578.7 1201.31 579.45 1202.92 580.2 1204.04 580.95 1204.77 581.7 1205.21 582.45 1205.44 583.2 1205.53 583.95 1205.5 584.7 1205.38 585.45 1205.2 586.2 1204.97 586.95 1204.72 587.7 1204.48 588.45 1204.27 589.2 1204.13 589.95 1204.09 590.7 1204.14 591.45 1204.28 592.2 1204.48 592.95 1204.73 593.7 1204.99 594.45 1205.31 595.2 1205.54 595.95 1205.73 596.7 1205.88 597.45 1205.99 598.2 1206.07 598.95 1206.12 599.7 1206.16 600.45 1206.18 601.2 1206.19 601.95 1206.19 602.7 1206.2 603.45 1206.19 604.2 1206.19 604.95 1206.18 605.7 1206.15 606.45 1206.1 607.2 1206 607.95 1205.84 608.7 1205.58 609.45 1205.19 610.2 1204.63 610.95 1203.89 611.7 1202.96 612.45 1201.9 613.2 1200.78 613.95 1199.7 614.7 1198.8 615.45 1198.21 616.2 1198 616.95 1198.09 617.7 1198.57 618.45 1199.35 619.2 1200.33 619.95 1201.39 620.7 1202.43 621.45 1203.37 622.2 1204.16 622.95 1204.78 623.7 1205.24 624.45 1205.57 625.2 1205.79 625.95 1205.93 626.7 1206.02 627.45 1206.07 628.2 1206.1 628.95 1206.12 629.7 1206.13 630.45 1206.13 631.2 1206.12 631.95 1206.11 632.7 1206.07 633.45 1206.03 634.2 1205.96 634.95 1205.86 635.7 1205.75 636.45 1205.62 637.2 1205.48 637.95 1205.36 638.7 1205.27 639.45 1205.21 640.2 1205.2 640.95 1205.24 641.7 1205.31 642.45 1205.42 643.2 1205.54 643.95 1205.67 644.7 1205.79 645.45 1205.9 646.2 1205.99 646.95 1206.06 647.7 1206.11 648.45 1206.15 649.2 1206.17 649.95 1206.18 650.7 1206.19 651.45 1206.2 652.2 1206.2 652.95 1206.2 653.7 1206.2 654.45 1206.2 655.2 1206.2 655.95 1206.2 656.7 1206.2 657.45 1206.2 658.2 1206.2 658.95 1206.2 659.7 1206.2 660.45 1206.2 661.2 1206.2 661.95 1206.2 662.7 1206.2 663.45 1206.2 664.2 1206.2 664.95 1206.2 665.7 1206.2 666.45 1206.2 667.2 1206.2 667.95 1206.2 668.7 1206.2 669.45 1206.2 670.2 1206.2 670.95 1206.2 671.7 1206.2 672.45 1206.2 673.2 1206.2 673.95 1206.19 674.7 1206.18 675.45 1206.16 676.2 1206.13 676.95 1206.07 677.7 1205.99 678.45 1205.87 679.2 1205.7 679.95 1205.49 680.7 1205.24 681.45 1204.97 682.2 1204.7 682.95 1204.46 683.7 1204.29 684.45 1204.21 685.2 1204.22 685.95 1204.32 686.7 1204.5 687.45 1204.73 688.2 1204.98 688.95 1205.24 689.7 1205.47 690.45 1205.65 691.2 1205.79 691.95 1205.86 692.7 1205.86 693.45 1205.78 694.2 1205.61 694.95 1205.33 695.7 1204.95 696.45 1204.45 697.2 1203.88 697.95 1203.26 698.7 1202.67 699.45 1202.17 700.2 1201.83 700.95 1201.7 701.7 1201.79 702.45 1202.07 703.2 1202.51 703.95 1203.05 704.7 1203.63 705.45 1204.19 706.2 1204.71 706.95 1205.14 707.7 1205.48 708.45 1205.73 709.2 1205.91 709.95 1206.03 710.7 1206.1 711.45 1206.15 712.2 1206.17 712.95 1206.19 713.7 1206.19 714.45 1206.2 715.2 1206.2 715.95 1206.2 716.7 1206.2 717.45 1206.2 718.2 1206.2 718.95 1206.2 719.7 1206.2 720.45 1206.2 721.2 1206.2 721.95 1206.2 722.7 1206.2 723.45 1206.2 724.2 1206.2 724.95 1206.2 725.7 1206.2 726.45 1206.2 727.2 1206.2 727.95 1206.2 728.7 1206.2 729.45 1206.2 730.2 1206.2 730.95 1206.2 731.7 1206.2 732.45 1206.19 733.2 1206.19 733.95 1206.18 734.7 1206.16 735.45 1206.13 736.2 1206.08 736.95 1206.01 737.7 1205.92 738.45 1205.81 739.2 1205.68 739.95 1205.55 740.7 1205.42 741.45 1205.3 742.2 1205.23 742.95 1205.2 743.7 1205.22 744.45 1205.28 745.2 1205.38 745.95 1205.5 746.7 1205.63 747.45 1205.75 748.2 1205.87 748.95 1205.96 749.7 1206.04 750.45 1206.1 751.2 1206.14 751.95 1206.16 752.7 1206.18 753.45 1206.19 754.2 1206.19 754.95 1206.2 755.7 1206.2 756.45 1206.2 757.2 1206.2 757.95 1206.2 758.7 1206.2 759.45 1206.2 760.2 1206.2 760.95 1206.2 761.7 1206.2 762.45 1206.2 763.2 1206.2 763.95 1206.2 764.7 1206.2 765.45 1206.2 766.2 1206.2 766.95 1206.19 767.7 1206.18 768.45 1206.17 769.2 1206.14 769.95 1206.1 770.7 1206.03 771.45 1205.92 772.2 1205.77 772.95 1205.58 773.7 1205.34 774.45 1205.08 775.2 1204.8 775.95 1204.55 776.7 1204.35 777.45 1204.23 778.2 1204.2 778.95 1204.27 779.7 1204.42 780.45 1204.63 781.2 1204.88 781.95 1205.14 782.7 1205.39 783.45 1205.61 784.2 1205.78 784.95 1205.92 785.7 1206.02 786.45 1206.09 787.2 1206.14 787.95 1206.16 788.7 1206.18 789.45 1206.19 790.2 1206.2 790.95 1206.2 791.7 1206.2 792.45 1206.2 793.2 1206.2 793.95 1206.2 794.7 1206.2 795.45 1206.2 796.2 1206.2 796.95 1206.2 797.7 1206.2 798.45 1206.2 799.2 1206.2 799.95 1206.2 800.7 1206.2 1083.45 1206.2 1084.2 1206.2 1084.95 1206.2 1085.7 1206.2 1086.45 1206.2 1087.2 1206.2 1087.95 1206.2 1088.7 1206.2 1089.45 1206.2 1090.2 1206.2 1090.95 1206.2 1091.7 1206.2 1092.45 1206.2 1093.2 1206.2 1093.95 1206.2 1094.7 1206.2 1095.45 1206.2 1096.2 1206.19 1096.95 1206.19 1097.7 1206.18 1098.45 1206.16 1099.2 1206.14 1099.95 1206.11 1100.7 1206.06 1101.45 1206.01 1102.2 1205.94 1102.95 1205.87 1103.7 1205.81 1104.45 1205.75 1105.2 1205.71 1105.95 1205.7 1106.7 1205.71 1107.45 1205.74 1108.2 1205.79 1108.95 1205.85 1109.7 1205.91 1110.45 1205.98 1111.2 1206.03 1111.95 1206.08 1112.7 1206.12 1113.45 1206.15 1114.2 1206.17 1114.95 1206.18 1115.7 1206.19 1116.45 1206.19 1117.2 1206.2 1117.95 1206.2 1118.7 1206.2 1119.45 1206.2 1120.2 1206.2 1120.95 1206.2 1121.7 1206.2 1122.45 1206.2 1123.2 1206.2 1123.95 1206.2 1124.7 1206.2 1125.45 1206.2 1126.2 1206.2 1126.95 1206.2 1127.7 1206.2 1128.45 1206.2 1140.45 1206.2 1141.2 1206.2 1141.95 1206.2 1142.7 1206.2 1143.45 1206.2 1144.2 1206.2 1144.95 1206.2 1145.7 1206.2 1146.45 1206.2 1147.2 1206.2 1147.95 1206.2 1148.7 1206.2 1149.45 1206.2 1150.2 1206.2 1150.95 1206.2 1151.7 1206.2 1152.45 1206.2 1153.2 1206.19 1153.95 1206.19 1154.7 1206.18 1155.45 1206.16 1156.2 1206.14 1156.95 1206.11 1157.7 1206.06 1158.45 1206.01 1159.2 1205.94 1159.95 1205.87 1160.7 1205.81 1161.45 1205.75 1162.2 1205.71 1162.95 1205.7 1163.7 1205.71 1164.45 1205.74 1165.2 1205.79 1165.95 1205.85 1166.7 1205.91 1167.45 1205.98 1168.2 1206.03 1168.95 1206.08 1169.7 1206.12 1170.45 1206.15 1171.2 1206.17 1171.95 1206.18 1172.7 1206.19 1173.45 1206.19 1174.2 1206.2 1174.95 1206.2 1175.7 1206.2 1176.45 1206.2 1177.2 1206.2 1177.95 1206.2 1178.7 1206.2 1179.45 1206.2 1180.2 1206.2 1180.95 1206.2 1181.7 1206.2 1182.45 1206.2 1183.2 1206.2 1183.95 1206.2 1184.7 1206.2 1185.45 1206.2 1387.95 1206.2" fill="none" stroke="#111" stroke-width="2" stroke-linejoin="round"/>
<g class="tk"><text x="114.2" y="1223">6</text><text x="171.15" y="1223">7</text><text x="228.1" y="1223">8</text><text x="285.05" y="1223">9</text><text x="342" y="1223">10</text><text x="398.95" y="1223">11</text><text x="455.9" y="1223">12</text><text x="512.85" y="1223">13</text><text x="569.8" y="1223">14</text><text x="626.75" y="1223">15</text><text x="683.7" y="1223">16</text><text x="740.65" y="1223">17</text><text x="797.6" y="1223">18</text><text x="854.55" y="1223">19</text><text x="911.5" y="1223">20</text><text x="968.45" y="1223">21</text><text x="1025.4" y="1223">22</text><text x="1082.35" y="1223">23</text><text x="1139.3" y="1223">24</text><text x="1196.25" y="1223">25</text><text x="1253.2" y="1223">26</text><text x="1310.15" y="1223">27</text><text x="1367.1" y="1223">28</text></g>
<path d="M64.2 1313.2H1388.5" stroke="#444" stroke-width="1.1" fill="none"/>
<path d="M108.5 1313.2v3.3M165.45 1313.2v3.3M222.4 1313.2v3.3M279.35 1313.2v3.3M336.3 1313.2v3.3M393.25 1313.2v3.3M450.2 1313.2v3.3M507.15 1313.2v3.3M564.1 1313.2v3.3M621.05 1313.2v3.3M678 1313.2v3.3M734.95 1313.2v3.3M791.9 1313.2v3.3M848.85 1313.2v3.3M905.8 1313.2v3.3M962.75 1313.2v3.3M1019.7 1313.2v3.3M1076.65 1313.2v3.3M1133.6 1313.2v3.3M1190.55 1313.2v3.3M1247.5 1313.2v3.3M1304.45 1313.2v3.3M1361.4 1313.2v3.3" stroke="#666" stroke-width="1" fill="none"/>
<path d="M74.33 1313.2v1.9M85.72 1313.2v1.9M97.11 1313.2v1.9M119.89 1313.2v1.9M131.28 1313.2v1.9M142.67 1313.2v1.9M154.06 1313.2v1.9M176.84 1313.2v1.9M188.23 1313.2v1.9M199.62 1313.2v1.9M211.01 1313.2v1.9M233.79 1313.2v1.9M245.18 1313.2v1.9M256.57 1313.2v1.9M267.96 1313.2v1.9M290.74 1313.2v1.9M302.13 1313.2v1.9M313.52 1313.2v1.9M324.91 1313.2v1.9M347.69 1313.2v1.9M359.08 1313.2v1.9M370.47 1313.2v1.9M381.86 1313.2v1.9M404.64 1313.2v1.9M416.03 1313.2v1.9M427.42 1313.2v1.9M438.81 1313.2v1.9M461.59 1313.2v1.9M472.98 1313.2v1.9M484.37 1313.2v1.9M495.76 1313.2v1.9M518.54 1313.2v1.9M529.93 1313.2v1.9M541.32 1313.2v1.9M552.71 1313.2v1.9M575.49 1313.2v1.9M586.88 1313.2v1.9M598.27 1313.2v1.9M609.66 1313.2v1.9M632.44 1313.2v1.9M643.83 1313.2v1.9M655.22 1313.2v1.9M666.61 1313.2v1.9M689.39 1313.2v1.9M700.78 1313.2v1.9M712.17 1313.2v1.9M723.56 1313.2v1.9M746.34 1313.2v1.9M757.73 1313.2v1.9M769.12 1313.2v1.9M780.51 1313.2v1.9M803.29 1313.2v1.9M814.68 1313.2v1.9M826.07 1313.2v1.9M837.46 1313.2v1.9M860.24 1313.2v1.9M871.63 1313.2v1.9M883.02 1313.2v1.9M894.41 1313.2v1.9M917.19 1313.2v1.9M928.58 1313.2v1.9M939.97 1313.2v1.9M951.36 1313.2v1.9M974.14 1313.2v1.9M985.53 1313.2v1.9M996.92 1313.2v1.9M1008.31 1313.2v1.9M1031.09 1313.2v1.9M1042.48 1313.2v1.9M1053.87 1313.2v1.9M1065.26 1313.2v1.9M1088.04 1313.2v1.9M1099.43 1313.2v1.9M1110.82 1313.2v1.9M1122.21 1313.2v1.9M1144.99 1313.2v1.9M1156.38 1313.2v1.9M1167.77 1313.2v1.9M1179.16 1313.2v1.9M1201.94 1313.2v1.9M1213.33 1313.2v1.9M1224.72 1313.2v1.9M1236.11 1313.2v1.9M1258.89 1313.2v1.9M1270.28 1313.2v1.9M1281.67 1313.2v1.9M1293.06 1313.2v1.9M1315.84 1313.2v1.9M1327.23 1313.2v1.9M1338.62 1313.2v1.9M1350.01 1313.2v1.9M1372.79 1313.2v1.9M1384.18 1313.2v1.9" stroke="#888" stroke-width="0.9" fill="none"/>
<path d="M64.2 1311 159.45 1311 160.2 1311 160.95 1311 161.7 1311 162.45 1311 163.2 1311 163.95 1311 164.7 1311 165.45 1311 166.2 1311 166.95 1311 167.7 1311 168.45 1311 169.2 1311 169.95 1311 170.7 1311 171.45 1311 172.2 1310.99 172.95 1310.98 173.7 1310.97 174.45 1310.94 175.2 1310.9 175.95 1310.85 176.7 1310.78 177.45 1310.69 178.2 1310.59 178.95 1310.48 179.7 1310.37 180.45 1310.28 181.2 1310.22 181.95 1310.2 182.7 1310.22 183.45 1310.27 184.2 1310.34 184.95 1310.44 185.7 1310.54 186.45 1310.64 187.2 1310.73 187.95 1310.81 188.7 1310.87 189.45 1310.92 190.2 1310.95 190.95 1310.97 191.7 1310.98 192.45 1310.99 193.2 1311 193.95 1311 194.7 1311 195.45 1311 196.2 1311 196.95 1311 197.7 1311 198.45 1311 199.2 1311 199.95 1310.99 200.7 1310.98 201.45 1310.97 202.2 1310.94 202.95 1310.9 203.7 1310.84 204.45 1310.76 205.2 1310.65 205.95 1310.53 206.7 1310.39 207.45 1310.26 208.2 1310.14 208.95 1310.05 209.7 1310 210.45 1310.01 211.2 1310.06 211.95 1310.14 212.7 1310.26 213.45 1310.38 214.2 1310.51 214.95 1310.63 215.7 1310.73 216.45 1310.82 217.2 1310.88 217.95 1310.92 218.7 1310.95 219.45 1310.97 220.2 1310.99 220.95 1310.99 221.7 1311 222.45 1311 223.2 1311 223.95 1311 224.7 1311 225.45 1311 226.2 1311 226.95 1311 227.7 1311 228.45 1311 229.2 1311 229.95 1311 230.7 1311 231.45 1311 232.2 1311 242.7 1311 243.45 1311 244.2 1311 244.95 1311 245.7 1311 246.45 1311 247.2 1311 247.95 1311 248.7 1311 249.45 1311 250.2 1311 250.95 1311 251.7 1311 252.45 1311 253.2 1311 253.95 1310.99 254.7 1310.99 255.45 1310.98 256.2 1310.96 256.95 1310.92 257.7 1310.87 258.45 1310.79 259.2 1310.68 259.95 1310.53 260.7 1310.36 261.45 1310.16 262.2 1309.95 262.95 1309.76 263.7 1309.61 264.45 1309.52 265.2 1309.5 265.95 1309.55 266.7 1309.67 267.45 1309.83 268.2 1310.01 268.95 1310.2 269.7 1310.38 270.45 1310.54 271.2 1310.66 271.95 1310.74 272.7 1310.78 273.45 1310.78 274.2 1310.74 274.95 1310.66 275.7 1310.56 276.45 1310.43 277.2 1310.3 277.95 1310.17 278.7 1310.07 279.45 1310.01 280.2 1310 280.95 1310.03 281.7 1310.11 282.45 1310.21 283.2 1310.33 283.95 1310.44 284.7 1310.54 285.45 1310.61 286.2 1310.63 286.95 1310.61 287.7 1310.54 288.45 1310.41 289.2 1310.25 289.95 1310.06 290.7 1309.86 291.45 1309.69 292.2 1309.57 292.95 1309.5 293.7 1309.51 294.45 1309.59 295.2 1309.73 295.95 1309.9 296.7 1310.09 297.45 1310.28 298.2 1310.46 298.95 1310.61 299.7 1310.73 300.45 1310.82 301.2 1310.89 301.95 1310.93 302.7 1310.96 303.45 1310.98 304.2 1310.99 304.95 1310.99 305.7 1311 306.45 1311 307.2 1311 307.95 1311 308.7 1311 309.45 1311 310.2 1311 310.95 1311 311.7 1311 312.45 1311 313.2 1311 313.95 1311 314.7 1311 315.45 1311 322.2 1311 322.95 1311 323.7 1311 324.45 1311 325.2 1311 325.95 1311 326.7 1311 327.45 1311 328.2 1311 328.95 1311 329.7 1311 330.45 1311 331.2 1311 331.95 1311 332.7 1311 333.45 1310.99 334.2 1310.98 334.95 1310.94 335.7 1310.87 336.45 1310.74 337.2 1310.49 337.95 1310.06 338.7 1309.37 339.45 1308.35 340.2 1306.96 340.95 1305.2 341.7 1303.19 342.45 1301.11 343.2 1299.25 343.95 1297.87 344.7 1297.23 345.45 1297.25 346.2 1297.91 346.95 1299.15 347.7 1300.76 348.45 1302.56 349.2 1304.35 349.95 1305.98 350.7 1307.37 351.45 1308.47 352.2 1309.3 352.95 1309.88 353.7 1310.28 354.45 1310.53 355.2 1310.68 355.95 1310.78 356.7 1310.83 357.45 1310.87 358.2 1310.89 358.95 1310.9 359.7 1310.92 360.45 1310.92 361.2 1310.93 361.95 1310.94 362.7 1310.95 363.45 1310.95 364.2 1310.96 364.95 1310.96 365.7 1310.96 366.45 1310.97 367.2 1311 378.45 1311 379.2 1311 379.95 1311 380.7 1311 381.45 1311 382.2 1311 382.95 1311 383.7 1311 384.45 1311 385.2 1311 385.95 1311 386.7 1311 387.45 1311 388.2 1311 388.95 1310.99 389.7 1310.99 390.45 1310.97 391.2 1310.94 391.95 1310.88 392.7 1310.78 393.45 1310.62 394.2 1310.38 394.95 1310.03 395.7 1309.57 396.45 1308.99 397.2 1308.32 397.95 1307.61 398.7 1306.92 399.45 1306.34 400.2 1305.95 400.95 1305.8 401.7 1305.9 402.45 1306.23 403.2 1306.73 403.95 1307.35 404.7 1308.02 405.45 1308.68 406.2 1309.26 406.95 1309.74 407.7 1310.1 408.45 1310.32 409.2 1310.39 409.95 1310.31 410.7 1310.04 411.45 1309.56 412.2 1308.82 412.95 1307.83 413.7 1306.57 414.45 1305.12 415.2 1303.59 415.95 1302.12 416.7 1300.9 417.45 1300.09 418.2 1299.8 418.95 1299.92 419.7 1300.58 420.45 1301.65 421.2 1302.99 421.95 1304.44 422.7 1305.85 423.45 1307.13 424.2 1308.21 424.95 1309.06 425.7 1309.69 426.45 1310.14 427.2 1310.44 427.95 1310.63 428.7 1310.75 429.45 1310.83 430.2 1310.87 430.95 1310.9 431.7 1310.91 432.45 1310.92 433.2 1310.93 433.95 1310.94 434.7 1310.94 435.45 1310.94 436.2 1310.93 436.95 1310.91 437.7 1310.88 438.45 1310.83 439.2 1310.76 439.95 1310.66 440.7 1310.57 441.45 1310.44 442.2 1310.3 442.95 1310.18 443.7 1310.07 444.45 1310.01 445.2 1310 445.95 1310.03 446.7 1310.1 447.45 1310.2 448.2 1310.31 448.95 1310.42 449.7 1310.51 450.45 1310.56 451.2 1310.58 451.95 1310.55 452.7 1310.48 453.45 1310.39 454.2 1310.27 454.95 1310.16 455.7 1310.06 456.45 1310.01 457.2 1310 457.95 1310.03 458.7 1310.1 459.45 1310.19 460.2 1310.28 460.95 1310.35 461.7 1310.38 462.45 1310.32 463.2 1310.16 463.95 1309.86 464.7 1309.41 465.45 1308.82 466.2 1308.09 466.95 1307.29 467.7 1306.49 468.45 1305.78 469.2 1305.27 469.95 1305.02 470.7 1305.06 471.45 1305.37 472.2 1305.9 472.95 1306.59 473.7 1307.36 474.45 1308.13 475.2 1308.84 475.95 1309.44 476.7 1309.93 477.45 1310.3 478.2 1310.56 478.95 1310.74 479.7 1310.85 480.45 1310.92 481.2 1310.95 481.95 1310.97 482.7 1310.98 483.45 1310.97 484.2 1310.95 484.95 1310.92 485.7 1310.86 486.45 1310.76 487.2 1310.62 487.95 1310.44 488.7 1310.2 489.45 1309.93 490.2 1309.63 490.95 1309.33 491.7 1309.07 492.45 1308.89 493.2 1308.8 493.95 1308.83 494.7 1308.95 495.45 1309.15 496.2 1309.4 496.95 1309.68 497.7 1309.97 498.45 1310.22 499.2 1310.44 499.95 1310.61 500.7 1310.74 501.45 1310.82 502.2 1310.86 502.95 1310.86 503.7 1310.81 504.45 1310.71 505.2 1310.55 505.95 1310.31 506.7 1309.98 507.45 1309.57 508.2 1309.09 508.95 1308.59 509.7 1308.1 510.45 1307.69 511.2 1307.41 511.95 1307.3 512.7 1307.37 513.45 1307.6 514.2 1307.96 514.95 1308.41 515.7 1308.88 516.45 1309.35 517.2 1309.77 517.95 1310.13 518.7 1310.41 519.45 1310.62 520.2 1310.76 520.95 1310.86 521.7 1310.92 522.45 1310.96 523.2 1310.97 523.95 1310.98 524.7 1310.98 525.45 1310.96 526.2 1310.94 526.95 1310.89 527.7 1310.81 528.45 1310.69 529.2 1310.53 529.95 1310.32 530.7 1310.06 531.45 1309.77 532.2 1309.47 532.95 1309.19 533.7 1308.96 534.45 1308.83 535.2 1308.8 535.95 1308.88 536.7 1309.04 537.45 1309.28 538.2 1309.55 538.95 1309.84 539.7 1310.11 540.45 1310.35 541.2 1310.54 541.95 1310.69 542.7 1310.8 543.45 1310.88 544.2 1310.93 544.95 1310.95 545.7 1310.96 546.45 1310.94 547.2 1310.91 547.95 1310.83 548.7 1310.72 549.45 1310.54 550.2 1310.28 550.95 1309.93 551.7 1309.49 552.45 1308.97 553.2 1308.43 553.95 1307.9 554.7 1307.44 555.45 1307.13 556.2 1307 556.95 1307.05 557.7 1307.27 558.45 1307.59 559.2 1307.93 559.95 1308.14 560.7 1308.05 561.45 1307.37 562.2 1305.75 562.95 1302.78 563.7 1298.02 564.45 1291.18 565.2 1282.21 565.95 1271.52 566.7 1260.06 567.45 1249.2 568.2 1240.55 568.95 1235.55 569.7 1234.57 570.45 1237.03 571.2 1242.89 571.95 1251.24 572.7 1260.97 573.45 1270.98 574.2 1280.37 574.95 1288.54 575.7 1295.17 576.45 1300.23 577.2 1303.88 577.95 1306.37 578.7 1307.99 579.45 1308.99 580.2 1309.58 580.95 1309.92 581.7 1310.08 582.45 1310.14 583.2 1310.13 583.95 1310.05 584.7 1309.93 585.45 1309.77 586.2 1309.61 586.95 1309.45 587.7 1309.33 588.45 1309.27 589.2 1309.28 589.95 1309.35 590.7 1309.48 591.45 1309.83 592.2 1310.01 592.95 1310.21 593.7 1310.39 594.45 1310.55 595.2 1310.69 595.95 1310.79 596.7 1310.87 597.45 1310.92 598.2 1310.95 598.95 1310.97 599.7 1310.99 600.45 1310.99 601.2 1310.99 601.95 1310.99 602.7 1310.98 603.45 1310.96 604.2 1310.92 604.95 1310.85 605.7 1310.73 606.45 1310.52 607.2 1310.19 607.95 1309.71 608.7 1309.06 609.45 1308.22 610.2 1307.21 610.95 1306.1 611.7 1304.99 612.45 1303.99 613.2 1303.24 613.95 1302.85 614.7 1302.8 615.45 1303.1 616.2 1303.76 616.95 1304.66 617.7 1305.7 618.45 1306.76 619.2 1307.75 619.95 1308.61 620.7 1309.31 621.45 1309.84 622.2 1310.23 622.95 1310.5 623.7 1310.67 624.45 1310.78 625.2 1310.85 625.95 1310.89 626.7 1310.92 627.45 1310.93 628.2 1310.94 628.95 1310.95 629.7 1310.95 630.45 1310.96 631.2 1310.96 631.95 1310.97 632.7 1310.97 633.45 1310.97 634.2 1310.98 634.95 1310.98 635.7 1310.98 636.45 1311 661.2 1311 661.95 1311 662.7 1311 663.45 1311 664.2 1311 664.95 1311 665.7 1311 666.45 1311 667.2 1311 667.95 1311 668.7 1311 669.45 1311 670.2 1311 670.95 1311 671.7 1310.99 672.45 1310.99 673.2 1310.97 673.95 1310.95 674.7 1310.9 675.45 1310.83 676.2 1310.71 676.95 1310.53 677.7 1310.27 678.45 1309.95 679.2 1309.55 679.95 1309.09 680.7 1308.63 681.45 1308.2 682.2 1307.85 682.95 1307.65 683.7 1307.61 684.45 1307.72 685.2 1307.98 685.95 1308.34 686.7 1308.76 687.45 1309.2 688.2 1309.61 688.95 1309.98 689.7 1310.26 690.45 1310.47 691.2 1310.58 691.95 1310.58 692.7 1310.47 693.45 1310.21 694.2 1309.77 694.95 1309.12 695.7 1308.24 696.45 1307.13 697.2 1305.85 697.95 1304.48 698.7 1303.16 699.45 1302.04 700.2 1301.29 700.95 1301 701.7 1301.09 702.45 1301.64 703.2 1302.58 703.95 1303.76 704.7 1305.05 705.45 1306.32 706.2 1307.48 706.95 1308.45 707.7 1309.22 708.45 1309.8 709.2 1310.21 709.95 1310.48 710.7 1310.66 711.45 1310.77 712.2 1310.84 712.95 1310.88 713.7 1310.91 714.45 1310.92 715.2 1310.93 715.95 1310.94 716.7 1310.95 717.45 1310.95 718.2 1310.96 718.95 1310.96 719.7 1310.97 720.45 1310.97 721.2 1310.97 721.95 1310.97 722.7 1310.98 723.45 1311 724.2 1311 724.95 1311 725.7 1311 726.45 1311 727.2 1311 727.95 1311 728.7 1311 729.45 1311 730.2 1311 730.95 1311 731.7 1311 732.45 1311 733.2 1310.99 733.95 1310.98 734.7 1310.96 735.45 1310.93 736.2 1310.89 736.95 1310.82 737.7 1310.73 738.45 1310.61 739.2 1310.47 739.95 1310.31 740.7 1310.14 741.45 1309.99 742.2 1309.88 742.95 1309.81 743.7 1309.8 744.45 1309.85 745.2 1309.95 745.95 1310.08 746.7 1310.23 747.45 1310.39 748.2 1310.53 748.95 1310.66 749.7 1310.76 750.45 1310.84 751.2 1310.9 751.95 1310.94 752.7 1310.96 753.45 1310.98 754.2 1310.99 754.95 1310.99 755.7 1311 756.45 1311 757.2 1311 757.95 1311 758.7 1311 759.45 1311 760.2 1311 760.95 1311 761.7 1311 762.45 1311 763.2 1311 763.95 1311 764.7 1311 765.45 1311 766.2 1311 766.95 1311 767.7 1311 768.45 1310.99 769.2 1310.98 769.95 1310.96 770.7 1310.93 771.45 1310.87 772.2 1310.77 772.95 1310.63 773.7 1310.43 774.45 1310.15 775.2 1309.82 775.95 1309.43 776.7 1309.02 777.45 1308.62 778.2 1308.29 778.95 1308.08 779.7 1308 780.45 1308.07 781.2 1308.26 781.95 1308.56 782.7 1308.92 783.45 1309.31 784.2 1309.69 784.95 1310.03 785.7 1310.31 786.45 1310.53 787.2 1310.7 787.95 1310.81 788.7 1310.89 789.45 1310.94 790.2 1310.97 790.95 1310.98 791.7 1310.99 792.45 1311 793.2 1311 793.95 1311 794.7 1311 795.45 1311 796.2 1311 796.95 1311 797.7 1311 798.45 1311 799.2 1311 799.95 1311 800.7 1311 801.45 1311 802.2 1311 1032.45 1311 1033.2 1311 1033.95 1311 1034.7 1311 1035.45 1311 1036.2 1311 1036.95 1311 1037.7 1311 1038.45 1311 1039.2 1311 1039.95 1311 1040.7 1311 1041.45 1311 1042.2 1311 1042.95 1311 1043.7 1311 1044.45 1311 1045.2 1311 1045.95 1310.99 1046.7 1310.98 1047.45 1310.97 1048.2 1310.95 1048.95 1310.93 1049.7 1310.89 1050.45 1310.85 1051.2 1310.79 1051.95 1310.74 1052.7 1310.69 1053.45 1310.64 1054.2 1310.61 1054.95 1310.6 1055.7 1310.61 1056.45 1310.63 1057.2 1310.67 1057.95 1310.72 1058.7 1310.77 1059.45 1310.82 1060.2 1310.87 1060.95 1310.91 1061.7 1310.94 1062.45 1310.96 1063.2 1310.97 1063.95 1310.98 1064.7 1310.99 1065.45 1311 1066.2 1311 1066.95 1311 1067.7 1311 1068.45 1311 1069.2 1311 1069.95 1311 1070.7 1311 1071.45 1311 1072.2 1311 1072.95 1311 1073.7 1311 1074.45 1311 1075.2 1311 1075.95 1311 1076.7 1311 1077.45 1311 1085.7 1311 1086.45 1311 1087.2 1311 1087.95 1311 1088.7 1311 1089.45 1311 1090.2 1311 1090.95 1311 1091.7 1311 1092.45 1311 1093.2 1311 1093.95 1311 1094.7 1311 1095.45 1311 1096.2 1311 1096.95 1311 1097.7 1311 1098.45 1310.99 1099.2 1310.98 1099.95 1310.97 1100.7 1310.95 1101.45 1310.92 1102.2 1310.87 1102.95 1310.81 1103.7 1310.74 1104.45 1310.66 1105.2 1310.58 1105.95 1310.51 1106.7 1310.44 1107.45 1310.41 1108.2 1310.4 1108.95 1310.42 1109.7 1310.47 1110.45 1310.53 1111.2 1310.6 1111.95 1310.68 1112.7 1310.76 1113.45 1310.82 1114.2 1310.88 1114.95 1310.92 1115.7 1310.95 1116.45 1310.97 1117.2 1310.98 1117.95 1310.99 1118.7 1310.99 1119.45 1311 1120.2 1311 1120.95 1311 1121.7 1311 1122.45 1311 1123.2 1311 1123.95 1311 1124.7 1311 1125.45 1311 1126.2 1311 1126.95 1311 1127.7 1311 1128.45 1311 1129.2 1311 1129.95 1311 1130.7 1311 1142.7 1311 1143.45 1311 1144.2 1311 1144.95 1311 1145.7 1311 1146.45 1311 1147.2 1311 1147.95 1311 1148.7 1311 1149.45 1311 1150.2 1311 1150.95 1311 1151.7 1311 1152.45 1311 1153.2 1311 1153.95 1311 1154.7 1311 1155.45 1310.99 1156.2 1310.98 1156.95 1310.97 1157.7 1310.95 1158.45 1310.92 1159.2 1310.87 1159.95 1310.81 1160.7 1310.74 1161.45 1310.66 1162.2 1310.58 1162.95 1310.51 1163.7 1310.44 1164.45 1310.41 1165.2 1310.4 1165.95 1310.42 1166.7 1310.47 1167.45 1310.53 1168.2 1310.6 1168.95 1310.68 1169.7 1310.76 1170.45 1310.82 1171.2 1310.88 1171.95 1310.92 1172.7 1310.95 1173.45 1310.97 1174.2 1310.98 1174.95 1310.99 1175.7 1310.99 1176.45 1311 1177.2 1311 1177.95 1311 1178.7 1311 1179.45 1311 1180.2 1311 1180.95 1311 1181.7 1311 1182.45 1311 1183.2 1311 1183.95 1311 1184.7 1311 1185.45 1311 1186.2 1311 1186.95 1311 1187.7 1311 1387.95 1311" fill="none" stroke="#111" stroke-width="2" stroke-linejoin="round"/>
<g class="tk"><text x="107" y="1327.8">6</text><text x="163.95" y="1327.8">7</text><text x="220.9" y="1327.8">8</text><text x="277.85" y="1327.8">9</text><text x="334.8" y="1327.8">10</text><text x="391.75" y="1327.8">11</text><text x="448.7" y="1327.8">12</text><text x="505.65" y="1327.8">13</text><text x="562.6" y="1327.8">14</text><text x="619.55" y="1327.8">15</text><text x="676.5" y="1327.8">16</text><text x="733.45" y="1327.8">17</text><text x="790.4" y="1327.8">18</text><text x="847.35" y="1327.8">19</text><text x="904.3" y="1327.8">20</text><text x="961.25" y="1327.8">21</text><text x="1018.2" y="1327.8">22</text><text x="1075.15" y="1327.8">23</text><text x="1132.1" y="1327.8">24</text><text x="1189.05" y="1327.8">25</text><text x="1246" y="1327.8">26</text><text x="1302.95" y="1327.8">27</text><text x="1359.9" y="1327.8">28</text></g>
<path d="M64.2 1420.5H1388.5" stroke="#444" stroke-width="1.1" fill="none"/>
<path d="M108.5 1420.5v3.3M165.45 1420.5v3.3M222.4 1420.5v3.3M279.35 1420.5v3.3M336.3 1420.5v3.3M393.25 1420.5v3.3M450.2 1420.5v3.3M507.15 1420.5v3.3M564.1 1420.5v3.3M621.05 1420.5v3.3M678 1420.5v3.3M734.95 1420.5v3.3M791.9 1420.5v3.3M848.85 1420.5v3.3M905.8 1420.5v3.3M962.75 1420.5v3.3M1019.7 1420.5v3.3M1076.65 1420.5v3.3M1133.6 1420.5v3.3M1190.55 1420.5v3.3M1247.5 1420.5v3.3M1304.45 1420.5v3.3M1361.4 1420.5v3.3" stroke="#666" stroke-width="1" fill="none"/>
<path d="M74.33 1420.5v1.9M85.72 1420.5v1.9M97.11 1420.5v1.9M119.89 1420.5v1.9M131.28 1420.5v1.9M142.67 1420.5v1.9M154.06 1420.5v1.9M176.84 1420.5v1.9M188.23 1420.5v1.9M199.62 1420.5v1.9M211.01 1420.5v1.9M233.79 1420.5v1.9M245.18 1420.5v1.9M256.57 1420.5v1.9M267.96 1420.5v1.9M290.74 1420.5v1.9M302.13 1420.5v1.9M313.52 1420.5v1.9M324.91 1420.5v1.9M347.69 1420.5v1.9M359.08 1420.5v1.9M370.47 1420.5v1.9M381.86 1420.5v1.9M404.64 1420.5v1.9M416.03 1420.5v1.9M427.42 1420.5v1.9M438.81 1420.5v1.9M461.59 1420.5v1.9M472.98 1420.5v1.9M484.37 1420.5v1.9M495.76 1420.5v1.9M518.54 1420.5v1.9M529.93 1420.5v1.9M541.32 1420.5v1.9M552.71 1420.5v1.9M575.49 1420.5v1.9M586.88 1420.5v1.9M598.27 1420.5v1.9M609.66 1420.5v1.9M632.44 1420.5v1.9M643.83 1420.5v1.9M655.22 1420.5v1.9M666.61 1420.5v1.9M689.39 1420.5v1.9M700.78 1420.5v1.9M712.17 1420.5v1.9M723.56 1420.5v1.9M746.34 1420.5v1.9M757.73 1420.5v1.9M769.12 1420.5v1.9M780.51 1420.5v1.9M803.29 1420.5v1.9M814.68 1420.5v1.9M826.07 1420.5v1.9M837.46 1420.5v1.9M860.24 1420.5v1.9M871.63 1420.5v1.9M883.02 1420.5v1.9M894.41 1420.5v1.9M917.19 1420.5v1.9M928.58 1420.5v1.9M939.97 1420.5v1.9M951.36 1420.5v1.9M974.14 1420.5v1.9M985.53 1420.5v1.9M996.92 1420.5v1.9M1008.31 1420.5v1.9M1031.09 1420.5v1.9M1042.48 1420.5v1.9M1053.87 1420.5v1.9M1065.26 1420.5v1.9M1088.04 1420.5v1.9M1099.43 1420.5v1.9M1110.82 1420.5v1.9M1122.21 1420.5v1.9M1144.99 1420.5v1.9M1156.38 1420.5v1.9M1167.77 1420.5v1.9M1179.16 1420.5v1.9M1201.94 1420.5v1.9M1213.33 1420.5v1.9M1224.72 1420.5v1.9M1236.11 1420.5v1.9M1258.89 1420.5v1.9M1270.28 1420.5v1.9M1281.67 1420.5v1.9M1293.06 1420.5v1.9M1315.84 1420.5v1.9M1327.23 1420.5v1.9M1338.62 1420.5v1.9M1350.01 1420.5v1.9M1372.79 1420.5v1.9M1384.18 1420.5v1.9" stroke="#888" stroke-width="0.9" fill="none"/>
<path d="M64.2 1418.3 159.45 1418.3 160.2 1418.3 160.95 1418.3 161.7 1418.3 162.45 1418.3 163.2 1418.3 163.95 1418.3 164.7 1418.3 165.45 1418.3 166.2 1418.3 166.95 1418.3 167.7 1418.3 168.45 1418.3 169.2 1418.3 169.95 1418.3 170.7 1418.3 171.45 1418.3 172.2 1418.29 172.95 1418.28 173.7 1418.27 174.45 1418.24 175.2 1418.2 175.95 1418.15 176.7 1418.08 177.45 1417.99 178.2 1417.89 178.95 1417.78 179.7 1417.67 180.45 1417.58 181.2 1417.52 181.95 1417.5 182.7 1417.52 183.45 1417.57 184.2 1417.64 184.95 1417.74 185.7 1417.84 186.45 1417.94 187.2 1418.03 187.95 1418.11 188.7 1418.17 189.45 1418.22 190.2 1418.25 190.95 1418.27 191.7 1418.28 192.45 1418.29 193.2 1418.3 193.95 1418.3 194.7 1418.3 195.45 1418.3 196.2 1418.3 196.95 1418.3 197.7 1418.3 198.45 1418.3 199.2 1418.3 199.95 1418.29 200.7 1418.28 201.45 1418.27 202.2 1418.24 202.95 1418.2 203.7 1418.14 204.45 1418.06 205.2 1417.95 205.95 1417.83 206.7 1417.69 207.45 1417.56 208.2 1417.44 208.95 1417.35 209.7 1417.3 210.45 1417.31 211.2 1417.36 211.95 1417.44 212.7 1417.56 213.45 1417.68 214.2 1417.81 214.95 1417.93 215.7 1418.03 216.45 1418.12 217.2 1418.18 217.95 1418.22 218.7 1418.25 219.45 1418.27 220.2 1418.29 220.95 1418.29 221.7 1418.3 222.45 1418.3 223.2 1418.3 223.95 1418.3 224.7 1418.3 225.45 1418.3 226.2 1418.3 226.95 1418.3 227.7 1418.3 228.45 1418.3 229.2 1418.3 229.95 1418.3 230.7 1418.3 231.45 1418.3 232.2 1418.3 242.7 1418.3 243.45 1418.3 244.2 1418.3 244.95 1418.3 245.7 1418.3 246.45 1418.3 247.2 1418.3 247.95 1418.3 248.7 1418.3 249.45 1418.3 250.2 1418.3 250.95 1418.3 251.7 1418.3 252.45 1418.3 253.2 1418.3 253.95 1418.29 254.7 1418.29 255.45 1418.27 256.2 1418.25 256.95 1418.21 257.7 1418.14 258.45 1418.05 259.2 1417.92 259.95 1417.74 260.7 1417.53 261.45 1417.29 262.2 1417.04 262.95 1416.82 263.7 1416.63 264.45 1416.52 265.2 1416.5 265.95 1416.57 266.7 1416.7 267.45 1416.89 268.2 1417.11 268.95 1417.35 269.7 1417.57 270.45 1417.76 271.2 1417.91 271.95 1418.01 272.7 1418.08 273.45 1418.09 274.2 1418.06 274.95 1417.99 275.7 1417.87 276.45 1417.71 277.2 1417.52 277.95 1417.32 278.7 1417.12 279.45 1416.95 280.2 1416.84 280.95 1416.78 281.7 1416.8 282.45 1416.86 283.2 1416.95 283.95 1417.03 284.7 1417.08 285.45 1417.07 286.2 1416.95 286.95 1416.74 287.7 1416.43 288.45 1416.05 289.2 1415.65 289.95 1415.29 290.7 1415.02 291.45 1414.89 292.2 1414.93 292.95 1415.11 293.7 1415.41 294.45 1415.8 295.2 1416.24 295.95 1416.67 296.7 1417.07 297.45 1417.42 298.2 1417.69 298.95 1417.9 299.7 1418.05 300.45 1418.15 301.2 1418.21 301.95 1418.25 302.7 1418.28 303.45 1418.29 304.2 1418.29 304.95 1418.3 305.7 1418.3 306.45 1418.3 307.2 1418.3 307.95 1418.3 308.7 1418.3 309.45 1418.3 310.2 1418.3 310.95 1418.3 311.7 1418.3 312.45 1418.3 313.2 1418.3 313.95 1418.3 320.7 1418.3 321.45 1418.3 322.2 1418.3 322.95 1418.3 323.7 1418.3 324.45 1418.3 325.2 1418.3 325.95 1418.3 326.7 1418.3 327.45 1418.3 328.2 1418.3 328.95 1418.3 329.7 1418.3 330.45 1418.3 331.2 1418.29 331.95 1418.28 332.7 1418.26 333.45 1418.19 334.2 1418.07 334.95 1417.81 335.7 1417.34 336.45 1416.54 337.2 1415.25 337.95 1413.35 338.7 1410.74 339.45 1407.46 340.2 1403.69 340.95 1399.82 341.7 1396.33 342.45 1393.76 343.2 1392.56 343.95 1392.59 344.7 1393.83 345.45 1396.14 346.2 1399.16 346.95 1402.52 347.7 1405.86 348.45 1408.92 349.2 1411.51 349.95 1413.58 350.7 1415.12 351.45 1416.21 352.2 1416.95 352.95 1417.42 353.7 1417.71 354.45 1417.88 355.2 1417.99 355.95 1418.05 356.7 1418.09 357.45 1418.12 358.2 1418.14 358.95 1418.16 359.7 1418.17 360.45 1418.19 361.2 1418.2 361.95 1418.21 362.7 1418.22 363.45 1418.23 364.2 1418.23 364.95 1418.24 365.7 1418.3 377.7 1418.3 378.45 1418.3 379.2 1418.3 379.95 1418.3 380.7 1418.3 381.45 1418.3 382.2 1418.3 382.95 1418.3 383.7 1418.3 384.45 1418.3 385.2 1418.3 385.95 1418.3 386.7 1418.3 387.45 1418.3 388.2 1418.29 388.95 1418.28 389.7 1418.27 390.45 1418.23 391.2 1418.17 391.95 1418.07 392.7 1417.91 393.45 1417.66 394.2 1417.3 394.95 1416.83 395.7 1416.25 396.45 1415.57 397.2 1414.86 397.95 1414.18 398.7 1413.61 399.45 1413.23 400.2 1413.1 400.95 1413.22 401.7 1413.56 402.45 1414.07 403.2 1414.7 403.95 1415.37 404.7 1416.02 405.45 1416.6 406.2 1417.08 406.95 1417.44 407.7 1417.66 408.45 1417.74 409.2 1417.64 409.95 1417.32 410.7 1416.72 411.45 1415.78 412.2 1414.45 412.95 1412.75 413.7 1410.76 414.45 1408.68 415.2 1406.77 415.95 1405.32 416.7 1404.57 417.45 1404.51 418.2 1405.09 418.95 1406.25 419.7 1407.83 420.45 1409.61 421.2 1411.41 421.95 1413.08 422.7 1414.5 423.45 1415.64 424.2 1416.5 424.95 1417.12 425.7 1417.53 426.45 1417.8 427.2 1417.97 427.95 1418.07 428.7 1418.13 429.45 1418.16 430.2 1418.19 430.95 1418.2 431.7 1418.21 432.45 1418.22 433.2 1418.23 433.95 1418.24 434.7 1418.24 435.45 1418.24 436.2 1418.23 436.95 1418.21 437.7 1418.18 438.45 1418.13 439.2 1418.09 439.95 1417.99 440.7 1417.87 441.45 1417.74 442.2 1417.6 442.95 1417.48 443.7 1417.37 444.45 1417.31 445.2 1417.3 445.95 1417.33 446.7 1417.4 447.45 1417.5 448.2 1417.61 448.95 1417.72 449.7 1417.81 450.45 1417.86 451.2 1417.88 451.95 1417.85 452.7 1417.78 453.45 1417.68 454.2 1417.57 454.95 1417.46 455.7 1417.36 456.45 1417.3 457.2 1417.28 457.95 1417.29 458.7 1417.31 459.45 1417.32 460.2 1417.28 460.95 1417.14 461.7 1416.84 462.45 1416.34 463.2 1415.6 463.95 1414.61 464.7 1413.41 465.45 1412.09 466.2 1410.76 466.95 1409.59 467.7 1408.74 468.45 1408.32 469.2 1408.31 469.95 1408.75 470.7 1409.6 471.45 1410.73 472.2 1412.01 472.95 1413.29 473.7 1414.48 474.45 1415.51 475.2 1416.33 475.95 1416.96 476.7 1417.41 477.45 1417.72 478.2 1417.92 478.95 1418.04 479.7 1418.11 480.45 1418.15 481.2 1418.15 481.95 1418.12 482.7 1418.06 483.45 1417.95 484.2 1417.78 484.95 1417.54 485.7 1417.23 486.45 1416.83 487.2 1416.39 487.95 1415.93 488.7 1415.49 489.45 1415.15 490.2 1414.93 490.95 1414.9 491.7 1415.01 492.45 1415.26 493.2 1415.61 493.95 1416.03 494.7 1416.47 495.45 1416.89 496.2 1417.27 496.95 1417.57 497.7 1417.81 498.45 1417.98 499.2 1418.1 499.95 1418.17 500.7 1418.2 501.45 1418.19 502.2 1418.14 502.95 1418.04 503.7 1417.88 504.45 1417.65 505.2 1417.33 505.95 1416.93 506.7 1416.46 507.45 1415.95 508.2 1415.46 508.95 1415.03 509.7 1414.74 510.45 1414.6 511.2 1414.65 511.95 1414.87 512.7 1415.21 513.45 1415.64 514.2 1416.12 514.95 1416.59 515.7 1417.02 516.45 1417.38 517.2 1417.67 517.95 1417.89 518.7 1418.05 519.45 1418.15 520.2 1418.21 520.95 1418.25 521.7 1418.27 522.45 1418.28 523.2 1418.28 523.95 1418.26 524.7 1418.23 525.45 1418.18 526.2 1418.09 526.95 1417.95 527.7 1417.76 528.45 1417.49 529.2 1417.16 529.95 1416.78 530.7 1416.37 531.45 1415.97 532.2 1415.63 532.95 1415.4 533.7 1415.3 534.45 1415.35 535.2 1415.53 535.95 1415.82 536.7 1416.17 537.45 1416.56 538.2 1416.94 538.95 1417.28 539.7 1417.58 540.45 1417.81 541.2 1417.98 541.95 1418.1 542.7 1418.18 543.45 1418.22 544.2 1418.24 544.95 1418.24 545.7 1418.22 546.45 1418.16 547.2 1418.05 547.95 1417.89 548.7 1417.65 549.45 1417.33 550.2 1416.91 550.95 1416.42 551.7 1415.87 552.45 1415.33 553.2 1414.85 553.95 1414.5 554.7 1414.31 555.45 1414.32 556.2 1414.5 556.95 1414.79 557.7 1415.12 558.45 1415.36 559.2 1415.33 559.95 1414.76 560.7 1413.32 561.45 1410.6 562.2 1406.15 562.95 1399.66 563.7 1391.05 564.45 1380.66 565.2 1369.34 565.95 1358.41 566.7 1349.46 567.45 1343.95 568.2 1342.54 568.95 1344.47 569.7 1349.88 570.45 1357.89 571.2 1367.4 571.95 1377.34 572.7 1386.77 573.45 1395.05 574.2 1401.83 574.95 1407.05 575.7 1410.83 576.45 1413.44 577.2 1415.14 577.95 1416.21 578.7 1416.85 579.45 1417.21 580.2 1417.41 580.95 1417.49 581.7 1417.5 582.45 1417.45 583.2 1417.34 583.95 1417.21 584.7 1417.04 585.45 1416.87 586.2 1416.73 586.95 1416.62 587.7 1416.58 588.45 1416.61 589.2 1416.7 589.95 1416.85 590.7 1417.19 591.45 1417.38 592.2 1417.57 592.95 1417.75 593.7 1417.9 594.45 1418.03 595.2 1418.12 595.95 1418.19 596.7 1418.23 597.45 1418.26 598.2 1418.28 598.95 1418.29 599.7 1418.29 600.45 1418.29 601.2 1418.29 601.95 1418.27 602.7 1418.24 603.45 1418.18 604.2 1418.06 604.95 1417.87 605.7 1417.57 606.45 1417.1 607.2 1416.44 607.95 1415.56 608.7 1414.47 609.45 1413.21 610.2 1411.88 610.95 1410.61 611.7 1409.55 612.45 1408.85 613.2 1408.6 613.95 1408.71 614.7 1409.27 615.45 1410.2 616.2 1411.36 616.95 1412.62 617.7 1413.84 618.45 1414.95 619.2 1415.88 619.95 1416.62 620.7 1417.17 621.45 1417.55 622.2 1417.81 622.95 1417.98 623.7 1418.09 624.45 1418.15 625.2 1418.19 625.95 1418.21 626.7 1418.22 627.45 1418.23 628.2 1418.24 628.95 1418.25 629.7 1418.25 630.45 1418.26 631.2 1418.26 631.95 1418.27 632.7 1418.27 633.45 1418.27 634.2 1418.28 634.95 1418.28 635.7 1418.3 659.7 1418.3 660.45 1418.3 661.2 1418.3 661.95 1418.3 662.7 1418.3 663.45 1418.3 664.2 1418.3 664.95 1418.3 665.7 1418.3 666.45 1418.3 667.2 1418.3 667.95 1418.3 668.7 1418.3 669.45 1418.3 670.2 1418.29 670.95 1418.28 671.7 1418.26 672.45 1418.23 673.2 1418.17 673.95 1418.07 674.7 1417.91 675.45 1417.68 676.2 1417.38 676.95 1416.99 677.7 1416.53 678.45 1416.02 679.2 1415.52 679.95 1415.09 680.7 1414.77 681.45 1414.61 682.2 1414.64 682.95 1414.83 683.7 1415.16 684.45 1415.58 685.2 1416.05 685.95 1416.53 686.7 1416.96 687.45 1417.32 688.2 1417.6 688.95 1417.79 689.7 1417.87 690.45 1417.84 691.2 1417.67 691.95 1417.34 692.7 1416.8 693.45 1416.02 694.2 1414.99 694.95 1413.73 695.7 1412.29 696.45 1410.79 697.2 1409.4 697.95 1408.27 698.7 1407.58 699.45 1407.38 700.2 1407.61 700.95 1408.34 701.7 1409.44 702.45 1410.78 703.2 1412.19 703.95 1413.55 704.7 1414.76 705.45 1415.77 706.2 1416.55 706.95 1417.13 707.7 1417.53 708.45 1417.8 709.2 1417.97 709.95 1418.08 710.7 1418.14 711.45 1418.18 712.2 1418.2 712.95 1418.22 713.7 1418.23 714.45 1418.24 715.2 1418.24 715.95 1418.25 716.7 1418.25 717.45 1418.26 718.2 1418.26 718.95 1418.27 719.7 1418.27 720.45 1418.27 721.2 1418.28 721.95 1418.3 722.7 1418.3 723.45 1418.3 724.2 1418.3 724.95 1418.3 725.7 1418.3 726.45 1418.3 727.2 1418.3 727.95 1418.3 728.7 1418.3 729.45 1418.3 730.2 1418.3 730.95 1418.29 731.7 1418.28 732.45 1418.27 733.2 1418.24 733.95 1418.2 734.7 1418.13 735.45 1418.04 736.2 1417.91 736.95 1417.74 737.7 1417.55 738.45 1417.35 739.2 1417.15 739.95 1416.98 740.7 1416.85 741.45 1416.8 742.2 1416.82 742.95 1416.91 743.7 1417.05 744.45 1417.22 745.2 1417.42 745.95 1417.61 746.7 1417.78 747.45 1417.93 748.2 1418.05 748.95 1418.13 749.7 1418.2 750.45 1418.24 751.2 1418.27 751.95 1418.28 752.7 1418.29 753.45 1418.3 754.2 1418.3 754.95 1418.3 755.7 1418.3 756.45 1418.3 757.2 1418.3 757.95 1418.3 758.7 1418.3 759.45 1418.3 760.2 1418.3 760.95 1418.3 761.7 1418.3 762.45 1418.3 763.2 1418.3 763.95 1418.3 764.7 1418.3 765.45 1418.3 766.2 1418.29 766.95 1418.29 767.7 1418.27 768.45 1418.24 769.2 1418.19 769.95 1418.11 770.7 1417.99 771.45 1417.8 772.2 1417.54 772.95 1417.2 773.7 1416.79 774.45 1416.33 775.2 1415.87 775.95 1415.44 776.7 1415.12 777.45 1414.93 778.2 1414.91 778.95 1415.05 779.7 1415.32 780.45 1415.69 781.2 1416.12 781.95 1416.56 782.7 1416.97 783.45 1417.33 784.2 1417.63 784.95 1417.85 785.7 1418.02 786.45 1418.13 787.2 1418.2 787.95 1418.24 788.7 1418.27 789.45 1418.29 790.2 1418.29 790.95 1418.3 791.7 1418.3 792.45 1418.3 793.2 1418.3 793.95 1418.3 794.7 1418.3 795.45 1418.3 796.2 1418.3 796.95 1418.3 797.7 1418.3 798.45 1418.3 799.2 1418.3 799.95 1418.3 1032.45 1418.3 1033.2 1418.3 1033.95 1418.3 1034.7 1418.3 1035.45 1418.3 1036.2 1418.3 1036.95 1418.3 1037.7 1418.3 1038.45 1418.3 1039.2 1418.3 1039.95 1418.3 1040.7 1418.3 1041.45 1418.3 1042.2 1418.3 1042.95 1418.3 1043.7 1418.3 1044.45 1418.3 1045.2 1418.3 1045.95 1418.29 1046.7 1418.28 1047.45 1418.27 1048.2 1418.25 1048.95 1418.23 1049.7 1418.19 1050.45 1418.15 1051.2 1418.09 1051.95 1418.04 1052.7 1417.99 1053.45 1417.94 1054.2 1417.91 1054.95 1417.9 1055.7 1417.91 1056.45 1417.93 1057.2 1417.97 1057.95 1418.02 1058.7 1418.07 1059.45 1418.12 1060.2 1418.17 1060.95 1418.21 1061.7 1418.24 1062.45 1418.26 1063.2 1418.27 1063.95 1418.28 1064.7 1418.29 1065.45 1418.3 1066.2 1418.3 1066.95 1418.3 1067.7 1418.3 1068.45 1418.3 1069.2 1418.3 1069.95 1418.3 1070.7 1418.3 1071.45 1418.3 1072.2 1418.3 1072.95 1418.3 1073.7 1418.3 1074.45 1418.3 1075.2 1418.3 1075.95 1418.3 1076.7 1418.3 1077.45 1418.3 1085.7 1418.3 1086.45 1418.3 1087.2 1418.3 1087.95 1418.3 1088.7 1418.3 1089.45 1418.3 1090.2 1418.3 1090.95 1418.3 1091.7 1418.3 1092.45 1418.3 1093.2 1418.3 1093.95 1418.3 1094.7 1418.3 1095.45 1418.3 1096.2 1418.3 1096.95 1418.3 1097.7 1418.3 1098.45 1418.29 1099.2 1418.28 1099.95 1418.27 1100.7 1418.25 1101.45 1418.22 1102.2 1418.17 1102.95 1418.11 1103.7 1418.04 1104.45 1417.96 1105.2 1417.88 1105.95 1417.81 1106.7 1417.74 1107.45 1417.71 1108.2 1417.7 1108.95 1417.72 1109.7 1417.77 1110.45 1417.83 1111.2 1417.9 1111.95 1417.98 1112.7 1418.06 1113.45 1418.12 1114.2 1418.18 1114.95 1418.22 1115.7 1418.25 1116.45 1418.27 1117.2 1418.28 1117.95 1418.29 1118.7 1418.29 1119.45 1418.3 1120.2 1418.3 1120.95 1418.3 1121.7 1418.3 1122.45 1418.3 1123.2 1418.3 1123.95 1418.3 1124.7 1418.3 1125.45 1418.3 1126.2 1418.3 1126.95 1418.3 1127.7 1418.3 1128.45 1418.3 1129.2 1418.3 1129.95 1418.3 1130.7 1418.3 1142.7 1418.3 1143.45 1418.3 1144.2 1418.3 1144.95 1418.3 1145.7 1418.3 1146.45 1418.3 1147.2 1418.3 1147.95 1418.3 1148.7 1418.3 1149.45 1418.3 1150.2 1418.3 1150.95 1418.3 1151.7 1418.3 1152.45 1418.3 1153.2 1418.3 1153.95 1418.3 1154.7 1418.3 1155.45 1418.29 1156.2 1418.28 1156.95 1418.27 1157.7 1418.25 1158.45 1418.22 1159.2 1418.17 1159.95 1418.11 1160.7 1418.04 1161.45 1417.96 1162.2 1417.88 1162.95 1417.81 1163.7 1417.74 1164.45 1417.71 1165.2 1417.7 1165.95 1417.72 1166.7 1417.77 1167.45 1417.83 1168.2 1417.9 1168.95 1417.98 1169.7 1418.06 1170.45 1418.12 1171.2 1418.18 1171.95 1418.22 1172.7 1418.25 1173.45 1418.27 1174.2 1418.28 1174.95 1418.29 1175.7 1418.29 1176.45 1418.3 1177.2 1418.3 1177.95 1418.3 1178.7 1418.3 1179.45 1418.3 1180.2 1418.3 1180.95 1418.3 1181.7 1418.3 1182.45 1418.3 1183.2 1418.3 1183.95 1418.3 1184.7 1418.3 1185.45 1418.3 1186.2 1418.3 1186.95 1418.3 1187.7 1418.3 1387.95 1418.3" fill="none" stroke="#111" stroke-width="2" stroke-linejoin="round"/>
<g class="tk"><text x="107" y="1435.1">6</text><text x="163.95" y="1435.1">7</text><text x="220.9" y="1435.1">8</text><text x="277.85" y="1435.1">9</text><text x="334.8" y="1435.1">10</text><text x="391.75" y="1435.1">11</text><text x="448.7" y="1435.1">12</text><text x="505.65" y="1435.1">13</text><text x="562.6" y="1435.1">14</text><text x="619.55" y="1435.1">15</text><text x="676.5" y="1435.1">16</text><text x="733.45" y="1435.1">17</text><text x="790.4" y="1435.1">18</text><text x="847.35" y="1435.1">19</text><text x="904.3" y="1435.1">20</text><text x="961.25" y="1435.1">21</text><text x="1018.2" y="1435.1">22</text><text x="1075.15" y="1435.1">23</text><text x="1132.1" y="1435.1">24</text><text x="1189.05" y="1435.1">25</text><text x="1246" y="1435.1">26</text><text x="1302.95" y="1435.1">27</text><text x="1359.9" y="1435.1">28</text></g>
<path d="M64.2 1513.2H1388.5" stroke="#444" stroke-width="1.1" fill="none"/>
<path d="M107 1513.2v3.3M163.95 1513.2v3.3M220.9 1513.2v3.3M277.85 1513.2v3.3M334.8 1513.2v3.3M391.75 1513.2v3.3M448.7 1513.2v3.3M505.65 1513.2v3.3M562.6 1513.2v3.3M619.55 1513.2v3.3M676.5 1513.2v3.3M733.45 1513.2v3.3M790.4 1513.2v3.3M847.35 1513.2v3.3M904.3 1513.2v3.3M961.25 1513.2v3.3M1018.2 1513.2v3.3M1075.15 1513.2v3.3M1132.1 1513.2v3.3M1189.05 1513.2v3.3M1246 1513.2v3.3M1302.95 1513.2v3.3M1359.9 1513.2v3.3" stroke="#666" stroke-width="1" fill="none"/>
<path d="M72.83 1513.2v1.9M84.22 1513.2v1.9M95.61 1513.2v1.9M118.39 1513.2v1.9M129.78 1513.2v1.9M141.17 1513.2v1.9M152.56 1513.2v1.9M175.34 1513.2v1.9M186.73 1513.2v1.9M198.12 1513.2v1.9M209.51 1513.2v1.9M232.29 1513.2v1.9M243.68 1513.2v1.9M255.07 1513.2v1.9M266.46 1513.2v1.9M289.24 1513.2v1.9M300.63 1513.2v1.9M312.02 1513.2v1.9M323.41 1513.2v1.9M346.19 1513.2v1.9M357.58 1513.2v1.9M368.97 1513.2v1.9M380.36 1513.2v1.9M403.14 1513.2v1.9M414.53 1513.2v1.9M425.92 1513.2v1.9M437.31 1513.2v1.9M460.09 1513.2v1.9M471.48 1513.2v1.9M482.87 1513.2v1.9M494.26 1513.2v1.9M517.04 1513.2v1.9M528.43 1513.2v1.9M539.82 1513.2v1.9M551.21 1513.2v1.9M573.99 1513.2v1.9M585.38 1513.2v1.9M596.77 1513.2v1.9M608.16 1513.2v1.9M630.94 1513.2v1.9M642.33 1513.2v1.9M653.72 1513.2v1.9M665.11 1513.2v1.9M687.89 1513.2v1.9M699.28 1513.2v1.9M710.67 1513.2v1.9M722.06 1513.2v1.9M744.84 1513.2v1.9M756.23 1513.2v1.9M767.62 1513.2v1.9M779.01 1513.2v1.9M801.79 1513.2v1.9M813.18 1513.2v1.9M824.57 1513.2v1.9M835.96 1513.2v1.9M858.74 1513.2v1.9M870.13 1513.2v1.9M881.52 1513.2v1.9M892.91 1513.2v1.9M915.69 1513.2v1.9M927.08 1513.2v1.9M938.47 1513.2v1.9M949.86 1513.2v1.9M972.64 1513.2v1.9M984.03 1513.2v1.9M995.42 1513.2v1.9M1006.81 1513.2v1.9M1029.59 1513.2v1.9M1040.98 1513.2v1.9M1052.37 1513.2v1.9M1063.76 1513.2v1.9M1086.54 1513.2v1.9M1097.93 1513.2v1.9M1109.32 1513.2v1.9M1120.71 1513.2v1.9M1143.49 1513.2v1.9M1154.88 1513.2v1.9M1166.27 1513.2v1.9M1177.66 1513.2v1.9M1200.44 1513.2v1.9M1211.83 1513.2v1.9M1223.22 1513.2v1.9M1234.61 1513.2v1.9M1257.39 1513.2v1.9M1268.78 1513.2v1.9M1280.17 1513.2v1.9M1291.56 1513.2v1.9M1314.34 1513.2v1.9M1325.73 1513.2v1.9M1337.12 1513.2v1.9M1348.51 1513.2v1.9M1371.29 1513.2v1.9M1382.68 1513.2v1.9" stroke="#888" stroke-width="0.9" fill="none"/>
<path d="M64.2 1511 157.95 1511 158.7 1511 159.45 1511 160.2 1511 160.95 1511 161.7 1511 162.45 1511 163.2 1511 163.95 1511 164.7 1511 165.45 1511 166.2 1511 166.95 1511 167.7 1511 168.45 1511 169.2 1510.99 169.95 1510.99 170.7 1510.98 171.45 1510.96 172.2 1510.93 172.95 1510.88 173.7 1510.81 174.45 1510.71 175.2 1510.58 175.95 1510.43 176.7 1510.27 177.45 1510.11 178.2 1509.97 178.95 1509.86 179.7 1509.8 180.45 1509.81 181.2 1509.87 181.95 1509.97 182.7 1510.11 183.45 1510.26 184.2 1510.42 184.95 1510.56 185.7 1510.68 186.45 1510.78 187.2 1510.86 187.95 1510.91 188.7 1510.95 189.45 1510.97 190.2 1510.98 190.95 1510.99 191.7 1511 192.45 1511 193.2 1511 193.95 1511 194.7 1511 195.45 1511 196.2 1511 196.95 1510.99 197.7 1510.99 198.45 1510.98 199.2 1510.96 199.95 1510.92 200.7 1510.87 201.45 1510.79 202.2 1510.68 202.95 1510.53 203.7 1510.36 204.45 1510.16 205.2 1509.95 205.95 1509.76 206.7 1509.61 207.45 1509.52 208.2 1509.5 208.95 1509.55 209.7 1509.67 210.45 1509.83 211.2 1510.01 211.95 1510.21 212.7 1510.39 213.45 1510.55 214.2 1510.69 214.95 1510.79 215.7 1510.87 216.45 1510.92 217.2 1510.95 217.95 1510.97 218.7 1510.99 219.45 1510.99 220.2 1511 220.95 1511 221.7 1510.99 222.45 1510.99 223.2 1510.98 223.95 1510.97 224.7 1510.95 225.45 1510.92 226.2 1510.87 226.95 1510.81 227.7 1510.74 228.45 1510.66 229.2 1510.58 229.95 1510.51 230.7 1510.44 231.45 1510.41 232.2 1510.4 232.95 1510.42 233.7 1510.47 234.45 1510.53 235.2 1510.6 235.95 1510.68 236.7 1510.76 237.45 1510.82 238.2 1510.88 238.95 1510.92 239.7 1510.95 240.45 1510.97 241.2 1510.98 241.95 1510.99 242.7 1510.99 243.45 1511 244.2 1511 244.95 1511 245.7 1511 246.45 1511 247.2 1511 247.95 1511 248.7 1511 249.45 1511 250.2 1511 250.95 1511 251.7 1511 252.45 1510.99 253.2 1510.99 253.95 1510.97 254.7 1510.94 255.45 1510.9 256.2 1510.82 256.95 1510.69 257.7 1510.52 258.45 1510.27 259.2 1509.96 259.95 1509.59 260.7 1509.18 261.45 1508.77 262.2 1508.41 262.95 1508.15 263.7 1508.01 264.45 1508.02 265.2 1508.17 265.95 1508.43 266.7 1508.77 267.45 1509.15 268.2 1509.54 268.95 1509.89 269.7 1510.2 270.45 1510.44 271.2 1510.61 271.95 1510.72 272.7 1510.77 273.45 1510.77 274.2 1510.71 274.95 1510.61 275.7 1510.47 276.45 1510.29 277.2 1510.09 277.95 1509.89 278.7 1509.7 279.45 1509.57 280.2 1509.49 280.95 1509.49 281.7 1509.53 282.45 1509.61 283.2 1509.7 283.95 1509.77 284.7 1509.77 285.45 1509.68 286.2 1509.48 286.95 1509.17 287.7 1508.78 288.45 1508.34 289.2 1507.91 289.95 1507.56 290.7 1507.34 291.45 1507.29 292.2 1507.41 292.95 1507.69 293.7 1508.07 294.45 1508.53 295.2 1509.01 295.95 1509.47 296.7 1509.87 297.45 1510.21 298.2 1510.47 298.95 1510.66 299.7 1510.79 300.45 1510.88 301.2 1510.93 301.95 1510.96 302.7 1510.98 303.45 1510.99 304.2 1511 304.95 1511 305.7 1511 306.45 1511 307.2 1511 307.95 1511 308.7 1511 309.45 1511 310.2 1511 310.95 1511 311.7 1511 312.45 1511 313.2 1511 313.95 1511 319.95 1511 320.7 1511 321.45 1511 322.2 1511 322.95 1511 323.7 1511 324.45 1511 325.2 1511 325.95 1511 326.7 1511 327.45 1511 328.2 1511 328.95 1511 329.7 1511 330.45 1511 331.2 1510.99 331.95 1510.97 332.7 1510.93 333.45 1510.85 334.2 1510.68 334.95 1510.38 335.7 1509.86 336.45 1509.04 337.2 1507.83 337.95 1506.19 338.7 1504.13 339.45 1501.78 340.2 1499.38 340.95 1497.25 341.7 1495.7 342.45 1495.02 343.2 1495.08 343.95 1495.9 344.7 1497.37 345.45 1499.26 346.2 1501.35 346.95 1503.42 347.7 1505.3 348.45 1506.89 349.2 1508.14 349.95 1509.08 350.7 1509.74 351.45 1510.18 352.2 1510.47 352.95 1510.64 353.7 1510.75 354.45 1510.81 355.2 1510.85 355.95 1510.87 356.7 1510.89 357.45 1510.9 358.2 1510.91 358.95 1510.92 359.7 1510.93 360.45 1510.94 361.2 1510.94 361.95 1510.95 362.7 1510.95 363.45 1510.96 364.2 1510.96 364.95 1511 377.7 1511 378.45 1511 379.2 1511 379.95 1511 380.7 1511 381.45 1511 382.2 1511 382.95 1511 383.7 1511 384.45 1511 385.2 1511 385.95 1511 386.7 1511 387.45 1511 388.2 1511 388.95 1510.99 389.7 1510.98 390.45 1510.96 391.2 1510.93 391.95 1510.87 392.7 1510.77 393.45 1510.63 394.2 1510.43 394.95 1510.15 395.7 1509.82 396.45 1509.43 397.2 1509.02 397.95 1508.62 398.7 1508.29 399.45 1508.08 400.2 1508 400.95 1508.07 401.7 1508.26 402.45 1508.56 403.2 1508.92 403.95 1509.3 404.7 1509.67 405.45 1509.99 406.2 1510.23 406.95 1510.36 407.7 1510.33 408.45 1510.11 409.2 1509.6 409.95 1508.74 410.7 1507.44 411.45 1505.66 412.2 1503.46 412.95 1500.98 413.7 1498.48 414.45 1496.3 415.2 1494.79 415.95 1494.2 416.7 1494.36 417.45 1495.32 418.2 1496.93 418.95 1498.96 419.7 1501.16 420.45 1503.32 421.2 1505.26 421.95 1506.88 422.7 1508.15 423.45 1509.09 424.2 1509.75 424.95 1510.19 425.7 1510.47 426.45 1510.64 427.2 1510.75 427.95 1510.81 428.7 1510.84 429.45 1510.87 430.2 1510.88 430.95 1510.89 431.7 1510.88 432.45 1510.87 433.2 1510.84 433.95 1510.78 434.7 1510.7 435.45 1510.58 436.2 1510.43 436.95 1510.25 437.7 1510.05 438.45 1509.89 439.2 1509.71 439.95 1509.57 440.7 1509.5 441.45 1509.5 442.2 1509.57 442.95 1509.68 443.7 1509.82 444.45 1509.97 445.2 1510.09 445.95 1510.17 446.7 1510.19 447.45 1510.15 448.2 1510.05 448.95 1509.91 449.7 1509.76 450.45 1509.62 451.2 1509.52 451.95 1509.49 452.7 1509.52 453.45 1509.62 454.2 1509.77 454.95 1509.95 455.7 1510.14 456.45 1510.32 457.2 1510.48 457.95 1510.59 458.7 1510.65 459.45 1510.64 460.2 1510.53 460.95 1510.3 461.7 1509.92 462.45 1509.37 463.2 1508.62 463.95 1507.69 464.7 1506.62 465.45 1505.5 466.2 1504.43 466.95 1503.55 467.7 1502.98 468.45 1502.79 469.2 1502.91 469.95 1503.41 470.7 1504.21 471.45 1505.2 472.2 1506.27 472.95 1507.3 473.7 1508.23 474.45 1509 475.2 1509.61 475.95 1510.07 476.7 1510.39 477.45 1510.6 478.2 1510.74 478.95 1510.82 479.7 1510.86 480.45 1510.88 481.2 1510.88 481.95 1510.85 482.7 1510.8 483.45 1510.7 484.2 1510.55 484.95 1510.34 485.7 1510.06 486.45 1509.71 487.2 1509.32 487.95 1508.91 488.7 1508.53 489.45 1508.22 490.2 1508.03 490.95 1508 491.7 1508.1 492.45 1508.32 493.2 1508.63 493.95 1509 494.7 1509.39 495.45 1509.76 496.2 1510.08 496.95 1510.35 497.7 1510.55 498.45 1510.69 499.2 1510.77 499.95 1510.79 500.7 1510.75 501.45 1510.64 502.2 1510.47 502.95 1510.23 503.7 1509.91 504.45 1509.53 505.2 1509.12 505.95 1508.72 506.7 1508.37 507.45 1508.12 508.2 1508.01 508.95 1508.04 509.7 1508.2 510.45 1508.47 511.2 1508.82 511.95 1509.21 512.7 1509.59 513.45 1509.94 514.2 1510.24 514.95 1510.48 515.7 1510.66 516.45 1510.79 517.2 1510.87 517.95 1510.93 518.7 1510.96 519.45 1510.98 520.2 1510.99 520.95 1510.99 521.7 1510.98 522.45 1510.97 523.2 1510.94 523.95 1510.88 524.7 1510.78 525.45 1510.62 526.2 1510.38 526.95 1510.03 527.7 1509.57 528.45 1508.99 529.2 1508.32 529.95 1507.61 530.7 1506.92 531.45 1506.34 532.2 1505.95 532.95 1505.8 533.7 1505.9 534.45 1506.23 535.2 1506.73 535.95 1507.35 536.7 1508.03 537.45 1508.68 538.2 1509.28 538.95 1509.77 539.7 1510.17 540.45 1510.46 541.2 1510.66 541.95 1510.79 542.7 1510.87 543.45 1510.89 544.2 1510.88 544.95 1510.82 545.7 1510.71 546.45 1510.53 547.2 1510.27 547.95 1509.92 548.7 1509.49 549.45 1508.97 550.2 1508.43 550.95 1507.9 551.7 1507.44 552.45 1507.13 553.2 1507 553.95 1507.06 554.7 1507.27 555.45 1507.6 556.2 1507.95 556.95 1508.19 557.7 1508.15 558.45 1507.58 559.2 1506.15 559.95 1503.48 560.7 1499.19 561.45 1493 562.2 1484.87 562.95 1475.19 563.7 1464.8 564.45 1454.95 565.2 1447.11 565.95 1442.57 566.7 1441.68 567.45 1443.91 568.2 1449.23 568.95 1456.8 569.7 1465.62 570.45 1474.7 571.2 1483.22 571.95 1490.63 572.7 1496.64 573.45 1501.23 574.2 1504.54 574.95 1506.8 575.7 1508.27 576.45 1509.18 577.2 1509.72 577.95 1510.02 578.7 1510.16 579.45 1510.19 580.2 1510.14 580.95 1510 581.7 1509.78 582.45 1509.49 583.2 1509.14 583.95 1508.76 584.7 1508.39 585.45 1508.09 586.2 1507.88 586.95 1507.82 587.7 1507.89 588.45 1508.25 589.2 1508.54 589.95 1508.9 590.7 1509.28 591.45 1509.66 592.2 1510.01 592.95 1510.29 593.7 1510.52 594.45 1510.69 595.2 1510.81 595.95 1510.89 596.7 1510.94 597.45 1510.96 598.2 1510.98 598.95 1510.98 599.7 1510.98 600.45 1510.96 601.2 1510.91 601.95 1510.83 602.7 1510.68 603.45 1510.44 604.2 1510.07 604.95 1509.52 605.7 1508.77 606.45 1507.81 607.2 1506.66 607.95 1505.38 608.7 1504.11 609.45 1502.97 610.2 1502.11 610.95 1501.65 611.7 1501.6 612.45 1501.95 613.2 1502.7 613.95 1503.73 614.7 1504.92 615.45 1506.14 616.2 1507.27 616.95 1508.26 617.7 1509.06 618.45 1509.67 619.2 1510.12 619.95 1510.42 620.7 1510.62 621.45 1510.75 622.2 1510.83 622.95 1510.87 623.7 1510.9 624.45 1510.92 625.2 1510.93 625.95 1510.94 626.7 1510.95 627.45 1510.95 628.2 1510.96 628.95 1510.96 629.7 1510.96 630.45 1510.95 631.2 1510.94 631.95 1510.92 632.7 1510.89 633.45 1510.86 634.2 1510.79 634.95 1510.69 635.7 1510.57 636.45 1510.44 637.2 1510.3 637.95 1510.18 638.7 1510.07 639.45 1510.01 640.2 1510 640.95 1510.04 641.7 1510.11 642.45 1510.22 643.2 1510.34 643.95 1510.47 644.7 1510.59 645.45 1510.7 646.2 1510.79 646.95 1510.86 647.7 1510.91 648.45 1510.95 649.2 1510.97 649.95 1510.98 650.7 1510.99 651.45 1511 652.2 1511 652.95 1511 653.7 1511 654.45 1511 655.2 1511 655.95 1511 656.7 1511 657.45 1511 658.2 1511 658.95 1511 659.7 1511 660.45 1511 661.2 1511 661.95 1511 662.7 1511 663.45 1511 664.2 1511 664.95 1511 665.7 1511 666.45 1511 667.2 1511 667.95 1511 668.7 1510.99 669.45 1510.99 670.2 1510.97 670.95 1510.94 671.7 1510.89 672.45 1510.8 673.2 1510.65 673.95 1510.44 674.7 1510.15 675.45 1509.76 676.2 1509.29 676.95 1508.76 677.7 1508.21 678.45 1507.7 679.2 1507.3 679.95 1507.06 680.7 1507.01 681.45 1507.14 682.2 1507.44 682.95 1507.87 683.7 1508.36 684.45 1508.88 685.2 1509.36 685.95 1509.78 686.7 1510.11 687.45 1510.32 688.2 1510.41 688.95 1510.36 689.7 1510.14 690.45 1509.71 691.2 1509.05 691.95 1508.12 692.7 1506.93 693.45 1505.52 694.2 1504 694.95 1502.5 695.7 1501.19 696.45 1500.25 697.2 1499.82 697.95 1499.84 698.7 1500.36 699.45 1501.33 700.2 1502.61 700.95 1504.05 701.7 1505.49 702.45 1506.81 703.2 1507.94 703.95 1508.85 704.7 1509.54 705.45 1510.03 706.2 1510.37 706.95 1510.59 707.7 1510.73 708.45 1510.81 709.2 1510.86 709.95 1510.89 710.7 1510.91 711.45 1510.92 712.2 1510.93 712.95 1510.94 713.7 1510.95 714.45 1510.95 715.2 1510.96 715.95 1510.96 716.7 1510.96 717.45 1510.97 718.2 1510.97 718.95 1510.97 719.7 1511 720.45 1511 721.2 1511 721.95 1511 722.7 1511 723.45 1511 724.2 1511 724.95 1511 725.7 1511 726.45 1511 727.2 1511 727.95 1511 728.7 1510.99 729.45 1510.99 730.2 1510.98 730.95 1510.96 731.7 1510.92 732.45 1510.87 733.2 1510.78 733.95 1510.67 734.7 1510.52 735.45 1510.35 736.2 1510.15 736.95 1509.94 737.7 1509.75 738.45 1509.6 739.2 1509.52 739.95 1509.5 740.7 1509.56 741.45 1509.68 742.2 1509.84 742.95 1510.03 743.7 1510.22 744.45 1510.4 745.2 1510.56 745.95 1510.7 746.7 1510.8 747.45 1510.87 748.2 1510.92 748.95 1510.95 749.7 1510.97 750.45 1510.99 751.2 1510.99 751.95 1511 752.7 1511 753.45 1511 754.2 1511 754.95 1511 755.7 1511 756.45 1511 757.2 1511 757.95 1511 758.7 1511 759.45 1511 760.2 1511 760.95 1511 761.7 1511 762.45 1511 763.2 1511 763.95 1510.99 764.7 1510.99 765.45 1510.97 766.2 1510.94 766.95 1510.88 767.7 1510.78 768.45 1510.62 769.2 1510.38 769.95 1510.03 770.7 1509.57 771.45 1508.99 772.2 1508.32 772.95 1507.61 773.7 1506.92 774.45 1506.34 775.2 1505.95 775.95 1505.8 776.7 1505.9 777.45 1506.23 778.2 1506.73 778.95 1507.35 779.7 1508.03 780.45 1508.68 781.2 1509.28 781.95 1509.77 782.7 1510.17 783.45 1510.46 784.2 1510.67 784.95 1510.8 785.7 1510.89 786.45 1510.94 787.2 1510.97 787.95 1510.98 788.7 1510.99 789.45 1511 790.2 1511 790.95 1511 791.7 1511 792.45 1511 793.2 1511 793.95 1511 794.7 1511 795.45 1511 796.2 1511 796.95 1511 797.7 1511 798.45 1511 827.7 1511 828.45 1511 829.2 1511 829.95 1511 830.7 1511 831.45 1511 832.2 1511 832.95 1511 833.7 1511 834.45 1511 835.2 1511 835.95 1511 836.7 1511 837.45 1511 838.2 1511 838.95 1511 839.7 1510.99 840.45 1510.99 841.2 1510.98 841.95 1510.96 842.7 1510.93 843.45 1510.89 844.2 1510.83 844.95 1510.75 845.7 1510.66 846.45 1510.55 847.2 1510.44 847.95 1510.34 848.7 1510.26 849.45 1510.21 850.2 1510.2 850.95 1510.23 851.7 1510.29 852.45 1510.37 853.2 1510.47 853.95 1510.58 854.7 1510.68 855.45 1510.76 856.2 1510.83 856.95 1510.89 857.7 1510.93 858.45 1510.96 859.2 1510.97 859.95 1510.99 860.7 1510.99 861.45 1511 862.2 1511 862.95 1511 863.7 1511 864.45 1511 865.2 1511 865.95 1511 866.7 1511 867.45 1511 868.2 1511 868.95 1511 869.7 1511 870.45 1511 871.2 1511 871.95 1511 872.7 1511 957.45 1511 958.2 1511 958.95 1511 959.7 1511 960.45 1511 961.2 1511 961.95 1511 962.7 1511 963.45 1511 964.2 1511 964.95 1511 965.7 1511 966.45 1511 967.2 1511 967.95 1511 968.7 1511 969.45 1511 970.2 1510.99 970.95 1510.99 971.7 1510.97 972.45 1510.96 973.2 1510.93 973.95 1510.89 974.7 1510.83 975.45 1510.77 976.2 1510.69 976.95 1510.61 977.7 1510.53 978.45 1510.46 979.2 1510.42 979.95 1510.4 980.7 1510.41 981.45 1510.45 982.2 1510.51 982.95 1510.58 983.7 1510.66 984.45 1510.73 985.2 1510.8 985.95 1510.86 986.7 1510.9 987.45 1510.94 988.2 1510.96 988.95 1510.98 989.7 1510.99 990.45 1510.99 991.2 1511 991.95 1511 992.7 1511 993.45 1511 994.2 1511 994.95 1511 995.7 1511 996.45 1511 997.2 1511 997.95 1511 998.7 1511 999.45 1511 1000.2 1511 1000.95 1511 1001.7 1511 1002.45 1511 1027.95 1511 1028.7 1511 1029.45 1511 1030.2 1511 1030.95 1511 1031.7 1511 1032.45 1511 1033.2 1511 1033.95 1511 1034.7 1511 1035.45 1511 1036.2 1511 1036.95 1511 1037.7 1511 1038.45 1511 1039.2 1511 1039.95 1511 1040.7 1510.99 1041.45 1510.99 1042.2 1510.98 1042.95 1510.96 1043.7 1510.94 1044.45 1510.9 1045.2 1510.86 1045.95 1510.81 1046.7 1510.76 1047.45 1510.7 1048.2 1510.66 1048.95 1510.62 1049.7 1510.6 1050.45 1510.6 1051.2 1510.62 1051.95 1510.66 1052.7 1510.7 1053.45 1510.75 1054.2 1510.81 1054.95 1510.85 1055.7 1510.89 1056.45 1510.93 1057.2 1510.95 1057.95 1510.97 1058.7 1510.98 1059.45 1510.99 1060.2 1510.99 1060.95 1511 1061.7 1511 1062.45 1511 1063.2 1511 1063.95 1511 1064.7 1511 1065.45 1511 1066.2 1511 1066.95 1511 1067.7 1511 1068.45 1511 1069.2 1511 1069.95 1511 1070.7 1511 1071.45 1511 1072.2 1511 1080.45 1511 1081.2 1511 1081.95 1511 1082.7 1511 1083.45 1511 1084.2 1511 1084.95 1511 1085.7 1511 1086.45 1511 1087.2 1511 1087.95 1511 1088.7 1511 1089.45 1511 1090.2 1511 1090.95 1511 1091.7 1511 1092.45 1511 1093.2 1510.99 1093.95 1510.98 1094.7 1510.97 1095.45 1510.95 1096.2 1510.92 1096.95 1510.87 1097.7 1510.81 1098.45 1510.73 1099.2 1510.64 1099.95 1510.54 1100.7 1510.45 1101.45 1510.37 1102.2 1510.32 1102.95 1510.3 1103.7 1510.31 1104.45 1510.36 1105.2 1510.43 1105.95 1510.51 1106.7 1510.6 1107.45 1510.69 1108.2 1510.77 1108.95 1510.83 1109.7 1510.89 1110.45 1510.93 1111.2 1510.96 1111.95 1510.97 1112.7 1510.98 1113.45 1510.99 1114.2 1511 1114.95 1511 1115.7 1511 1116.45 1511 1117.2 1511 1117.95 1511 1118.7 1511 1119.45 1511 1120.2 1511 1120.95 1511 1121.7 1511 1122.45 1511 1123.2 1511 1123.95 1511 1124.7 1511 1125.45 1511 1137.45 1511 1138.2 1511 1138.95 1511 1139.7 1511 1140.45 1511 1141.2 1511 1141.95 1511 1142.7 1511 1143.45 1511 1144.2 1511 1144.95 1511 1145.7 1511 1146.45 1511 1147.2 1511 1147.95 1511 1148.7 1511 1149.45 1511 1150.2 1510.99 1150.95 1510.98 1151.7 1510.97 1152.45 1510.94 1153.2 1510.9 1153.95 1510.85 1154.7 1510.78 1155.45 1510.69 1156.2 1510.59 1156.95 1510.48 1157.7 1510.37 1158.45 1510.28 1159.2 1510.22 1159.95 1510.2 1160.7 1510.22 1161.45 1510.27 1162.2 1510.34 1162.95 1510.44 1163.7 1510.54 1164.45 1510.64 1165.2 1510.73 1165.95 1510.81 1166.7 1510.87 1167.45 1510.92 1168.2 1510.95 1168.95 1510.97 1169.7 1510.98 1170.45 1510.99 1171.2 1511 1171.95 1511 1172.7 1511 1173.45 1511 1174.2 1511 1174.95 1511 1175.7 1511 1176.45 1511 1177.2 1511 1177.95 1511 1178.7 1511 1179.45 1511 1180.2 1511 1180.95 1511 1181.7 1511 1182.45 1511 1387.95 1511" fill="none" stroke="#111" stroke-width="2" stroke-linejoin="round"/>
<g class="tk"><text x="107" y="1527.8">6</text><text x="163.95" y="1527.8">7</text><text x="220.9" y="1527.8">8</text><text x="277.85" y="1527.8">9</text><text x="334.8" y="1527.8">10</text><text x="391.75" y="1527.8">11</text><text x="448.7" y="1527.8">12</text><text x="505.65" y="1527.8">13</text><text x="562.6" y="1527.8">14</text><text x="619.55" y="1527.8">15</text><text x="676.5" y="1527.8">16</text><text x="733.45" y="1527.8">17</text><text x="790.4" y="1527.8">18</text><text x="847.35" y="1527.8">19</text><text x="904.3" y="1527.8">20</text><text x="961.25" y="1527.8">21</text><text x="1018.2" y="1527.8">22</text><text x="1075.15" y="1527.8">23</text><text x="1132.1" y="1527.8">24</text><text x="1189.05" y="1527.8">25</text><text x="1246" y="1527.8">26</text><text x="1302.95" y="1527.8">27</text><text x="1359.9" y="1527.8">28</text></g>
<text x="53" y="668" font-size="34" style="stroke-width:.2px">M<tspan font-size="23" dy="7">0</tspan><tspan dy="-7">+G</tspan><tspan font-size="23" dy="7">0</tspan><tspan dy="-7"> (Ctrl)</tspan></text>
<text x="53" y="773" font-size="34" style="stroke-width:.2px">M<tspan font-size="23" dy="7">m</tspan><tspan dy="-7">+G</tspan><tspan font-size="23" dy="7">0</tspan><tspan dy="-7"></tspan></text>
<text x="55" y="874.5" font-size="34" style="stroke-width:.2px">M<tspan font-size="23" dy="7">h</tspan><tspan dy="-7">+G</tspan><tspan font-size="23" dy="7">0</tspan><tspan dy="-7"></tspan></text>
<text x="55" y="980" font-size="34" style="stroke-width:.2px">M<tspan font-size="23" dy="7">0</tspan><tspan dy="-7">+G</tspan><tspan font-size="23" dy="7">m</tspan><tspan dy="-7"></tspan></text>
<text x="52" y="1087" font-size="34" style="stroke-width:.2px">M<tspan font-size="23" dy="7">m</tspan><tspan dy="-7">+G</tspan><tspan font-size="23" dy="7">m</tspan><tspan dy="-7"></tspan></text>
<text x="52" y="1194" font-size="34" style="stroke-width:.2px">M<tspan font-size="23" dy="7">h</tspan><tspan dy="-7"> +G</tspan><tspan font-size="23" dy="7">m</tspan><tspan dy="-7"></tspan></text>
<text x="53" y="1297" font-size="34" style="stroke-width:.2px">M<tspan font-size="23" dy="7">0</tspan><tspan dy="-7">+G</tspan><tspan font-size="23" dy="7">h</tspan><tspan dy="-7"></tspan></text>
<text x="53" y="1404" font-size="34" style="stroke-width:.2px">M<tspan font-size="23" dy="7">m</tspan><tspan dy="-7">+G</tspan><tspan font-size="23" dy="7">h</tspan><tspan dy="-7"></tspan></text>
<text x="55" y="1497" font-size="34" style="stroke-width:.2px">M<tspan font-size="23" dy="7">h</tspan><tspan dy="-7">+G</tspan><tspan font-size="23" dy="7">h</tspan><tspan dy="-7"></tspan></text>
<text x="705" y="1551" font-size="21" textLength="102.5" lengthAdjust="spacingAndGlyphs" style="stroke-width:.15px">Time (min)</text>
</g>
</svg></body></html>
